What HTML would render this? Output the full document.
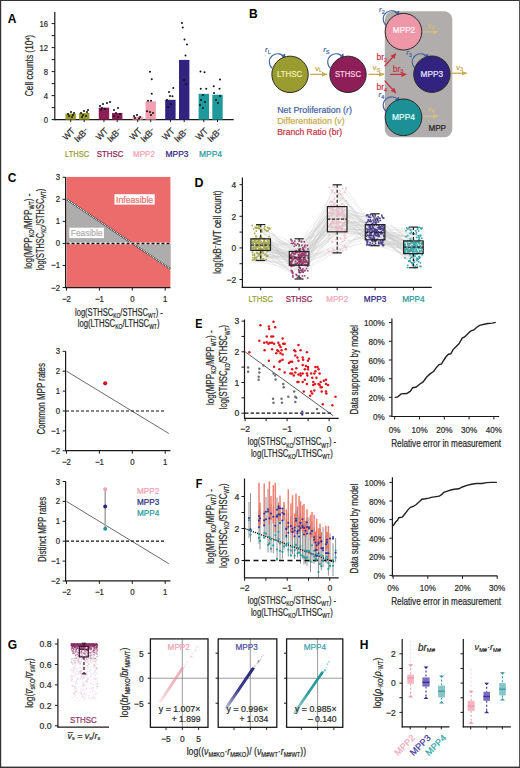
<!DOCTYPE html><html><head><meta charset="utf-8"><style>html,body{margin:0;padding:0;background:#fff;}svg{display:block;} text{font-family:"Liberation Sans", sans-serif;}</style></head><body><svg width="520" height="768" viewBox="0 0 520 768"><rect x="0" y="0" width="520" height="768" fill="#fff"/><text x="7.80" y="22.60" font-size="12" fill="#000" text-anchor="start" font-weight="bold" >A</text>
<line x1="54.80" y1="12.10" x2="54.80" y2="120.20" stroke="#1a1a1a" stroke-width="1.2" />
<line x1="54.20" y1="119.60" x2="233.70" y2="119.60" stroke="#1a1a1a" stroke-width="1.2" />
<line x1="51.60" y1="119.60" x2="54.80" y2="119.60" stroke="#1a1a1a" stroke-width="1" />
<text x="48.00" y="123.00" font-size="9.8" fill="#2a2a2a" text-anchor="end" stroke="#2a2a2a" stroke-width="0.22" textLength="4.28" lengthAdjust="spacingAndGlyphs" >0</text>
<line x1="51.60" y1="107.60" x2="54.80" y2="107.60" stroke="#1a1a1a" stroke-width="1" />
<line x1="51.60" y1="95.60" x2="54.80" y2="95.60" stroke="#1a1a1a" stroke-width="1" />
<text x="48.00" y="99.00" font-size="9.8" fill="#2a2a2a" text-anchor="end" stroke="#2a2a2a" stroke-width="0.22" textLength="4.28" lengthAdjust="spacingAndGlyphs" >4</text>
<line x1="51.60" y1="83.60" x2="54.80" y2="83.60" stroke="#1a1a1a" stroke-width="1" />
<line x1="51.60" y1="71.60" x2="54.80" y2="71.60" stroke="#1a1a1a" stroke-width="1" />
<text x="48.00" y="75.00" font-size="9.8" fill="#2a2a2a" text-anchor="end" stroke="#2a2a2a" stroke-width="0.22" textLength="4.28" lengthAdjust="spacingAndGlyphs" >8</text>
<line x1="51.60" y1="59.60" x2="54.80" y2="59.60" stroke="#1a1a1a" stroke-width="1" />
<line x1="51.60" y1="47.60" x2="54.80" y2="47.60" stroke="#1a1a1a" stroke-width="1" />
<text x="48.00" y="51.00" font-size="9.8" fill="#2a2a2a" text-anchor="end" stroke="#2a2a2a" stroke-width="0.22" textLength="8.56" lengthAdjust="spacingAndGlyphs" >12</text>
<line x1="51.60" y1="35.60" x2="54.80" y2="35.60" stroke="#1a1a1a" stroke-width="1" />
<line x1="51.60" y1="23.60" x2="54.80" y2="23.60" stroke="#1a1a1a" stroke-width="1" />
<text x="48.00" y="27.00" font-size="9.8" fill="#2a2a2a" text-anchor="end" stroke="#2a2a2a" stroke-width="0.22" textLength="8.56" lengthAdjust="spacingAndGlyphs" >16</text>
<text x="33.30" y="96.20" font-size="10" fill="#2a2a2a" text-anchor="start" stroke="#2a2a2a" stroke-width="0.22" textLength="61.20" lengthAdjust="spacingAndGlyphs" transform="rotate(-90 33.30 96.20)" >Cell counts (10<tspan font-size="6" dy="-3.5">4</tspan><tspan dy="3.5">)</tspan></text>
<rect x="65.50" y="113.60" width="10.40" height="6.00" fill="#9a9c30" />
<line x1="70.70" y1="119.60" x2="70.70" y2="122.10" stroke="#1a1a1a" stroke-width="1" />
<rect x="79.00" y="113.00" width="10.40" height="6.60" fill="#9a9c30" />
<line x1="84.20" y1="119.60" x2="84.20" y2="122.10" stroke="#1a1a1a" stroke-width="1" />
<rect x="98.75" y="107.60" width="10.40" height="12.00" fill="#8e1e58" />
<line x1="103.95" y1="119.60" x2="103.95" y2="122.10" stroke="#1a1a1a" stroke-width="1" />
<rect x="112.00" y="113.00" width="10.40" height="6.60" fill="#8e1e58" />
<line x1="117.20" y1="119.60" x2="117.20" y2="122.10" stroke="#1a1a1a" stroke-width="1" />
<rect x="132.50" y="116.60" width="10.40" height="3.00" fill="#f1a0b1" />
<line x1="137.70" y1="119.60" x2="137.70" y2="122.10" stroke="#1a1a1a" stroke-width="1" />
<rect x="145.50" y="101.30" width="10.40" height="18.30" fill="#f1a0b1" />
<line x1="150.70" y1="119.60" x2="150.70" y2="122.10" stroke="#1a1a1a" stroke-width="1" />
<rect x="165.20" y="99.80" width="10.40" height="19.80" fill="#31237f" />
<line x1="170.40" y1="119.60" x2="170.40" y2="122.10" stroke="#1a1a1a" stroke-width="1" />
<rect x="179.00" y="59.90" width="10.40" height="59.70" fill="#31237f" />
<line x1="184.20" y1="119.60" x2="184.20" y2="122.10" stroke="#1a1a1a" stroke-width="1" />
<rect x="198.60" y="93.80" width="10.40" height="25.80" fill="#1f9a9c" />
<line x1="203.80" y1="119.60" x2="203.80" y2="122.10" stroke="#1a1a1a" stroke-width="1" />
<rect x="212.30" y="94.70" width="10.40" height="24.90" fill="#1f9a9c" />
<line x1="217.50" y1="119.60" x2="217.50" y2="122.10" stroke="#1a1a1a" stroke-width="1" />
<circle cx="68.00" cy="114.00" r="1.00" fill="#111" />
<circle cx="71.00" cy="112.00" r="1.00" fill="#111" />
<circle cx="73.00" cy="115.00" r="1.00" fill="#111" />
<circle cx="69.00" cy="116.00" r="1.00" fill="#111" />
<circle cx="72.00" cy="117.00" r="1.00" fill="#111" />
<circle cx="74.00" cy="113.00" r="1.00" fill="#111" />
<circle cx="81.00" cy="113.00" r="1.00" fill="#111" />
<circle cx="84.00" cy="111.00" r="1.00" fill="#111" />
<circle cx="87.00" cy="112.00" r="1.00" fill="#111" />
<circle cx="83.00" cy="115.00" r="1.00" fill="#111" />
<circle cx="86.00" cy="116.00" r="1.00" fill="#111" />
<circle cx="82.00" cy="117.00" r="1.00" fill="#111" />
<circle cx="88.00" cy="110.00" r="1.00" fill="#111" />
<circle cx="100.00" cy="106.00" r="1.00" fill="#111" />
<circle cx="103.00" cy="104.00" r="1.00" fill="#111" />
<circle cx="107.00" cy="103.00" r="1.00" fill="#111" />
<circle cx="110.00" cy="102.00" r="1.00" fill="#111" />
<circle cx="102.00" cy="108.00" r="1.00" fill="#111" />
<circle cx="105.00" cy="109.00" r="1.00" fill="#111" />
<circle cx="101.00" cy="110.00" r="1.00" fill="#111" />
<circle cx="114.00" cy="110.00" r="1.00" fill="#111" />
<circle cx="118.00" cy="108.00" r="1.00" fill="#111" />
<circle cx="116.00" cy="113.00" r="1.00" fill="#111" />
<circle cx="120.00" cy="114.00" r="1.00" fill="#111" />
<circle cx="114.00" cy="116.00" r="1.00" fill="#111" />
<circle cx="118.00" cy="117.00" r="1.00" fill="#111" />
<circle cx="134.00" cy="116.00" r="1.00" fill="#111" />
<circle cx="137.00" cy="115.00" r="1.00" fill="#111" />
<circle cx="140.00" cy="117.00" r="1.00" fill="#111" />
<circle cx="135.00" cy="118.00" r="1.00" fill="#111" />
<circle cx="139.00" cy="118.50" r="1.00" fill="#111" />
<circle cx="150.00" cy="71.75" r="1.00" fill="#111" />
<circle cx="151.75" cy="79.25" r="1.00" fill="#111" />
<circle cx="151.75" cy="93.75" r="1.00" fill="#111" />
<circle cx="148.00" cy="100.75" r="1.00" fill="#111" />
<circle cx="151.00" cy="100.75" r="1.00" fill="#111" />
<circle cx="147.00" cy="111.25" r="1.00" fill="#111" />
<circle cx="150.00" cy="112.00" r="1.00" fill="#111" />
<circle cx="153.00" cy="113.00" r="1.00" fill="#111" />
<circle cx="151.00" cy="115.00" r="1.00" fill="#111" />
<circle cx="173.25" cy="88.00" r="1.00" fill="#111" />
<circle cx="169.00" cy="92.00" r="1.00" fill="#111" />
<circle cx="170.00" cy="96.00" r="1.00" fill="#111" />
<circle cx="172.50" cy="96.25" r="1.00" fill="#111" />
<circle cx="167.00" cy="100.00" r="1.00" fill="#111" />
<circle cx="171.00" cy="104.00" r="1.00" fill="#111" />
<circle cx="168.00" cy="107.00" r="1.00" fill="#111" />
<circle cx="182.00" cy="23.00" r="1.00" fill="#111" />
<circle cx="182.75" cy="27.50" r="1.00" fill="#111" />
<circle cx="184.50" cy="39.50" r="1.00" fill="#111" />
<circle cx="187.00" cy="44.50" r="1.00" fill="#111" />
<circle cx="185.50" cy="55.50" r="1.00" fill="#111" />
<circle cx="184.00" cy="80.00" r="1.00" fill="#111" />
<circle cx="186.00" cy="84.00" r="1.00" fill="#111" />
<circle cx="200.50" cy="71.50" r="1.00" fill="#111" />
<circle cx="204.50" cy="72.25" r="1.00" fill="#111" />
<circle cx="200.75" cy="88.75" r="1.00" fill="#111" />
<circle cx="206.25" cy="88.75" r="1.00" fill="#111" />
<circle cx="203.00" cy="95.00" r="1.00" fill="#111" />
<circle cx="201.00" cy="100.00" r="1.00" fill="#111" />
<circle cx="205.00" cy="102.00" r="1.00" fill="#111" />
<circle cx="200.00" cy="105.00" r="1.00" fill="#111" />
<circle cx="203.00" cy="108.00" r="1.00" fill="#111" />
<circle cx="220.00" cy="79.50" r="1.00" fill="#111" />
<circle cx="213.75" cy="86.25" r="1.00" fill="#111" />
<circle cx="219.50" cy="88.75" r="1.00" fill="#111" />
<circle cx="214.00" cy="93.00" r="1.00" fill="#111" />
<circle cx="220.00" cy="96.00" r="1.00" fill="#111" />
<circle cx="216.00" cy="100.00" r="1.00" fill="#111" />
<circle cx="218.00" cy="103.00" r="1.00" fill="#111" />
<text x="75.50" y="131.50" font-size="9" fill="#2a2a2a" text-anchor="end" stroke="#2a2a2a" stroke-width="0.22" textLength="13.20" lengthAdjust="spacingAndGlyphs" transform="rotate(-45 75.50 131.50)" >WT</text>
<text x="89.00" y="131.50" font-size="9" fill="#2a2a2a" text-anchor="end" stroke="#2a2a2a" stroke-width="0.22" textLength="16.00" lengthAdjust="spacingAndGlyphs" transform="rotate(-45 89.00 131.50)" >I&#954;B<tspan font-size="5.5" dy="-2.5">&#8211;</tspan></text>
<text x="108.75" y="131.50" font-size="9" fill="#2a2a2a" text-anchor="end" stroke="#2a2a2a" stroke-width="0.22" textLength="13.20" lengthAdjust="spacingAndGlyphs" transform="rotate(-45 108.75 131.50)" >WT</text>
<text x="122.00" y="131.50" font-size="9" fill="#2a2a2a" text-anchor="end" stroke="#2a2a2a" stroke-width="0.22" textLength="16.00" lengthAdjust="spacingAndGlyphs" transform="rotate(-45 122.00 131.50)" >I&#954;B<tspan font-size="5.5" dy="-2.5">&#8211;</tspan></text>
<text x="142.50" y="131.50" font-size="9" fill="#2a2a2a" text-anchor="end" stroke="#2a2a2a" stroke-width="0.22" textLength="13.20" lengthAdjust="spacingAndGlyphs" transform="rotate(-45 142.50 131.50)" >WT</text>
<text x="155.50" y="131.50" font-size="9" fill="#2a2a2a" text-anchor="end" stroke="#2a2a2a" stroke-width="0.22" textLength="16.00" lengthAdjust="spacingAndGlyphs" transform="rotate(-45 155.50 131.50)" >I&#954;B<tspan font-size="5.5" dy="-2.5">&#8211;</tspan></text>
<text x="175.20" y="131.50" font-size="9" fill="#2a2a2a" text-anchor="end" stroke="#2a2a2a" stroke-width="0.22" textLength="13.20" lengthAdjust="spacingAndGlyphs" transform="rotate(-45 175.20 131.50)" >WT</text>
<text x="189.00" y="131.50" font-size="9" fill="#2a2a2a" text-anchor="end" stroke="#2a2a2a" stroke-width="0.22" textLength="16.00" lengthAdjust="spacingAndGlyphs" transform="rotate(-45 189.00 131.50)" >I&#954;B<tspan font-size="5.5" dy="-2.5">&#8211;</tspan></text>
<text x="208.60" y="131.50" font-size="9" fill="#2a2a2a" text-anchor="end" stroke="#2a2a2a" stroke-width="0.22" textLength="13.20" lengthAdjust="spacingAndGlyphs" transform="rotate(-45 208.60 131.50)" >WT</text>
<text x="222.30" y="131.50" font-size="9" fill="#2a2a2a" text-anchor="end" stroke="#2a2a2a" stroke-width="0.22" textLength="16.00" lengthAdjust="spacingAndGlyphs" transform="rotate(-45 222.30 131.50)" >I&#954;B<tspan font-size="5.5" dy="-2.5">&#8211;</tspan></text>
<text x="65.00" y="156.90" font-size="8.6" fill="#9a9c30" text-anchor="start" stroke="#9a9c30" stroke-width="0.22" textLength="24.20" lengthAdjust="spacingAndGlyphs" >LTHSC</text>
<text x="96.80" y="156.90" font-size="8.6" fill="#8e1e58" text-anchor="start" stroke="#8e1e58" stroke-width="0.22" textLength="26.70" lengthAdjust="spacingAndGlyphs" >STHSC</text>
<text x="133.00" y="156.90" font-size="8.6" fill="#f1a0b1" text-anchor="start" stroke="#f1a0b1" stroke-width="0.22" textLength="22.00" lengthAdjust="spacingAndGlyphs" >MPP2</text>
<text x="165.50" y="156.90" font-size="8.6" fill="#31237f" text-anchor="start" stroke="#31237f" stroke-width="0.22" textLength="23.00" lengthAdjust="spacingAndGlyphs" >MPP3</text>
<text x="199.00" y="156.90" font-size="8.6" fill="#1f9a9c" text-anchor="start" stroke="#1f9a9c" stroke-width="0.22" textLength="23.00" lengthAdjust="spacingAndGlyphs" >MPP4</text>
<text x="249.00" y="18.00" font-size="12" fill="#000" text-anchor="start" font-weight="bold" >B</text>
<rect x="384.8" y="11.3" width="67.5" height="126" rx="8" ry="8" fill="#b0adac"/>
<defs><marker id="ag" markerWidth="6" markerHeight="6" refX="5" refY="3" orient="auto" markerUnits="userSpaceOnUse"><path d="M0,0.6 L5.5,3 L0,5.4 z" fill="#c9aa50"/></marker><marker id="ag2" markerWidth="6" markerHeight="6" refX="5" refY="3" orient="auto" markerUnits="userSpaceOnUse"><path d="M0,0.6 L5.5,3 L0,5.4 z" fill="#d2bf78"/></marker><marker id="ar" markerWidth="6" markerHeight="6" refX="5" refY="3" orient="auto" markerUnits="userSpaceOnUse"><path d="M0,0.5 L5.5,3 L0,5.5 z" fill="#c93545"/></marker><marker id="ab" markerWidth="6" markerHeight="6" refX="4" refY="3" orient="auto" markerUnits="userSpaceOnUse"><path d="M0,0.6 L5,3 L0,5.4 z" fill="#4565a5"/></marker></defs>
<path d="M272.15,68.26 A8.3,8.3 0 1 1 284.93,58.10" fill="none" stroke="#4565a5" stroke-width="1.1" marker-end="url(#ab)"/>
<text x="265.00" y="52.20" font-size="8" fill="#4565a5" text-anchor="start" stroke="#4565a5" stroke-width="0.22" ><tspan font-style="italic">r</tspan><tspan font-size="5.5" dy="1.8">L</tspan></text>
<path d="M330.55,68.26 A8.3,8.3 0 1 1 343.33,58.10" fill="none" stroke="#4565a5" stroke-width="1.1" marker-end="url(#ab)"/>
<text x="323.20" y="52.20" font-size="8" fill="#4565a5" text-anchor="start" stroke="#4565a5" stroke-width="0.22" ><tspan font-style="italic">r</tspan><tspan font-size="5.5" dy="1.8">S</tspan></text>
<path d="M386.05,25.26 A8.3,8.3 0 1 1 398.83,15.10" fill="none" stroke="#4565a5" stroke-width="1.1" marker-end="url(#ab)"/>
<text x="379.00" y="12.30" font-size="8" fill="#4565a5" text-anchor="start" stroke="#4565a5" stroke-width="0.22" ><tspan font-style="italic">r</tspan><tspan font-size="5.5" dy="1.8">2</tspan></text>
<path d="M415.05,68.26 A8.3,8.3 0 1 1 427.83,58.10" fill="none" stroke="#4565a5" stroke-width="1.1" marker-end="url(#ab)"/>
<text x="406.20" y="55.30" font-size="8" fill="#4565a5" text-anchor="start" stroke="#4565a5" stroke-width="0.22" ><tspan font-style="italic">r</tspan><tspan font-size="5.5" dy="1.8">3</tspan></text>
<path d="M386.05,111.46 A8.3,8.3 0 1 1 398.83,101.30" fill="none" stroke="#4565a5" stroke-width="1.1" marker-end="url(#ab)"/>
<text x="378.50" y="97.00" font-size="8" fill="#4565a5" text-anchor="start" stroke="#4565a5" stroke-width="0.22" ><tspan font-style="italic">r</tspan><tspan font-size="5.5" dy="1.8">4</tspan></text>
<circle cx="290.05" cy="74.35" r="18.20" fill="#9a9c30" stroke="#2a2a2a" stroke-width="1"/>
<text x="289.60" y="76.90" font-size="9" fill="#f2f0b4" text-anchor="middle" stroke="#f2f0b4" stroke-width="0.22" textLength="25.20" lengthAdjust="spacingAndGlyphs" >LTHSC</text>
<circle cx="348.00" cy="74.35" r="18.20" fill="#8e1e58" stroke="#2a2a2a" stroke-width="1"/>
<text x="348.00" y="77.00" font-size="9" fill="#f6d2e2" text-anchor="middle" stroke="#f6d2e2" stroke-width="0.22" textLength="26.00" lengthAdjust="spacingAndGlyphs" >STHSC</text>
<circle cx="403.50" cy="31.70" r="18.30" fill="#ee97a8" stroke="#2a2a2a" stroke-width="1"/>
<text x="404.00" y="32.90" font-size="9" fill="#fff4f8" text-anchor="middle" stroke="#fff4f8" stroke-width="0.22" textLength="22.40" lengthAdjust="spacingAndGlyphs" >MPP2</text>
<circle cx="431.90" cy="74.20" r="18.20" fill="#31237f" stroke="#2a2a2a" stroke-width="1"/>
<text x="431.85" y="77.10" font-size="9" fill="#e8e4ff" text-anchor="middle" stroke="#e8e4ff" stroke-width="0.22" textLength="22.50" lengthAdjust="spacingAndGlyphs" >MPP3</text>
<circle cx="403.50" cy="117.30" r="18.30" fill="#1b9195" stroke="#2a2a2a" stroke-width="1"/>
<text x="403.50" y="119.80" font-size="9" fill="#e6ffff" text-anchor="middle" stroke="#e6ffff" stroke-width="0.22" textLength="22.80" lengthAdjust="spacingAndGlyphs" >MPP4</text>
<line x1="310.4" y1="74.35" x2="327" y2="74.35" stroke="#c9aa50" stroke-width="1.3" marker-end="url(#ag)"/>
<text x="315.00" y="70.50" font-size="8" fill="#c9aa50" text-anchor="start" stroke="#c9aa50" stroke-width="0.22" >v<tspan font-size="5.5" dy="1.8">L</tspan></text>
<line x1="368.5" y1="74.35" x2="384" y2="74.35" stroke="#c9aa50" stroke-width="1.3" marker-end="url(#ag)"/>
<text x="372.50" y="70.00" font-size="8" fill="#c9aa50" text-anchor="start" stroke="#c9aa50" stroke-width="0.22" >v<tspan font-size="5.5" dy="1.8">S</tspan></text>
<line x1="384.6" y1="66.2" x2="395.8" y2="53.7" stroke="#c93545" stroke-width="1.3" marker-end="url(#ar)"/>
<text x="376.50" y="60.20" font-size="8.5" fill="#c93545" text-anchor="start" stroke="#c93545" stroke-width="0.22" >br<tspan font-size="5.5" dy="1.8">2</tspan></text>
<line x1="390" y1="74.4" x2="406.3" y2="74.4" stroke="#c93545" stroke-width="1.3" marker-end="url(#ar)"/>
<text x="392.80" y="71.50" font-size="8.5" fill="#c93545" text-anchor="start" stroke="#c93545" stroke-width="0.22" >br<tspan font-size="5.5" dy="1.8">3</tspan></text>
<line x1="384.6" y1="80.6" x2="395.8" y2="93" stroke="#c93545" stroke-width="1.3" marker-end="url(#ar)"/>
<text x="376.50" y="90.00" font-size="8.5" fill="#c93545" text-anchor="start" stroke="#c93545" stroke-width="0.22" >br<tspan font-size="5.5" dy="1.8">4</tspan></text>
<line x1="423" y1="31.8" x2="438" y2="31.8" stroke="#d2bf78" stroke-width="1.3" marker-end="url(#ag2)"/>
<text x="427.50" y="27.50" font-size="8" fill="#d2bf78" text-anchor="start" stroke="#d2bf78" stroke-width="0.22" >v<tspan font-size="5.5" dy="1.8">2</tspan></text>
<line x1="451.4" y1="73.2" x2="466.7" y2="73.2" stroke="#c9aa50" stroke-width="1.3" marker-end="url(#ag)"/>
<text x="456.00" y="69.50" font-size="8" fill="#c9aa50" text-anchor="start" stroke="#c9aa50" stroke-width="0.22" >v<tspan font-size="5.5" dy="1.8">3</tspan></text>
<line x1="423" y1="116.3" x2="438" y2="116.3" stroke="#d2bf78" stroke-width="1.3" marker-end="url(#ag2)"/>
<text x="427.50" y="111.00" font-size="8" fill="#d2bf78" text-anchor="start" stroke="#d2bf78" stroke-width="0.22" >v<tspan font-size="5.5" dy="1.8">4</tspan></text>
<text x="428.50" y="131.20" font-size="9" fill="#222" text-anchor="start" stroke="#222" stroke-width="0.22" textLength="17.50" lengthAdjust="spacingAndGlyphs" >MPP</text>
<text x="277.20" y="113.00" font-size="8.6" fill="#4565a5" text-anchor="start" stroke="#4565a5" stroke-width="0.22" textLength="74.80" lengthAdjust="spacingAndGlyphs" >Net Proliferation (<tspan font-style="italic">r</tspan>)</text>
<text x="277.20" y="123.90" font-size="8.6" fill="#c9aa50" text-anchor="start" stroke="#c9aa50" stroke-width="0.22" textLength="67.50" lengthAdjust="spacingAndGlyphs" >Differentiation (<tspan font-style="italic">v</tspan>)</text>
<text x="277.20" y="134.60" font-size="8.6" fill="#c93545" text-anchor="start" stroke="#c93545" stroke-width="0.22" textLength="64.90" lengthAdjust="spacingAndGlyphs" >Branch Ratio (br)</text>
<text x="7.80" y="182.40" font-size="12" fill="#000" text-anchor="start" font-weight="bold" >C</text>
<rect x="66.50" y="176.90" width="103.90" height="110.30" fill="#ec6c6c" />
<polygon points="66.50,199.30 132.30,243.40 66.50,243.40" fill="#adadad"/>
<polygon points="132.30,243.40 170.46,268.98 170.46,243.40" fill="#adadad"/>
<line x1="66.50" y1="199.30" x2="170.46" y2="268.98" stroke="#444" stroke-width="1.7" />
<line x1="66.50" y1="199.30" x2="170.46" y2="268.98" stroke="#fff" stroke-width="1.1" stroke-dasharray="0.9 0.9"/>
<line x1="66.50" y1="243.40" x2="170.40" y2="243.40" stroke="#fff" stroke-width="1.7" />
<line x1="66.50" y1="243.40" x2="170.40" y2="243.40" stroke="#111" stroke-width="1.5" stroke-dasharray="3 2"/>
<rect x="114.50" y="194.20" width="40.20" height="10.40" fill="#fff" />
<text x="116.00" y="202.80" font-size="9.5" fill="#ec6c6c" text-anchor="start" stroke="#ec6c6c" stroke-width="0.22" textLength="37.20" lengthAdjust="spacingAndGlyphs" >Infeasible</text>
<rect x="69.30" y="227.70" width="34.60" height="10.40" fill="#fff" />
<text x="70.80" y="236.30" font-size="9.5" fill="#adadad" text-anchor="start" stroke="#adadad" stroke-width="0.22" textLength="31.60" lengthAdjust="spacingAndGlyphs" >Feasible</text>
<line x1="65.60" y1="176.90" x2="65.60" y2="287.80" stroke="#1a1a1a" stroke-width="1.2" />
<line x1="62.60" y1="177.25" x2="65.60" y2="177.25" stroke="#1a1a1a" stroke-width="1" />
<text x="60.00" y="180.25" font-size="8.8" fill="#2a2a2a" text-anchor="end" stroke="#2a2a2a" stroke-width="0.22" textLength="4.34" lengthAdjust="spacingAndGlyphs" >3</text>
<line x1="62.60" y1="199.30" x2="65.60" y2="199.30" stroke="#1a1a1a" stroke-width="1" />
<text x="60.00" y="202.30" font-size="8.8" fill="#2a2a2a" text-anchor="end" stroke="#2a2a2a" stroke-width="0.22" textLength="4.34" lengthAdjust="spacingAndGlyphs" >2</text>
<line x1="62.60" y1="221.35" x2="65.60" y2="221.35" stroke="#1a1a1a" stroke-width="1" />
<text x="60.00" y="224.35" font-size="8.8" fill="#2a2a2a" text-anchor="end" stroke="#2a2a2a" stroke-width="0.22" textLength="4.34" lengthAdjust="spacingAndGlyphs" >1</text>
<line x1="62.60" y1="243.40" x2="65.60" y2="243.40" stroke="#1a1a1a" stroke-width="1" />
<text x="60.00" y="246.40" font-size="8.8" fill="#2a2a2a" text-anchor="end" stroke="#2a2a2a" stroke-width="0.22" textLength="4.34" lengthAdjust="spacingAndGlyphs" >0</text>
<line x1="62.60" y1="265.45" x2="65.60" y2="265.45" stroke="#1a1a1a" stroke-width="1" />
<text x="60.00" y="268.45" font-size="8.8" fill="#2a2a2a" text-anchor="end" stroke="#2a2a2a" stroke-width="0.22" textLength="8.89" lengthAdjust="spacingAndGlyphs" >&#8722;1</text>
<line x1="62.60" y1="287.50" x2="65.60" y2="287.50" stroke="#1a1a1a" stroke-width="1" />
<text x="60.00" y="290.50" font-size="8.8" fill="#2a2a2a" text-anchor="end" stroke="#2a2a2a" stroke-width="0.22" textLength="8.89" lengthAdjust="spacingAndGlyphs" >&#8722;2</text>
<line x1="65.00" y1="287.60" x2="170.40" y2="287.60" stroke="#1a1a1a" stroke-width="1.2" />
<line x1="66.50" y1="287.60" x2="66.50" y2="290.60" stroke="#1a1a1a" stroke-width="1" />
<text x="66.50" y="301.60" font-size="8.8" fill="#2a2a2a" text-anchor="middle" stroke="#2a2a2a" stroke-width="0.22" textLength="8.89" lengthAdjust="spacingAndGlyphs" >&#8722;2</text>
<line x1="99.40" y1="287.60" x2="99.40" y2="290.60" stroke="#1a1a1a" stroke-width="1" />
<text x="99.40" y="301.60" font-size="8.8" fill="#2a2a2a" text-anchor="middle" stroke="#2a2a2a" stroke-width="0.22" textLength="8.89" lengthAdjust="spacingAndGlyphs" >&#8722;1</text>
<line x1="132.30" y1="287.60" x2="132.30" y2="290.60" stroke="#1a1a1a" stroke-width="1" />
<text x="132.30" y="301.60" font-size="8.8" fill="#2a2a2a" text-anchor="middle" stroke="#2a2a2a" stroke-width="0.22" textLength="4.34" lengthAdjust="spacingAndGlyphs" >0</text>
<line x1="165.20" y1="287.60" x2="165.20" y2="290.60" stroke="#1a1a1a" stroke-width="1" />
<text x="165.20" y="301.60" font-size="8.8" fill="#2a2a2a" text-anchor="middle" stroke="#2a2a2a" stroke-width="0.22" textLength="4.34" lengthAdjust="spacingAndGlyphs" >1</text>
<text x="75.00" y="316.00" font-size="10" fill="#2a2a2a" text-anchor="start" stroke="#2a2a2a" stroke-width="0.22" textLength="87.80" lengthAdjust="spacingAndGlyphs" >log(STHSC<tspan font-size="6.5" dy="2.2">KO</tspan><tspan dy="-2.2">/STHSC</tspan><tspan font-size="6.5" dy="2.2">WT</tspan><tspan dy="-2.2">) -</tspan></text>
<text x="77.70" y="327.00" font-size="10" fill="#2a2a2a" text-anchor="start" stroke="#2a2a2a" stroke-width="0.22" textLength="81.80" lengthAdjust="spacingAndGlyphs" >log(LTHSC<tspan font-size="6.5" dy="2.2">KO</tspan><tspan dy="-2.2">/LTHSC</tspan><tspan font-size="6.5" dy="2.2">WT</tspan><tspan dy="-2.2">)</tspan></text>
<text x="32.10" y="268.80" font-size="10" fill="#2a2a2a" text-anchor="start" stroke="#2a2a2a" stroke-width="0.22" textLength="75.30" lengthAdjust="spacingAndGlyphs" transform="rotate(-90 32.10 268.80)" >log(MPP<tspan font-size="6.5" dy="2.2">KO</tspan><tspan dy="-2.2">/MPP</tspan><tspan font-size="6.5" dy="2.2">WT</tspan><tspan dy="-2.2">) -</tspan></text>
<text x="44.10" y="270.30" font-size="10" fill="#2a2a2a" text-anchor="start" stroke="#2a2a2a" stroke-width="0.22" textLength="81.50" lengthAdjust="spacingAndGlyphs" transform="rotate(-90 44.10 270.30)" >log(STHSC<tspan font-size="6.5" dy="2.2">KO</tspan><tspan dy="-2.2">/STHSC</tspan><tspan font-size="6.5" dy="2.2">WT</tspan><tspan dy="-2.2">)</tspan></text>
<line x1="66.50" y1="371.20" x2="168.80" y2="433.49" stroke="#444" stroke-width="0.8" />
<line x1="66.00" y1="411.00" x2="165.00" y2="411.00" stroke="#111" stroke-width="1.2" stroke-dasharray="3 2"/>
<circle cx="105.20" cy="383.30" r="2.10" fill="#d0181e" />
<line x1="65.60" y1="351.20" x2="65.60" y2="451.10" stroke="#1a1a1a" stroke-width="1.2" />
<line x1="62.60" y1="351.30" x2="65.60" y2="351.30" stroke="#1a1a1a" stroke-width="1" />
<text x="60.00" y="354.30" font-size="8.8" fill="#2a2a2a" text-anchor="end" stroke="#2a2a2a" stroke-width="0.22" textLength="4.34" lengthAdjust="spacingAndGlyphs" >3</text>
<line x1="62.60" y1="371.20" x2="65.60" y2="371.20" stroke="#1a1a1a" stroke-width="1" />
<text x="60.00" y="374.20" font-size="8.8" fill="#2a2a2a" text-anchor="end" stroke="#2a2a2a" stroke-width="0.22" textLength="4.34" lengthAdjust="spacingAndGlyphs" >2</text>
<line x1="62.60" y1="391.10" x2="65.60" y2="391.10" stroke="#1a1a1a" stroke-width="1" />
<text x="60.00" y="394.10" font-size="8.8" fill="#2a2a2a" text-anchor="end" stroke="#2a2a2a" stroke-width="0.22" textLength="4.34" lengthAdjust="spacingAndGlyphs" >1</text>
<line x1="62.60" y1="411.00" x2="65.60" y2="411.00" stroke="#1a1a1a" stroke-width="1" />
<text x="60.00" y="414.00" font-size="8.8" fill="#2a2a2a" text-anchor="end" stroke="#2a2a2a" stroke-width="0.22" textLength="4.34" lengthAdjust="spacingAndGlyphs" >0</text>
<line x1="62.60" y1="430.90" x2="65.60" y2="430.90" stroke="#1a1a1a" stroke-width="1" />
<text x="60.00" y="433.90" font-size="8.8" fill="#2a2a2a" text-anchor="end" stroke="#2a2a2a" stroke-width="0.22" textLength="8.89" lengthAdjust="spacingAndGlyphs" >&#8722;1</text>
<line x1="62.60" y1="450.80" x2="65.60" y2="450.80" stroke="#1a1a1a" stroke-width="1" />
<text x="60.00" y="453.80" font-size="8.8" fill="#2a2a2a" text-anchor="end" stroke="#2a2a2a" stroke-width="0.22" textLength="8.89" lengthAdjust="spacingAndGlyphs" >&#8722;2</text>
<line x1="65.00" y1="450.70" x2="170.40" y2="450.70" stroke="#1a1a1a" stroke-width="1.2" />
<line x1="66.50" y1="450.70" x2="66.50" y2="453.70" stroke="#1a1a1a" stroke-width="1" />
<text x="66.50" y="464.70" font-size="8.8" fill="#2a2a2a" text-anchor="middle" stroke="#2a2a2a" stroke-width="0.22" textLength="8.89" lengthAdjust="spacingAndGlyphs" >&#8722;2</text>
<line x1="99.40" y1="450.70" x2="99.40" y2="453.70" stroke="#1a1a1a" stroke-width="1" />
<text x="99.40" y="464.70" font-size="8.8" fill="#2a2a2a" text-anchor="middle" stroke="#2a2a2a" stroke-width="0.22" textLength="8.89" lengthAdjust="spacingAndGlyphs" >&#8722;1</text>
<line x1="132.30" y1="450.70" x2="132.30" y2="453.70" stroke="#1a1a1a" stroke-width="1" />
<text x="132.30" y="464.70" font-size="8.8" fill="#2a2a2a" text-anchor="middle" stroke="#2a2a2a" stroke-width="0.22" textLength="4.34" lengthAdjust="spacingAndGlyphs" >0</text>
<line x1="165.20" y1="450.70" x2="165.20" y2="453.70" stroke="#1a1a1a" stroke-width="1" />
<text x="165.20" y="464.70" font-size="8.8" fill="#2a2a2a" text-anchor="middle" stroke="#2a2a2a" stroke-width="0.22" textLength="4.34" lengthAdjust="spacingAndGlyphs" >1</text>
<text x="45.40" y="434.60" font-size="10" fill="#2a2a2a" text-anchor="start" stroke="#2a2a2a" stroke-width="0.22" textLength="71.60" lengthAdjust="spacingAndGlyphs" transform="rotate(-90 45.40 434.60)" >Common MPP rates</text>
<line x1="66.50" y1="501.40" x2="168.80" y2="563.69" stroke="#444" stroke-width="0.8" />
<line x1="66.00" y1="541.20" x2="165.00" y2="541.20" stroke="#111" stroke-width="1.2" stroke-dasharray="3 2"/>
<line x1="105.20" y1="489.30" x2="105.20" y2="528.80" stroke="#aaa" stroke-width="1.6" />
<circle cx="105.20" cy="489.30" r="2.00" fill="#f1a0b1" />
<circle cx="105.20" cy="506.50" r="2.00" fill="#31237f" />
<circle cx="105.20" cy="528.80" r="2.00" fill="#1f9a9c" />
<text x="136.90" y="493.80" font-size="8.2" fill="#f2a0b2" text-anchor="start" stroke="#f2a0b2" stroke-width="0.22" textLength="22.30" lengthAdjust="spacingAndGlyphs" >MPP2</text>
<text x="136.90" y="504.80" font-size="8.2" fill="#2a2a80" text-anchor="start" stroke="#2a2a80" stroke-width="0.22" textLength="22.30" lengthAdjust="spacingAndGlyphs" >MPP3</text>
<text x="136.90" y="515.80" font-size="8.2" fill="#2a9a9a" text-anchor="start" stroke="#2a9a9a" stroke-width="0.22" textLength="22.30" lengthAdjust="spacingAndGlyphs" >MPP4</text>
<line x1="65.60" y1="481.30" x2="65.60" y2="581.30" stroke="#1a1a1a" stroke-width="1.2" />
<line x1="62.60" y1="481.50" x2="65.60" y2="481.50" stroke="#1a1a1a" stroke-width="1" />
<text x="60.00" y="484.50" font-size="8.8" fill="#2a2a2a" text-anchor="end" stroke="#2a2a2a" stroke-width="0.22" textLength="4.34" lengthAdjust="spacingAndGlyphs" >3</text>
<line x1="62.60" y1="501.40" x2="65.60" y2="501.40" stroke="#1a1a1a" stroke-width="1" />
<text x="60.00" y="504.40" font-size="8.8" fill="#2a2a2a" text-anchor="end" stroke="#2a2a2a" stroke-width="0.22" textLength="4.34" lengthAdjust="spacingAndGlyphs" >2</text>
<line x1="62.60" y1="521.30" x2="65.60" y2="521.30" stroke="#1a1a1a" stroke-width="1" />
<text x="60.00" y="524.30" font-size="8.8" fill="#2a2a2a" text-anchor="end" stroke="#2a2a2a" stroke-width="0.22" textLength="4.34" lengthAdjust="spacingAndGlyphs" >1</text>
<line x1="62.60" y1="541.20" x2="65.60" y2="541.20" stroke="#1a1a1a" stroke-width="1" />
<text x="60.00" y="544.20" font-size="8.8" fill="#2a2a2a" text-anchor="end" stroke="#2a2a2a" stroke-width="0.22" textLength="4.34" lengthAdjust="spacingAndGlyphs" >0</text>
<line x1="62.60" y1="561.10" x2="65.60" y2="561.10" stroke="#1a1a1a" stroke-width="1" />
<text x="60.00" y="564.10" font-size="8.8" fill="#2a2a2a" text-anchor="end" stroke="#2a2a2a" stroke-width="0.22" textLength="8.89" lengthAdjust="spacingAndGlyphs" >&#8722;1</text>
<line x1="62.60" y1="581.00" x2="65.60" y2="581.00" stroke="#1a1a1a" stroke-width="1" />
<text x="60.00" y="584.00" font-size="8.8" fill="#2a2a2a" text-anchor="end" stroke="#2a2a2a" stroke-width="0.22" textLength="8.89" lengthAdjust="spacingAndGlyphs" >&#8722;2</text>
<line x1="65.00" y1="580.90" x2="170.40" y2="580.90" stroke="#1a1a1a" stroke-width="1.2" />
<line x1="66.50" y1="580.90" x2="66.50" y2="583.90" stroke="#1a1a1a" stroke-width="1" />
<text x="66.50" y="594.90" font-size="8.8" fill="#2a2a2a" text-anchor="middle" stroke="#2a2a2a" stroke-width="0.22" textLength="8.89" lengthAdjust="spacingAndGlyphs" >&#8722;2</text>
<line x1="99.40" y1="580.90" x2="99.40" y2="583.90" stroke="#1a1a1a" stroke-width="1" />
<text x="99.40" y="594.90" font-size="8.8" fill="#2a2a2a" text-anchor="middle" stroke="#2a2a2a" stroke-width="0.22" textLength="8.89" lengthAdjust="spacingAndGlyphs" >&#8722;1</text>
<line x1="132.30" y1="580.90" x2="132.30" y2="583.90" stroke="#1a1a1a" stroke-width="1" />
<text x="132.30" y="594.90" font-size="8.8" fill="#2a2a2a" text-anchor="middle" stroke="#2a2a2a" stroke-width="0.22" textLength="4.34" lengthAdjust="spacingAndGlyphs" >0</text>
<line x1="165.20" y1="580.90" x2="165.20" y2="583.90" stroke="#1a1a1a" stroke-width="1" />
<text x="165.20" y="594.90" font-size="8.8" fill="#2a2a2a" text-anchor="middle" stroke="#2a2a2a" stroke-width="0.22" textLength="4.34" lengthAdjust="spacingAndGlyphs" >1</text>
<text x="45.50" y="562.00" font-size="10" fill="#2a2a2a" text-anchor="start" stroke="#2a2a2a" stroke-width="0.22" textLength="65.10" lengthAdjust="spacingAndGlyphs" transform="rotate(-90 45.50 562.00)" >Distinct MPP rates</text>
<text x="194.60" y="186.60" font-size="12" fill="#000" text-anchor="start" font-weight="bold" textLength="9.00" lengthAdjust="spacingAndGlyphs" >D</text>
<g stroke="#c8c8c8" stroke-width="0.35" fill="none" opacity="0.9">
<polyline points="259.8,249.5 298.5,259.5 331.5,222.5 380.4,229.2 406.0,236.7"/>
<polyline points="252.5,260.1 301.9,253.6 328.5,208.1 369.5,225.1 412.8,251.6"/>
<polyline points="261.0,231.7 302.0,255.2 346.2,249.5 378.8,228.1 409.6,250.6"/>
<polyline points="258.9,254.3 307.3,265.2 332.0,241.7 383.7,225.7 415.7,230.8"/>
<polyline points="253.3,250.0 303.7,254.8 330.0,226.7 369.3,231.4 407.8,228.9"/>
<polyline points="263.3,243.7 293.9,264.8 342.7,228.9 369.9,237.6 416.0,253.5"/>
<polyline points="255.5,247.8 296.0,252.4 329.8,212.7 376.9,231.5 421.7,248.2"/>
<polyline points="267.3,240.6 306.5,268.6 331.6,205.3 369.6,245.0 415.3,242.2"/>
<polyline points="252.4,252.8 302.8,262.8 338.9,211.0 379.1,228.1 414.5,262.3"/>
<polyline points="256.7,252.5 290.4,257.6 329.3,215.9 376.4,230.1 420.4,262.9"/>
<polyline points="264.1,240.4 290.7,264.0 340.8,232.2 377.6,235.7 410.1,254.7"/>
<polyline points="261.5,237.4 303.4,248.8 344.7,223.9 382.3,242.3 418.6,261.7"/>
<polyline points="262.9,245.6 301.1,260.2 346.1,247.2 373.1,220.1 412.3,254.8"/>
<polyline points="265.2,245.8 298.8,261.0 337.2,229.8 370.7,229.2 416.6,243.1"/>
<polyline points="268.0,230.9 306.2,260.6 331.8,226.9 382.6,242.1 414.9,242.6"/>
<polyline points="260.6,259.0 302.9,269.0 331.2,213.5 370.0,234.1 413.3,251.6"/>
<polyline points="269.4,239.7 290.7,265.8 341.0,214.4 380.3,226.7 412.6,251.4"/>
<polyline points="256.0,239.3 301.4,260.1 340.0,205.7 378.4,231.8 407.6,246.9"/>
<polyline points="264.6,242.0 296.3,245.4 339.3,193.4 380.4,240.3 421.2,228.9"/>
<polyline points="259.9,237.5 296.9,263.5 342.5,241.6 377.8,235.6 419.1,237.0"/>
<polyline points="255.5,260.3 307.7,262.3 334.0,249.9 372.4,231.3 414.3,233.8"/>
<polyline points="252.2,225.5 304.5,256.0 342.4,210.3 375.4,222.9 416.8,260.5"/>
<polyline points="268.8,241.4 299.6,261.5 339.7,227.9 376.2,230.4 419.6,256.5"/>
<polyline points="267.0,255.7 300.4,258.8 337.3,207.3 383.5,230.7 418.8,247.1"/>
<polyline points="264.1,245.0 297.5,277.9 333.0,209.8 373.9,245.1 413.0,243.3"/>
<polyline points="262.8,251.7 304.1,254.1 332.3,191.8 372.5,226.2 417.6,247.4"/>
<polyline points="256.2,245.0 298.0,257.1 337.7,211.7 377.5,219.5 419.7,251.8"/>
<polyline points="255.9,236.1 306.3,255.7 344.8,231.8 382.1,228.2 417.5,242.1"/>
<polyline points="266.7,248.0 292.4,260.9 328.5,223.8 382.5,240.5 413.5,234.0"/>
<polyline points="264.0,239.6 292.0,259.0 337.5,210.3 369.4,237.4 422.2,254.9"/>
<polyline points="252.8,255.1 303.9,257.8 337.5,221.7 366.3,222.9 407.7,250.3"/>
<polyline points="259.0,240.7 299.3,263.7 342.6,203.6 377.4,233.7 413.5,264.9"/>
<polyline points="256.3,257.9 304.1,270.8 344.3,246.5 379.9,218.2 417.4,245.2"/>
<polyline points="260.1,242.9 301.6,241.7 345.2,192.2 378.0,232.7 411.4,262.7"/>
<polyline points="264.3,238.5 290.5,261.6 332.8,207.9 369.6,226.1 408.9,261.4"/>
<polyline points="260.8,256.1 308.0,249.0 329.6,225.7 366.9,240.7 412.9,247.2"/>
<polyline points="262.7,249.8 297.7,259.7 334.8,223.1 376.2,235.5 409.7,244.0"/>
<polyline points="252.5,247.6 297.1,275.5 329.1,251.7 367.4,242.3 413.0,257.0"/>
<polyline points="261.1,257.7 298.5,276.5 339.1,222.3 374.3,225.4 413.9,246.5"/>
<polyline points="263.7,241.8 300.6,262.1 337.8,251.9 379.3,226.3 420.5,235.7"/>
<polyline points="258.2,246.7 300.3,260.1 341.8,212.9 383.7,245.0 405.1,244.3"/>
<polyline points="259.4,226.1 299.8,252.6 340.4,222.5 372.8,227.8 410.6,238.7"/>
<polyline points="253.0,248.2 301.3,241.5 335.8,227.0 372.7,224.5 410.3,250.4"/>
<polyline points="268.3,243.1 291.8,266.3 329.7,218.8 378.4,236.4 405.8,249.3"/>
<polyline points="253.2,247.2 302.6,253.4 334.6,192.8 368.2,219.9 420.9,266.5"/>
<polyline points="259.6,228.9 295.8,264.3 344.3,215.7 372.7,230.6 411.4,248.1"/>
<polyline points="266.0,248.5 300.2,261.9 344.1,207.2 375.4,233.2 421.8,238.2"/>
<polyline points="252.9,247.9 291.6,261.6 344.4,222.6 368.7,220.8 408.8,250.6"/>
<polyline points="261.1,230.2 296.2,274.5 337.1,224.8 378.8,242.2 419.3,238.9"/>
<polyline points="266.2,259.4 307.3,245.4 341.0,194.0 373.7,235.9 422.2,243.0"/>
<polyline points="255.4,242.2 307.6,255.7 330.3,201.7 369.3,231.6 414.9,254.1"/>
<polyline points="253.7,241.3 294.3,246.3 332.2,213.7 369.2,217.2 414.3,260.4"/>
<polyline points="256.4,259.6 296.3,264.6 336.9,207.9 383.2,218.0 413.9,244.4"/>
<polyline points="269.5,228.0 290.3,256.5 342.5,198.0 368.9,229.5 409.1,260.9"/>
<polyline points="263.2,253.1 299.7,262.0 328.2,249.7 380.9,228.7 417.3,247.0"/>
<polyline points="260.1,256.3 305.5,262.3 335.7,233.7 381.0,232.9 413.9,251.5"/>
<polyline points="257.3,239.7 295.6,261.3 334.7,187.1 373.2,239.3 419.3,227.3"/>
<polyline points="258.5,228.0 300.3,251.5 346.0,189.3 377.2,230.3 414.1,245.2"/>
<polyline points="258.8,228.2 293.7,243.0 345.2,224.8 372.1,240.3 406.9,249.5"/>
<polyline points="264.4,243.5 305.2,252.6 332.3,209.7 373.4,238.6 412.1,249.1"/>
<polyline points="265.5,254.3 296.1,251.6 335.4,206.2 380.3,220.4 404.7,245.2"/>
<polyline points="263.4,243.2 299.3,249.2 339.2,225.9 382.4,230.0 413.4,250.0"/>
<polyline points="269.5,247.1 305.1,264.4 339.5,208.7 370.5,235.2 410.3,258.7"/>
<polyline points="260.0,250.1 292.5,272.7 338.3,213.3 382.5,244.6 415.2,251.4"/>
<polyline points="256.9,252.8 300.4,267.8 338.1,207.4 369.3,245.3 416.3,249.4"/>
<polyline points="265.0,245.7 304.6,254.2 336.6,216.3 376.4,232.5 409.1,245.1"/>
<polyline points="263.3,246.6 292.7,273.5 336.7,222.3 378.5,221.9 413.1,265.4"/>
<polyline points="267.1,243.8 300.3,272.5 337.7,229.4 371.9,235.6 420.6,235.3"/>
<polyline points="265.2,245.7 291.4,257.6 337.2,207.9 378.6,228.2 409.9,243.9"/>
<polyline points="252.9,260.2 302.1,271.0 342.7,225.4 376.3,240.4 418.7,247.7"/>
</g>
<g fill="#9a9c30" opacity="0.85">
<rect x="259.0" y="248.7" width="1.6" height="1.6"/>
<rect x="251.7" y="259.3" width="1.6" height="1.6"/>
<rect x="260.2" y="230.9" width="1.6" height="1.6"/>
<rect x="258.1" y="253.5" width="1.6" height="1.6"/>
<rect x="252.5" y="249.2" width="1.6" height="1.6"/>
<rect x="262.5" y="242.9" width="1.6" height="1.6"/>
<rect x="254.7" y="247.0" width="1.6" height="1.6"/>
<rect x="266.5" y="239.8" width="1.6" height="1.6"/>
<rect x="251.6" y="252.0" width="1.6" height="1.6"/>
<rect x="255.9" y="251.7" width="1.6" height="1.6"/>
<rect x="263.3" y="239.6" width="1.6" height="1.6"/>
<rect x="260.7" y="236.6" width="1.6" height="1.6"/>
<rect x="262.1" y="244.8" width="1.6" height="1.6"/>
<rect x="264.4" y="245.0" width="1.6" height="1.6"/>
<rect x="267.2" y="230.1" width="1.6" height="1.6"/>
<rect x="259.8" y="258.2" width="1.6" height="1.6"/>
<rect x="268.6" y="238.9" width="1.6" height="1.6"/>
<rect x="255.2" y="238.5" width="1.6" height="1.6"/>
<rect x="263.8" y="241.2" width="1.6" height="1.6"/>
<rect x="259.1" y="236.7" width="1.6" height="1.6"/>
<rect x="254.7" y="259.5" width="1.6" height="1.6"/>
<rect x="251.4" y="224.7" width="1.6" height="1.6"/>
<rect x="268.0" y="240.6" width="1.6" height="1.6"/>
<rect x="266.2" y="254.9" width="1.6" height="1.6"/>
<rect x="263.3" y="244.2" width="1.6" height="1.6"/>
<rect x="262.0" y="250.9" width="1.6" height="1.6"/>
<rect x="255.4" y="244.2" width="1.6" height="1.6"/>
<rect x="255.1" y="235.3" width="1.6" height="1.6"/>
<rect x="265.9" y="247.2" width="1.6" height="1.6"/>
<rect x="263.2" y="238.8" width="1.6" height="1.6"/>
<rect x="252.0" y="254.3" width="1.6" height="1.6"/>
<rect x="258.2" y="239.9" width="1.6" height="1.6"/>
<rect x="255.5" y="257.1" width="1.6" height="1.6"/>
<rect x="259.3" y="242.1" width="1.6" height="1.6"/>
<rect x="263.5" y="237.7" width="1.6" height="1.6"/>
<rect x="260.0" y="255.3" width="1.6" height="1.6"/>
<rect x="261.9" y="249.0" width="1.6" height="1.6"/>
<rect x="251.7" y="246.8" width="1.6" height="1.6"/>
<rect x="260.3" y="256.9" width="1.6" height="1.6"/>
<rect x="262.9" y="241.0" width="1.6" height="1.6"/>
<rect x="257.4" y="245.9" width="1.6" height="1.6"/>
<rect x="258.6" y="225.3" width="1.6" height="1.6"/>
<rect x="252.2" y="247.4" width="1.6" height="1.6"/>
<rect x="267.5" y="242.3" width="1.6" height="1.6"/>
<rect x="252.4" y="246.4" width="1.6" height="1.6"/>
<rect x="258.8" y="228.1" width="1.6" height="1.6"/>
<rect x="265.2" y="247.7" width="1.6" height="1.6"/>
<rect x="252.1" y="247.1" width="1.6" height="1.6"/>
<rect x="260.3" y="229.4" width="1.6" height="1.6"/>
<rect x="265.4" y="258.6" width="1.6" height="1.6"/>
<rect x="254.6" y="241.4" width="1.6" height="1.6"/>
<rect x="252.9" y="240.5" width="1.6" height="1.6"/>
<rect x="255.6" y="258.8" width="1.6" height="1.6"/>
<rect x="268.7" y="227.2" width="1.6" height="1.6"/>
<rect x="262.4" y="252.3" width="1.6" height="1.6"/>
<rect x="259.3" y="255.5" width="1.6" height="1.6"/>
<rect x="256.5" y="238.9" width="1.6" height="1.6"/>
<rect x="257.7" y="227.2" width="1.6" height="1.6"/>
<rect x="258.0" y="227.4" width="1.6" height="1.6"/>
<rect x="263.6" y="242.7" width="1.6" height="1.6"/>
<rect x="264.7" y="253.5" width="1.6" height="1.6"/>
<rect x="262.6" y="242.4" width="1.6" height="1.6"/>
<rect x="268.7" y="246.3" width="1.6" height="1.6"/>
<rect x="259.2" y="249.3" width="1.6" height="1.6"/>
<rect x="256.1" y="252.0" width="1.6" height="1.6"/>
<rect x="264.2" y="244.9" width="1.6" height="1.6"/>
<rect x="262.5" y="245.8" width="1.6" height="1.6"/>
<rect x="266.3" y="243.0" width="1.6" height="1.6"/>
<rect x="264.4" y="244.9" width="1.6" height="1.6"/>
<rect x="252.1" y="259.4" width="1.6" height="1.6"/>
<rect x="268.0" y="240.8" width="1.6" height="1.6"/>
<rect x="259.9" y="259.5" width="1.6" height="1.6"/>
<rect x="254.5" y="226.5" width="1.6" height="1.6"/>
<rect x="252.3" y="241.6" width="1.6" height="1.6"/>
<rect x="267.6" y="227.7" width="1.6" height="1.6"/>
<rect x="256.0" y="227.3" width="1.6" height="1.6"/>
<rect x="260.9" y="228.9" width="1.6" height="1.6"/>
<rect x="255.1" y="247.0" width="1.6" height="1.6"/>
<rect x="254.1" y="238.2" width="1.6" height="1.6"/>
<rect x="256.5" y="241.6" width="1.6" height="1.6"/>
<rect x="252.0" y="242.2" width="1.6" height="1.6"/>
<rect x="253.4" y="241.5" width="1.6" height="1.6"/>
<rect x="257.5" y="249.4" width="1.6" height="1.6"/>
<rect x="266.1" y="247.1" width="1.6" height="1.6"/>
<rect x="266.4" y="242.4" width="1.6" height="1.6"/>
<rect x="253.7" y="253.2" width="1.6" height="1.6"/>
<rect x="258.0" y="238.5" width="1.6" height="1.6"/>
<rect x="254.6" y="246.3" width="1.6" height="1.6"/>
<rect x="268.5" y="245.8" width="1.6" height="1.6"/>
<rect x="257.8" y="243.8" width="1.6" height="1.6"/>
<rect x="263.5" y="246.1" width="1.6" height="1.6"/>
<rect x="257.1" y="255.3" width="1.6" height="1.6"/>
<rect x="258.3" y="241.2" width="1.6" height="1.6"/>
<rect x="255.0" y="227.1" width="1.6" height="1.6"/>
<rect x="257.1" y="252.8" width="1.6" height="1.6"/>
<rect x="260.5" y="240.9" width="1.6" height="1.6"/>
<rect x="253.8" y="258.4" width="1.6" height="1.6"/>
<rect x="265.8" y="242.9" width="1.6" height="1.6"/>
<rect x="268.4" y="246.0" width="1.6" height="1.6"/>
<rect x="253.1" y="238.3" width="1.6" height="1.6"/>
<rect x="263.4" y="247.3" width="1.6" height="1.6"/>
<rect x="255.8" y="243.6" width="1.6" height="1.6"/>
<rect x="259.6" y="247.4" width="1.6" height="1.6"/>
<rect x="254.1" y="240.0" width="1.6" height="1.6"/>
<rect x="265.2" y="229.5" width="1.6" height="1.6"/>
<rect x="255.0" y="242.3" width="1.6" height="1.6"/>
<rect x="264.3" y="245.9" width="1.6" height="1.6"/>
<rect x="266.7" y="246.7" width="1.6" height="1.6"/>
<rect x="254.2" y="249.5" width="1.6" height="1.6"/>
<rect x="266.0" y="230.2" width="1.6" height="1.6"/>
<rect x="267.7" y="243.4" width="1.6" height="1.6"/>
<rect x="268.8" y="228.2" width="1.6" height="1.6"/>
<rect x="264.2" y="253.7" width="1.6" height="1.6"/>
<rect x="266.5" y="249.5" width="1.6" height="1.6"/>
<rect x="259.7" y="247.7" width="1.6" height="1.6"/>
<rect x="262.6" y="258.0" width="1.6" height="1.6"/>
<rect x="265.3" y="249.5" width="1.6" height="1.6"/>
<rect x="252.1" y="256.8" width="1.6" height="1.6"/>
<rect x="255.4" y="230.2" width="1.6" height="1.6"/>
<rect x="260.6" y="251.6" width="1.6" height="1.6"/>
<rect x="255.9" y="224.8" width="1.6" height="1.6"/>
<rect x="260.9" y="230.8" width="1.6" height="1.6"/>
<rect x="255.3" y="235.9" width="1.6" height="1.6"/>
<rect x="264.8" y="248.5" width="1.6" height="1.6"/>
<rect x="265.2" y="242.2" width="1.6" height="1.6"/>
<rect x="252.7" y="242.0" width="1.6" height="1.6"/>
<rect x="266.5" y="250.8" width="1.6" height="1.6"/>
<rect x="254.2" y="247.9" width="1.6" height="1.6"/>
<rect x="262.0" y="250.3" width="1.6" height="1.6"/>
<rect x="268.7" y="245.3" width="1.6" height="1.6"/>
<rect x="266.7" y="226.6" width="1.6" height="1.6"/>
<rect x="262.9" y="238.2" width="1.6" height="1.6"/>
<rect x="257.0" y="245.3" width="1.6" height="1.6"/>
<rect x="255.9" y="246.1" width="1.6" height="1.6"/>
<rect x="254.2" y="246.0" width="1.6" height="1.6"/>
<rect x="259.3" y="239.3" width="1.6" height="1.6"/>
<rect x="267.8" y="242.1" width="1.6" height="1.6"/>
<rect x="254.4" y="256.6" width="1.6" height="1.6"/>
<rect x="264.2" y="241.6" width="1.6" height="1.6"/>
<rect x="258.2" y="245.3" width="1.6" height="1.6"/>
<rect x="258.5" y="253.7" width="1.6" height="1.6"/>
<rect x="259.1" y="248.9" width="1.6" height="1.6"/>
<rect x="257.1" y="227.1" width="1.6" height="1.6"/>
<rect x="261.3" y="248.1" width="1.6" height="1.6"/>
<rect x="256.1" y="256.4" width="1.6" height="1.6"/>
<rect x="259.1" y="253.5" width="1.6" height="1.6"/>
<rect x="264.3" y="243.2" width="1.6" height="1.6"/>
<rect x="252.1" y="241.3" width="1.6" height="1.6"/>
<rect x="258.8" y="252.6" width="1.6" height="1.6"/>
<rect x="263.4" y="227.3" width="1.6" height="1.6"/>
<rect x="258.3" y="248.4" width="1.6" height="1.6"/>
<rect x="255.4" y="242.0" width="1.6" height="1.6"/>
<rect x="265.7" y="255.6" width="1.6" height="1.6"/>
<rect x="260.7" y="248.4" width="1.6" height="1.6"/>
<rect x="252.5" y="242.3" width="1.6" height="1.6"/>
<rect x="263.9" y="228.7" width="1.6" height="1.6"/>
<rect x="267.1" y="249.8" width="1.6" height="1.6"/>
<rect x="262.3" y="242.2" width="1.6" height="1.6"/>
<rect x="259.3" y="245.8" width="1.6" height="1.6"/>
<rect x="261.8" y="259.5" width="1.6" height="1.6"/>
<rect x="268.8" y="247.6" width="1.6" height="1.6"/>
<rect x="262.6" y="238.0" width="1.6" height="1.6"/>
<rect x="252.1" y="242.7" width="1.6" height="1.6"/>
<rect x="262.7" y="249.5" width="1.6" height="1.6"/>
<rect x="254.7" y="239.7" width="1.6" height="1.6"/>
<rect x="258.0" y="225.0" width="1.6" height="1.6"/>
<rect x="253.9" y="232.6" width="1.6" height="1.6"/>
<rect x="264.3" y="247.4" width="1.6" height="1.6"/>
<rect x="264.1" y="225.5" width="1.6" height="1.6"/>
<rect x="259.3" y="248.0" width="1.6" height="1.6"/>
<rect x="267.9" y="249.8" width="1.6" height="1.6"/>
<rect x="257.2" y="244.2" width="1.6" height="1.6"/>
<rect x="252.9" y="228.1" width="1.6" height="1.6"/>
<rect x="260.0" y="244.6" width="1.6" height="1.6"/>
<rect x="253.2" y="243.9" width="1.6" height="1.6"/>
<rect x="256.2" y="227.3" width="1.6" height="1.6"/>
<rect x="258.4" y="240.5" width="1.6" height="1.6"/>
<rect x="259.0" y="243.3" width="1.6" height="1.6"/>
<rect x="266.2" y="247.9" width="1.6" height="1.6"/>
<rect x="253.7" y="254.9" width="1.6" height="1.6"/>
<rect x="258.2" y="248.0" width="1.6" height="1.6"/>
<rect x="268.2" y="238.1" width="1.6" height="1.6"/>
<rect x="253.7" y="257.0" width="1.6" height="1.6"/>
<rect x="263.7" y="244.2" width="1.6" height="1.6"/>
<rect x="251.4" y="241.5" width="1.6" height="1.6"/>
<rect x="268.3" y="235.8" width="1.6" height="1.6"/>
<rect x="251.7" y="238.9" width="1.6" height="1.6"/>
<rect x="255.6" y="248.7" width="1.6" height="1.6"/>
<rect x="256.8" y="245.6" width="1.6" height="1.6"/>
<rect x="266.9" y="255.3" width="1.6" height="1.6"/>
<rect x="259.9" y="253.6" width="1.6" height="1.6"/>
<rect x="256.3" y="227.5" width="1.6" height="1.6"/>
<rect x="257.5" y="243.5" width="1.6" height="1.6"/>
<rect x="257.4" y="243.2" width="1.6" height="1.6"/>
<rect x="251.8" y="250.2" width="1.6" height="1.6"/>
<rect x="260.4" y="242.6" width="1.6" height="1.6"/>
<rect x="254.9" y="242.3" width="1.6" height="1.6"/>
<rect x="256.6" y="240.7" width="1.6" height="1.6"/>
<rect x="264.4" y="238.1" width="1.6" height="1.6"/>
<rect x="258.2" y="249.7" width="1.6" height="1.6"/>
</g>
<g fill="#8e1e58" opacity="0.85">
<rect x="297.7" y="258.7" width="1.6" height="1.6"/>
<rect x="301.1" y="252.8" width="1.6" height="1.6"/>
<rect x="301.2" y="254.4" width="1.6" height="1.6"/>
<rect x="306.5" y="264.4" width="1.6" height="1.6"/>
<rect x="302.9" y="254.0" width="1.6" height="1.6"/>
<rect x="293.1" y="264.0" width="1.6" height="1.6"/>
<rect x="295.2" y="251.6" width="1.6" height="1.6"/>
<rect x="305.7" y="267.8" width="1.6" height="1.6"/>
<rect x="302.0" y="262.0" width="1.6" height="1.6"/>
<rect x="289.6" y="256.8" width="1.6" height="1.6"/>
<rect x="289.9" y="263.2" width="1.6" height="1.6"/>
<rect x="302.6" y="248.0" width="1.6" height="1.6"/>
<rect x="300.3" y="259.4" width="1.6" height="1.6"/>
<rect x="298.0" y="260.2" width="1.6" height="1.6"/>
<rect x="305.4" y="259.8" width="1.6" height="1.6"/>
<rect x="302.1" y="268.2" width="1.6" height="1.6"/>
<rect x="289.9" y="265.0" width="1.6" height="1.6"/>
<rect x="300.6" y="259.3" width="1.6" height="1.6"/>
<rect x="295.5" y="244.6" width="1.6" height="1.6"/>
<rect x="296.1" y="262.7" width="1.6" height="1.6"/>
<rect x="306.9" y="261.5" width="1.6" height="1.6"/>
<rect x="303.7" y="255.2" width="1.6" height="1.6"/>
<rect x="298.8" y="260.7" width="1.6" height="1.6"/>
<rect x="299.6" y="258.0" width="1.6" height="1.6"/>
<rect x="296.7" y="277.1" width="1.6" height="1.6"/>
<rect x="303.3" y="253.3" width="1.6" height="1.6"/>
<rect x="297.2" y="256.3" width="1.6" height="1.6"/>
<rect x="305.5" y="254.9" width="1.6" height="1.6"/>
<rect x="291.6" y="260.1" width="1.6" height="1.6"/>
<rect x="291.2" y="258.2" width="1.6" height="1.6"/>
<rect x="303.1" y="257.0" width="1.6" height="1.6"/>
<rect x="298.5" y="262.9" width="1.6" height="1.6"/>
<rect x="303.3" y="270.0" width="1.6" height="1.6"/>
<rect x="300.8" y="240.9" width="1.6" height="1.6"/>
<rect x="289.7" y="260.8" width="1.6" height="1.6"/>
<rect x="307.2" y="248.2" width="1.6" height="1.6"/>
<rect x="296.9" y="258.9" width="1.6" height="1.6"/>
<rect x="296.3" y="274.7" width="1.6" height="1.6"/>
<rect x="297.7" y="275.7" width="1.6" height="1.6"/>
<rect x="299.8" y="261.3" width="1.6" height="1.6"/>
<rect x="299.5" y="259.3" width="1.6" height="1.6"/>
<rect x="299.0" y="251.8" width="1.6" height="1.6"/>
<rect x="300.5" y="240.7" width="1.6" height="1.6"/>
<rect x="291.0" y="265.5" width="1.6" height="1.6"/>
<rect x="301.8" y="252.6" width="1.6" height="1.6"/>
<rect x="295.0" y="263.5" width="1.6" height="1.6"/>
<rect x="299.4" y="261.1" width="1.6" height="1.6"/>
<rect x="290.8" y="260.8" width="1.6" height="1.6"/>
<rect x="295.4" y="273.7" width="1.6" height="1.6"/>
<rect x="306.5" y="244.6" width="1.6" height="1.6"/>
<rect x="306.8" y="254.9" width="1.6" height="1.6"/>
<rect x="293.5" y="245.5" width="1.6" height="1.6"/>
<rect x="295.5" y="263.8" width="1.6" height="1.6"/>
<rect x="289.5" y="255.7" width="1.6" height="1.6"/>
<rect x="298.9" y="261.2" width="1.6" height="1.6"/>
<rect x="304.7" y="261.5" width="1.6" height="1.6"/>
<rect x="294.8" y="260.5" width="1.6" height="1.6"/>
<rect x="299.5" y="250.7" width="1.6" height="1.6"/>
<rect x="292.9" y="242.2" width="1.6" height="1.6"/>
<rect x="304.4" y="251.8" width="1.6" height="1.6"/>
<rect x="295.3" y="250.8" width="1.6" height="1.6"/>
<rect x="298.5" y="248.4" width="1.6" height="1.6"/>
<rect x="304.3" y="263.6" width="1.6" height="1.6"/>
<rect x="291.7" y="271.9" width="1.6" height="1.6"/>
<rect x="299.6" y="267.0" width="1.6" height="1.6"/>
<rect x="303.8" y="253.4" width="1.6" height="1.6"/>
<rect x="291.9" y="272.7" width="1.6" height="1.6"/>
<rect x="299.5" y="271.7" width="1.6" height="1.6"/>
<rect x="290.6" y="256.8" width="1.6" height="1.6"/>
<rect x="301.3" y="270.2" width="1.6" height="1.6"/>
<rect x="294.7" y="251.5" width="1.6" height="1.6"/>
<rect x="297.8" y="254.7" width="1.6" height="1.6"/>
<rect x="305.1" y="252.1" width="1.6" height="1.6"/>
<rect x="302.1" y="253.1" width="1.6" height="1.6"/>
<rect x="300.8" y="264.2" width="1.6" height="1.6"/>
<rect x="294.3" y="253.2" width="1.6" height="1.6"/>
<rect x="301.1" y="244.5" width="1.6" height="1.6"/>
<rect x="303.5" y="241.0" width="1.6" height="1.6"/>
<rect x="298.2" y="256.7" width="1.6" height="1.6"/>
<rect x="300.5" y="254.3" width="1.6" height="1.6"/>
<rect x="293.2" y="265.0" width="1.6" height="1.6"/>
<rect x="296.9" y="251.1" width="1.6" height="1.6"/>
<rect x="300.3" y="256.2" width="1.6" height="1.6"/>
<rect x="293.2" y="253.1" width="1.6" height="1.6"/>
<rect x="290.6" y="242.6" width="1.6" height="1.6"/>
<rect x="303.1" y="249.4" width="1.6" height="1.6"/>
<rect x="292.0" y="251.0" width="1.6" height="1.6"/>
<rect x="296.6" y="262.6" width="1.6" height="1.6"/>
<rect x="305.8" y="260.1" width="1.6" height="1.6"/>
<rect x="294.3" y="256.2" width="1.6" height="1.6"/>
<rect x="289.7" y="255.6" width="1.6" height="1.6"/>
<rect x="294.0" y="240.3" width="1.6" height="1.6"/>
<rect x="304.2" y="269.7" width="1.6" height="1.6"/>
<rect x="289.3" y="256.0" width="1.6" height="1.6"/>
<rect x="302.2" y="246.7" width="1.6" height="1.6"/>
<rect x="295.1" y="257.7" width="1.6" height="1.6"/>
<rect x="290.3" y="257.6" width="1.6" height="1.6"/>
<rect x="302.0" y="248.5" width="1.6" height="1.6"/>
<rect x="296.8" y="243.0" width="1.6" height="1.6"/>
<rect x="299.1" y="255.8" width="1.6" height="1.6"/>
<rect x="291.9" y="252.1" width="1.6" height="1.6"/>
<rect x="295.9" y="251.3" width="1.6" height="1.6"/>
<rect x="296.4" y="258.2" width="1.6" height="1.6"/>
<rect x="291.4" y="255.6" width="1.6" height="1.6"/>
<rect x="303.8" y="275.0" width="1.6" height="1.6"/>
<rect x="301.1" y="269.4" width="1.6" height="1.6"/>
<rect x="292.5" y="252.6" width="1.6" height="1.6"/>
<rect x="291.3" y="270.3" width="1.6" height="1.6"/>
<rect x="292.0" y="242.8" width="1.6" height="1.6"/>
<rect x="301.3" y="255.9" width="1.6" height="1.6"/>
<rect x="300.0" y="269.4" width="1.6" height="1.6"/>
<rect x="300.1" y="254.8" width="1.6" height="1.6"/>
<rect x="300.3" y="254.9" width="1.6" height="1.6"/>
<rect x="298.3" y="261.0" width="1.6" height="1.6"/>
<rect x="290.3" y="254.1" width="1.6" height="1.6"/>
<rect x="294.2" y="243.4" width="1.6" height="1.6"/>
<rect x="304.8" y="254.5" width="1.6" height="1.6"/>
<rect x="301.5" y="264.2" width="1.6" height="1.6"/>
<rect x="304.3" y="255.0" width="1.6" height="1.6"/>
<rect x="304.0" y="246.1" width="1.6" height="1.6"/>
<rect x="290.3" y="238.6" width="1.6" height="1.6"/>
<rect x="300.5" y="263.4" width="1.6" height="1.6"/>
<rect x="300.8" y="263.5" width="1.6" height="1.6"/>
<rect x="302.8" y="250.7" width="1.6" height="1.6"/>
<rect x="302.6" y="260.0" width="1.6" height="1.6"/>
<rect x="307.0" y="265.4" width="1.6" height="1.6"/>
<rect x="303.4" y="261.0" width="1.6" height="1.6"/>
<rect x="296.1" y="256.6" width="1.6" height="1.6"/>
<rect x="291.4" y="260.7" width="1.6" height="1.6"/>
<rect x="290.6" y="262.1" width="1.6" height="1.6"/>
<rect x="301.3" y="252.2" width="1.6" height="1.6"/>
<rect x="291.4" y="263.8" width="1.6" height="1.6"/>
<rect x="299.4" y="267.3" width="1.6" height="1.6"/>
<rect x="296.8" y="262.2" width="1.6" height="1.6"/>
<rect x="291.5" y="270.9" width="1.6" height="1.6"/>
<rect x="289.9" y="255.8" width="1.6" height="1.6"/>
<rect x="301.4" y="271.2" width="1.6" height="1.6"/>
<rect x="301.7" y="261.3" width="1.6" height="1.6"/>
<rect x="291.2" y="240.1" width="1.6" height="1.6"/>
<rect x="299.8" y="255.4" width="1.6" height="1.6"/>
<rect x="292.2" y="258.8" width="1.6" height="1.6"/>
<rect x="298.7" y="258.5" width="1.6" height="1.6"/>
<rect x="304.5" y="258.7" width="1.6" height="1.6"/>
<rect x="297.9" y="268.9" width="1.6" height="1.6"/>
<rect x="301.9" y="254.2" width="1.6" height="1.6"/>
<rect x="302.4" y="254.1" width="1.6" height="1.6"/>
<rect x="290.5" y="269.6" width="1.6" height="1.6"/>
<rect x="302.2" y="259.1" width="1.6" height="1.6"/>
<rect x="299.4" y="277.0" width="1.6" height="1.6"/>
<rect x="297.5" y="253.8" width="1.6" height="1.6"/>
<rect x="302.9" y="254.8" width="1.6" height="1.6"/>
<rect x="304.6" y="260.2" width="1.6" height="1.6"/>
<rect x="299.5" y="255.2" width="1.6" height="1.6"/>
<rect x="292.0" y="275.0" width="1.6" height="1.6"/>
<rect x="303.8" y="261.4" width="1.6" height="1.6"/>
<rect x="293.2" y="258.0" width="1.6" height="1.6"/>
<rect x="300.3" y="261.2" width="1.6" height="1.6"/>
<rect x="299.8" y="277.2" width="1.6" height="1.6"/>
<rect x="301.7" y="263.7" width="1.6" height="1.6"/>
<rect x="302.2" y="262.4" width="1.6" height="1.6"/>
<rect x="302.4" y="254.0" width="1.6" height="1.6"/>
<rect x="289.7" y="254.1" width="1.6" height="1.6"/>
<rect x="294.6" y="252.4" width="1.6" height="1.6"/>
<rect x="298.0" y="254.5" width="1.6" height="1.6"/>
<rect x="294.3" y="262.7" width="1.6" height="1.6"/>
<rect x="292.2" y="276.2" width="1.6" height="1.6"/>
<rect x="300.3" y="260.7" width="1.6" height="1.6"/>
<rect x="298.9" y="249.6" width="1.6" height="1.6"/>
<rect x="303.3" y="251.3" width="1.6" height="1.6"/>
<rect x="306.2" y="261.5" width="1.6" height="1.6"/>
<rect x="293.5" y="255.7" width="1.6" height="1.6"/>
<rect x="302.4" y="271.4" width="1.6" height="1.6"/>
<rect x="299.5" y="253.8" width="1.6" height="1.6"/>
<rect x="306.4" y="263.6" width="1.6" height="1.6"/>
<rect x="301.1" y="263.0" width="1.6" height="1.6"/>
<rect x="291.1" y="252.3" width="1.6" height="1.6"/>
<rect x="307.1" y="262.6" width="1.6" height="1.6"/>
<rect x="290.4" y="238.9" width="1.6" height="1.6"/>
<rect x="289.8" y="264.2" width="1.6" height="1.6"/>
<rect x="301.6" y="275.2" width="1.6" height="1.6"/>
<rect x="298.7" y="257.9" width="1.6" height="1.6"/>
<rect x="292.6" y="255.5" width="1.6" height="1.6"/>
<rect x="298.3" y="260.3" width="1.6" height="1.6"/>
<rect x="296.8" y="251.7" width="1.6" height="1.6"/>
<rect x="298.1" y="264.0" width="1.6" height="1.6"/>
<rect x="299.4" y="254.7" width="1.6" height="1.6"/>
<rect x="295.3" y="249.8" width="1.6" height="1.6"/>
<rect x="306.9" y="277.2" width="1.6" height="1.6"/>
<rect x="304.8" y="264.7" width="1.6" height="1.6"/>
<rect x="298.1" y="260.1" width="1.6" height="1.6"/>
<rect x="300.3" y="263.5" width="1.6" height="1.6"/>
<rect x="290.9" y="263.8" width="1.6" height="1.6"/>
<rect x="289.9" y="262.6" width="1.6" height="1.6"/>
<rect x="306.5" y="251.0" width="1.6" height="1.6"/>
<rect x="304.2" y="244.5" width="1.6" height="1.6"/>
<rect x="299.7" y="248.2" width="1.6" height="1.6"/>
<rect x="289.3" y="261.6" width="1.6" height="1.6"/>
<rect x="306.9" y="270.0" width="1.6" height="1.6"/>
<rect x="295.3" y="250.8" width="1.6" height="1.6"/>
<rect x="303.2" y="258.7" width="1.6" height="1.6"/>
</g>
<g fill="#f2a7b8" opacity="0.6">
<rect x="330.7" y="221.7" width="1.6" height="1.6"/>
<rect x="327.7" y="207.3" width="1.6" height="1.6"/>
<rect x="345.4" y="248.7" width="1.6" height="1.6"/>
<rect x="331.2" y="240.9" width="1.6" height="1.6"/>
<rect x="329.2" y="225.9" width="1.6" height="1.6"/>
<rect x="341.9" y="228.1" width="1.6" height="1.6"/>
<rect x="329.0" y="211.9" width="1.6" height="1.6"/>
<rect x="330.8" y="204.5" width="1.6" height="1.6"/>
<rect x="338.1" y="210.2" width="1.6" height="1.6"/>
<rect x="328.5" y="215.1" width="1.6" height="1.6"/>
<rect x="340.0" y="231.4" width="1.6" height="1.6"/>
<rect x="343.9" y="223.1" width="1.6" height="1.6"/>
<rect x="345.3" y="246.4" width="1.6" height="1.6"/>
<rect x="336.4" y="229.0" width="1.6" height="1.6"/>
<rect x="331.0" y="226.1" width="1.6" height="1.6"/>
<rect x="330.4" y="212.7" width="1.6" height="1.6"/>
<rect x="340.2" y="213.6" width="1.6" height="1.6"/>
<rect x="339.2" y="204.9" width="1.6" height="1.6"/>
<rect x="338.5" y="192.6" width="1.6" height="1.6"/>
<rect x="341.7" y="240.8" width="1.6" height="1.6"/>
<rect x="333.2" y="249.1" width="1.6" height="1.6"/>
<rect x="341.6" y="209.5" width="1.6" height="1.6"/>
<rect x="338.9" y="227.1" width="1.6" height="1.6"/>
<rect x="336.5" y="206.5" width="1.6" height="1.6"/>
<rect x="332.2" y="209.0" width="1.6" height="1.6"/>
<rect x="331.5" y="191.0" width="1.6" height="1.6"/>
<rect x="336.9" y="210.9" width="1.6" height="1.6"/>
<rect x="344.0" y="231.0" width="1.6" height="1.6"/>
<rect x="327.7" y="223.0" width="1.6" height="1.6"/>
<rect x="336.7" y="209.5" width="1.6" height="1.6"/>
<rect x="336.7" y="220.9" width="1.6" height="1.6"/>
<rect x="341.8" y="202.8" width="1.6" height="1.6"/>
<rect x="343.5" y="245.7" width="1.6" height="1.6"/>
<rect x="344.4" y="191.4" width="1.6" height="1.6"/>
<rect x="332.0" y="207.1" width="1.6" height="1.6"/>
<rect x="328.8" y="224.9" width="1.6" height="1.6"/>
<rect x="334.0" y="222.3" width="1.6" height="1.6"/>
<rect x="328.3" y="250.9" width="1.6" height="1.6"/>
<rect x="338.3" y="221.5" width="1.6" height="1.6"/>
<rect x="337.0" y="251.1" width="1.6" height="1.6"/>
<rect x="341.0" y="212.1" width="1.6" height="1.6"/>
<rect x="339.6" y="221.7" width="1.6" height="1.6"/>
<rect x="335.0" y="226.2" width="1.6" height="1.6"/>
<rect x="328.9" y="218.0" width="1.6" height="1.6"/>
<rect x="333.8" y="192.0" width="1.6" height="1.6"/>
<rect x="343.5" y="214.9" width="1.6" height="1.6"/>
<rect x="343.3" y="206.4" width="1.6" height="1.6"/>
<rect x="343.6" y="221.8" width="1.6" height="1.6"/>
<rect x="336.3" y="224.0" width="1.6" height="1.6"/>
<rect x="340.2" y="193.2" width="1.6" height="1.6"/>
<rect x="329.5" y="200.9" width="1.6" height="1.6"/>
<rect x="331.4" y="212.9" width="1.6" height="1.6"/>
<rect x="336.1" y="207.1" width="1.6" height="1.6"/>
<rect x="341.7" y="197.2" width="1.6" height="1.6"/>
<rect x="327.4" y="248.9" width="1.6" height="1.6"/>
<rect x="334.9" y="232.9" width="1.6" height="1.6"/>
<rect x="333.9" y="186.3" width="1.6" height="1.6"/>
<rect x="345.2" y="188.5" width="1.6" height="1.6"/>
<rect x="344.4" y="224.0" width="1.6" height="1.6"/>
<rect x="331.5" y="208.9" width="1.6" height="1.6"/>
<rect x="334.6" y="205.4" width="1.6" height="1.6"/>
<rect x="338.4" y="225.1" width="1.6" height="1.6"/>
<rect x="338.7" y="207.9" width="1.6" height="1.6"/>
<rect x="337.5" y="212.5" width="1.6" height="1.6"/>
<rect x="337.3" y="206.6" width="1.6" height="1.6"/>
<rect x="335.8" y="215.5" width="1.6" height="1.6"/>
<rect x="335.9" y="221.5" width="1.6" height="1.6"/>
<rect x="336.9" y="228.6" width="1.6" height="1.6"/>
<rect x="336.4" y="207.1" width="1.6" height="1.6"/>
<rect x="341.9" y="224.6" width="1.6" height="1.6"/>
<rect x="343.5" y="239.4" width="1.6" height="1.6"/>
<rect x="344.0" y="235.1" width="1.6" height="1.6"/>
<rect x="340.5" y="228.5" width="1.6" height="1.6"/>
<rect x="331.6" y="201.2" width="1.6" height="1.6"/>
<rect x="335.3" y="219.2" width="1.6" height="1.6"/>
<rect x="343.5" y="231.7" width="1.6" height="1.6"/>
<rect x="336.5" y="245.4" width="1.6" height="1.6"/>
<rect x="336.2" y="220.4" width="1.6" height="1.6"/>
<rect x="332.1" y="185.6" width="1.6" height="1.6"/>
<rect x="338.0" y="226.5" width="1.6" height="1.6"/>
<rect x="336.2" y="205.5" width="1.6" height="1.6"/>
<rect x="345.3" y="200.0" width="1.6" height="1.6"/>
<rect x="339.1" y="214.4" width="1.6" height="1.6"/>
<rect x="337.3" y="210.9" width="1.6" height="1.6"/>
<rect x="332.3" y="210.4" width="1.6" height="1.6"/>
<rect x="327.8" y="215.5" width="1.6" height="1.6"/>
<rect x="333.0" y="219.5" width="1.6" height="1.6"/>
<rect x="331.5" y="214.5" width="1.6" height="1.6"/>
<rect x="339.4" y="249.3" width="1.6" height="1.6"/>
<rect x="336.0" y="222.6" width="1.6" height="1.6"/>
<rect x="328.5" y="207.2" width="1.6" height="1.6"/>
<rect x="335.8" y="229.9" width="1.6" height="1.6"/>
<rect x="343.8" y="209.2" width="1.6" height="1.6"/>
<rect x="331.7" y="222.2" width="1.6" height="1.6"/>
<rect x="344.8" y="234.4" width="1.6" height="1.6"/>
<rect x="329.7" y="207.5" width="1.6" height="1.6"/>
<rect x="341.7" y="223.8" width="1.6" height="1.6"/>
<rect x="341.8" y="215.3" width="1.6" height="1.6"/>
<rect x="344.2" y="232.0" width="1.6" height="1.6"/>
<rect x="333.0" y="202.3" width="1.6" height="1.6"/>
<rect x="344.2" y="218.1" width="1.6" height="1.6"/>
<rect x="328.6" y="237.5" width="1.6" height="1.6"/>
<rect x="339.2" y="190.0" width="1.6" height="1.6"/>
<rect x="341.0" y="218.8" width="1.6" height="1.6"/>
<rect x="345.1" y="229.7" width="1.6" height="1.6"/>
<rect x="338.9" y="212.8" width="1.6" height="1.6"/>
<rect x="333.7" y="206.0" width="1.6" height="1.6"/>
<rect x="344.7" y="216.1" width="1.6" height="1.6"/>
<rect x="339.0" y="221.3" width="1.6" height="1.6"/>
<rect x="331.5" y="220.2" width="1.6" height="1.6"/>
<rect x="336.9" y="222.8" width="1.6" height="1.6"/>
<rect x="335.6" y="228.0" width="1.6" height="1.6"/>
<rect x="330.6" y="212.2" width="1.6" height="1.6"/>
<rect x="336.0" y="191.3" width="1.6" height="1.6"/>
<rect x="331.7" y="189.7" width="1.6" height="1.6"/>
<rect x="336.8" y="227.9" width="1.6" height="1.6"/>
<rect x="330.7" y="213.4" width="1.6" height="1.6"/>
<rect x="333.3" y="198.7" width="1.6" height="1.6"/>
<rect x="341.6" y="207.8" width="1.6" height="1.6"/>
<rect x="341.1" y="211.3" width="1.6" height="1.6"/>
<rect x="334.9" y="238.8" width="1.6" height="1.6"/>
<rect x="333.8" y="251.9" width="1.6" height="1.6"/>
<rect x="334.4" y="225.7" width="1.6" height="1.6"/>
<rect x="341.5" y="225.7" width="1.6" height="1.6"/>
<rect x="334.2" y="220.8" width="1.6" height="1.6"/>
<rect x="340.7" y="226.4" width="1.6" height="1.6"/>
<rect x="327.6" y="215.4" width="1.6" height="1.6"/>
<rect x="328.6" y="234.0" width="1.6" height="1.6"/>
<rect x="331.1" y="251.3" width="1.6" height="1.6"/>
<rect x="344.2" y="229.3" width="1.6" height="1.6"/>
<rect x="330.0" y="204.6" width="1.6" height="1.6"/>
<rect x="330.9" y="222.9" width="1.6" height="1.6"/>
<rect x="343.3" y="204.7" width="1.6" height="1.6"/>
<rect x="335.6" y="208.8" width="1.6" height="1.6"/>
<rect x="332.3" y="232.5" width="1.6" height="1.6"/>
<rect x="330.7" y="207.0" width="1.6" height="1.6"/>
<rect x="332.9" y="208.9" width="1.6" height="1.6"/>
<rect x="336.9" y="220.1" width="1.6" height="1.6"/>
<rect x="341.1" y="229.7" width="1.6" height="1.6"/>
<rect x="328.9" y="207.7" width="1.6" height="1.6"/>
<rect x="333.0" y="204.1" width="1.6" height="1.6"/>
<rect x="336.5" y="214.1" width="1.6" height="1.6"/>
<rect x="337.6" y="225.8" width="1.6" height="1.6"/>
<rect x="344.9" y="221.0" width="1.6" height="1.6"/>
<rect x="342.6" y="210.6" width="1.6" height="1.6"/>
<rect x="344.4" y="231.5" width="1.6" height="1.6"/>
<rect x="341.1" y="207.1" width="1.6" height="1.6"/>
<rect x="330.3" y="224.4" width="1.6" height="1.6"/>
<rect x="331.2" y="211.3" width="1.6" height="1.6"/>
<rect x="341.8" y="222.3" width="1.6" height="1.6"/>
<rect x="335.8" y="206.2" width="1.6" height="1.6"/>
<rect x="332.9" y="212.4" width="1.6" height="1.6"/>
<rect x="338.5" y="217.7" width="1.6" height="1.6"/>
<rect x="338.6" y="214.8" width="1.6" height="1.6"/>
<rect x="343.3" y="216.3" width="1.6" height="1.6"/>
<rect x="337.1" y="214.2" width="1.6" height="1.6"/>
<rect x="343.8" y="229.4" width="1.6" height="1.6"/>
<rect x="342.8" y="234.4" width="1.6" height="1.6"/>
<rect x="336.6" y="237.1" width="1.6" height="1.6"/>
<rect x="330.5" y="189.1" width="1.6" height="1.6"/>
<rect x="337.9" y="229.7" width="1.6" height="1.6"/>
<rect x="332.5" y="223.1" width="1.6" height="1.6"/>
<rect x="333.6" y="218.3" width="1.6" height="1.6"/>
<rect x="344.0" y="215.3" width="1.6" height="1.6"/>
<rect x="327.4" y="212.6" width="1.6" height="1.6"/>
<rect x="337.7" y="194.1" width="1.6" height="1.6"/>
<rect x="329.0" y="217.9" width="1.6" height="1.6"/>
<rect x="338.9" y="236.9" width="1.6" height="1.6"/>
<rect x="335.4" y="226.0" width="1.6" height="1.6"/>
<rect x="331.6" y="247.8" width="1.6" height="1.6"/>
<rect x="332.0" y="241.6" width="1.6" height="1.6"/>
<rect x="335.1" y="229.6" width="1.6" height="1.6"/>
<rect x="336.2" y="213.1" width="1.6" height="1.6"/>
<rect x="342.5" y="214.4" width="1.6" height="1.6"/>
<rect x="330.9" y="226.8" width="1.6" height="1.6"/>
<rect x="341.9" y="250.4" width="1.6" height="1.6"/>
<rect x="339.7" y="199.5" width="1.6" height="1.6"/>
<rect x="342.0" y="187.8" width="1.6" height="1.6"/>
<rect x="342.1" y="212.0" width="1.6" height="1.6"/>
<rect x="344.0" y="218.7" width="1.6" height="1.6"/>
<rect x="333.6" y="197.3" width="1.6" height="1.6"/>
<rect x="343.8" y="244.6" width="1.6" height="1.6"/>
<rect x="328.6" y="186.4" width="1.6" height="1.6"/>
<rect x="345.1" y="237.6" width="1.6" height="1.6"/>
<rect x="330.7" y="200.5" width="1.6" height="1.6"/>
<rect x="345.1" y="186.7" width="1.6" height="1.6"/>
<rect x="340.5" y="227.7" width="1.6" height="1.6"/>
<rect x="341.2" y="203.0" width="1.6" height="1.6"/>
<rect x="337.6" y="244.5" width="1.6" height="1.6"/>
<rect x="336.3" y="214.7" width="1.6" height="1.6"/>
<rect x="327.8" y="225.9" width="1.6" height="1.6"/>
<rect x="331.5" y="200.9" width="1.6" height="1.6"/>
<rect x="339.9" y="213.8" width="1.6" height="1.6"/>
<rect x="332.3" y="222.1" width="1.6" height="1.6"/>
<rect x="339.8" y="238.0" width="1.6" height="1.6"/>
<rect x="344.1" y="237.1" width="1.6" height="1.6"/>
<rect x="344.5" y="230.1" width="1.6" height="1.6"/>
<rect x="341.3" y="212.8" width="1.6" height="1.6"/>
<rect x="336.8" y="206.7" width="1.6" height="1.6"/>
<rect x="342.9" y="217.7" width="1.6" height="1.6"/>
</g>
<g fill="#31237f" opacity="0.85">
<rect x="379.6" y="228.4" width="1.6" height="1.6"/>
<rect x="368.7" y="224.3" width="1.6" height="1.6"/>
<rect x="378.0" y="227.3" width="1.6" height="1.6"/>
<rect x="382.9" y="224.9" width="1.6" height="1.6"/>
<rect x="368.5" y="230.6" width="1.6" height="1.6"/>
<rect x="369.1" y="236.8" width="1.6" height="1.6"/>
<rect x="376.1" y="230.7" width="1.6" height="1.6"/>
<rect x="368.8" y="244.2" width="1.6" height="1.6"/>
<rect x="378.3" y="227.3" width="1.6" height="1.6"/>
<rect x="375.6" y="229.3" width="1.6" height="1.6"/>
<rect x="376.8" y="234.9" width="1.6" height="1.6"/>
<rect x="381.5" y="241.5" width="1.6" height="1.6"/>
<rect x="372.3" y="219.3" width="1.6" height="1.6"/>
<rect x="369.9" y="228.4" width="1.6" height="1.6"/>
<rect x="381.8" y="241.3" width="1.6" height="1.6"/>
<rect x="369.2" y="233.3" width="1.6" height="1.6"/>
<rect x="379.5" y="225.9" width="1.6" height="1.6"/>
<rect x="377.6" y="231.0" width="1.6" height="1.6"/>
<rect x="379.6" y="239.5" width="1.6" height="1.6"/>
<rect x="377.0" y="234.8" width="1.6" height="1.6"/>
<rect x="371.6" y="230.5" width="1.6" height="1.6"/>
<rect x="374.6" y="222.1" width="1.6" height="1.6"/>
<rect x="375.4" y="229.6" width="1.6" height="1.6"/>
<rect x="382.7" y="229.9" width="1.6" height="1.6"/>
<rect x="373.1" y="244.3" width="1.6" height="1.6"/>
<rect x="371.7" y="225.4" width="1.6" height="1.6"/>
<rect x="376.7" y="218.7" width="1.6" height="1.6"/>
<rect x="381.3" y="227.4" width="1.6" height="1.6"/>
<rect x="381.7" y="239.7" width="1.6" height="1.6"/>
<rect x="368.6" y="236.6" width="1.6" height="1.6"/>
<rect x="365.5" y="222.1" width="1.6" height="1.6"/>
<rect x="376.6" y="232.9" width="1.6" height="1.6"/>
<rect x="379.1" y="217.4" width="1.6" height="1.6"/>
<rect x="377.2" y="231.9" width="1.6" height="1.6"/>
<rect x="368.8" y="225.3" width="1.6" height="1.6"/>
<rect x="366.1" y="239.9" width="1.6" height="1.6"/>
<rect x="375.4" y="234.7" width="1.6" height="1.6"/>
<rect x="366.6" y="241.5" width="1.6" height="1.6"/>
<rect x="373.5" y="224.6" width="1.6" height="1.6"/>
<rect x="378.5" y="225.5" width="1.6" height="1.6"/>
<rect x="382.9" y="244.2" width="1.6" height="1.6"/>
<rect x="372.0" y="227.0" width="1.6" height="1.6"/>
<rect x="371.9" y="223.7" width="1.6" height="1.6"/>
<rect x="377.6" y="235.6" width="1.6" height="1.6"/>
<rect x="367.4" y="219.1" width="1.6" height="1.6"/>
<rect x="371.9" y="229.8" width="1.6" height="1.6"/>
<rect x="374.6" y="232.4" width="1.6" height="1.6"/>
<rect x="367.9" y="220.0" width="1.6" height="1.6"/>
<rect x="378.0" y="241.4" width="1.6" height="1.6"/>
<rect x="372.9" y="235.1" width="1.6" height="1.6"/>
<rect x="368.5" y="230.8" width="1.6" height="1.6"/>
<rect x="368.4" y="216.4" width="1.6" height="1.6"/>
<rect x="382.4" y="217.2" width="1.6" height="1.6"/>
<rect x="368.1" y="228.7" width="1.6" height="1.6"/>
<rect x="380.1" y="227.9" width="1.6" height="1.6"/>
<rect x="380.2" y="232.1" width="1.6" height="1.6"/>
<rect x="372.4" y="238.5" width="1.6" height="1.6"/>
<rect x="376.4" y="229.5" width="1.6" height="1.6"/>
<rect x="371.3" y="239.5" width="1.6" height="1.6"/>
<rect x="372.6" y="237.8" width="1.6" height="1.6"/>
<rect x="379.5" y="219.6" width="1.6" height="1.6"/>
<rect x="381.6" y="229.2" width="1.6" height="1.6"/>
<rect x="369.7" y="234.4" width="1.6" height="1.6"/>
<rect x="381.7" y="243.8" width="1.6" height="1.6"/>
<rect x="368.5" y="244.5" width="1.6" height="1.6"/>
<rect x="375.6" y="231.7" width="1.6" height="1.6"/>
<rect x="377.7" y="221.1" width="1.6" height="1.6"/>
<rect x="371.1" y="234.8" width="1.6" height="1.6"/>
<rect x="377.8" y="227.4" width="1.6" height="1.6"/>
<rect x="375.5" y="239.6" width="1.6" height="1.6"/>
<rect x="371.7" y="224.5" width="1.6" height="1.6"/>
<rect x="380.4" y="231.0" width="1.6" height="1.6"/>
<rect x="381.0" y="214.5" width="1.6" height="1.6"/>
<rect x="372.0" y="222.6" width="1.6" height="1.6"/>
<rect x="366.1" y="228.1" width="1.6" height="1.6"/>
<rect x="373.6" y="217.2" width="1.6" height="1.6"/>
<rect x="374.7" y="240.0" width="1.6" height="1.6"/>
<rect x="374.3" y="232.9" width="1.6" height="1.6"/>
<rect x="381.6" y="232.1" width="1.6" height="1.6"/>
<rect x="368.4" y="226.2" width="1.6" height="1.6"/>
<rect x="367.9" y="235.1" width="1.6" height="1.6"/>
<rect x="369.4" y="232.2" width="1.6" height="1.6"/>
<rect x="377.8" y="242.5" width="1.6" height="1.6"/>
<rect x="369.2" y="228.5" width="1.6" height="1.6"/>
<rect x="370.0" y="237.8" width="1.6" height="1.6"/>
<rect x="366.8" y="240.9" width="1.6" height="1.6"/>
<rect x="367.7" y="215.8" width="1.6" height="1.6"/>
<rect x="369.2" y="224.2" width="1.6" height="1.6"/>
<rect x="369.5" y="214.0" width="1.6" height="1.6"/>
<rect x="369.6" y="229.0" width="1.6" height="1.6"/>
<rect x="374.2" y="230.9" width="1.6" height="1.6"/>
<rect x="371.8" y="238.1" width="1.6" height="1.6"/>
<rect x="374.4" y="229.3" width="1.6" height="1.6"/>
<rect x="375.2" y="219.1" width="1.6" height="1.6"/>
<rect x="376.5" y="232.4" width="1.6" height="1.6"/>
<rect x="367.1" y="214.2" width="1.6" height="1.6"/>
<rect x="369.8" y="216.5" width="1.6" height="1.6"/>
<rect x="377.3" y="226.6" width="1.6" height="1.6"/>
<rect x="378.1" y="224.4" width="1.6" height="1.6"/>
<rect x="370.4" y="233.2" width="1.6" height="1.6"/>
<rect x="367.5" y="224.1" width="1.6" height="1.6"/>
<rect x="366.7" y="231.1" width="1.6" height="1.6"/>
<rect x="382.2" y="244.9" width="1.6" height="1.6"/>
<rect x="365.5" y="238.4" width="1.6" height="1.6"/>
<rect x="372.5" y="215.7" width="1.6" height="1.6"/>
<rect x="381.6" y="225.2" width="1.6" height="1.6"/>
<rect x="374.3" y="228.7" width="1.6" height="1.6"/>
<rect x="378.0" y="228.0" width="1.6" height="1.6"/>
<rect x="381.3" y="242.7" width="1.6" height="1.6"/>
<rect x="374.6" y="233.3" width="1.6" height="1.6"/>
<rect x="378.7" y="226.8" width="1.6" height="1.6"/>
<rect x="375.8" y="228.8" width="1.6" height="1.6"/>
<rect x="366.6" y="229.2" width="1.6" height="1.6"/>
<rect x="374.8" y="242.8" width="1.6" height="1.6"/>
<rect x="372.8" y="227.4" width="1.6" height="1.6"/>
<rect x="373.8" y="239.7" width="1.6" height="1.6"/>
<rect x="373.1" y="221.2" width="1.6" height="1.6"/>
<rect x="375.3" y="223.1" width="1.6" height="1.6"/>
<rect x="381.5" y="232.0" width="1.6" height="1.6"/>
<rect x="383.3" y="226.7" width="1.6" height="1.6"/>
<rect x="379.1" y="226.1" width="1.6" height="1.6"/>
<rect x="375.2" y="234.7" width="1.6" height="1.6"/>
<rect x="378.4" y="235.5" width="1.6" height="1.6"/>
<rect x="377.0" y="217.9" width="1.6" height="1.6"/>
<rect x="373.1" y="231.0" width="1.6" height="1.6"/>
<rect x="382.5" y="239.3" width="1.6" height="1.6"/>
<rect x="366.6" y="234.4" width="1.6" height="1.6"/>
<rect x="373.2" y="230.3" width="1.6" height="1.6"/>
<rect x="375.6" y="217.4" width="1.6" height="1.6"/>
<rect x="377.0" y="219.6" width="1.6" height="1.6"/>
<rect x="366.1" y="214.4" width="1.6" height="1.6"/>
<rect x="366.3" y="224.1" width="1.6" height="1.6"/>
<rect x="366.6" y="230.9" width="1.6" height="1.6"/>
<rect x="367.2" y="244.0" width="1.6" height="1.6"/>
<rect x="374.1" y="228.6" width="1.6" height="1.6"/>
<rect x="383.0" y="228.4" width="1.6" height="1.6"/>
<rect x="369.3" y="242.0" width="1.6" height="1.6"/>
<rect x="372.7" y="237.3" width="1.6" height="1.6"/>
<rect x="369.9" y="220.6" width="1.6" height="1.6"/>
<rect x="373.4" y="230.4" width="1.6" height="1.6"/>
<rect x="373.5" y="233.3" width="1.6" height="1.6"/>
<rect x="372.7" y="235.5" width="1.6" height="1.6"/>
<rect x="373.5" y="237.2" width="1.6" height="1.6"/>
<rect x="373.5" y="237.4" width="1.6" height="1.6"/>
<rect x="382.9" y="217.3" width="1.6" height="1.6"/>
<rect x="377.4" y="216.2" width="1.6" height="1.6"/>
<rect x="378.3" y="242.9" width="1.6" height="1.6"/>
<rect x="377.3" y="233.7" width="1.6" height="1.6"/>
<rect x="369.4" y="218.8" width="1.6" height="1.6"/>
<rect x="382.9" y="234.6" width="1.6" height="1.6"/>
<rect x="365.6" y="235.4" width="1.6" height="1.6"/>
<rect x="370.0" y="227.2" width="1.6" height="1.6"/>
<rect x="372.5" y="240.2" width="1.6" height="1.6"/>
<rect x="381.7" y="232.7" width="1.6" height="1.6"/>
<rect x="380.1" y="241.3" width="1.6" height="1.6"/>
<rect x="375.9" y="221.2" width="1.6" height="1.6"/>
<rect x="378.7" y="227.6" width="1.6" height="1.6"/>
<rect x="378.0" y="232.1" width="1.6" height="1.6"/>
<rect x="383.1" y="235.7" width="1.6" height="1.6"/>
<rect x="371.1" y="223.3" width="1.6" height="1.6"/>
<rect x="370.2" y="231.8" width="1.6" height="1.6"/>
<rect x="374.2" y="233.3" width="1.6" height="1.6"/>
<rect x="381.4" y="216.1" width="1.6" height="1.6"/>
<rect x="379.8" y="226.0" width="1.6" height="1.6"/>
<rect x="376.2" y="231.9" width="1.6" height="1.6"/>
<rect x="383.1" y="238.3" width="1.6" height="1.6"/>
<rect x="371.6" y="213.8" width="1.6" height="1.6"/>
<rect x="370.7" y="220.5" width="1.6" height="1.6"/>
<rect x="380.2" y="228.0" width="1.6" height="1.6"/>
<rect x="371.8" y="224.2" width="1.6" height="1.6"/>
<rect x="372.0" y="214.6" width="1.6" height="1.6"/>
<rect x="370.9" y="244.5" width="1.6" height="1.6"/>
<rect x="369.8" y="225.6" width="1.6" height="1.6"/>
<rect x="366.8" y="221.0" width="1.6" height="1.6"/>
<rect x="370.1" y="234.4" width="1.6" height="1.6"/>
<rect x="365.8" y="244.1" width="1.6" height="1.6"/>
<rect x="369.1" y="220.6" width="1.6" height="1.6"/>
<rect x="371.4" y="240.3" width="1.6" height="1.6"/>
<rect x="373.8" y="230.5" width="1.6" height="1.6"/>
<rect x="379.9" y="233.1" width="1.6" height="1.6"/>
<rect x="383.1" y="227.2" width="1.6" height="1.6"/>
<rect x="376.5" y="238.5" width="1.6" height="1.6"/>
<rect x="371.4" y="230.4" width="1.6" height="1.6"/>
<rect x="380.2" y="243.0" width="1.6" height="1.6"/>
<rect x="368.4" y="234.5" width="1.6" height="1.6"/>
<rect x="369.2" y="244.1" width="1.6" height="1.6"/>
<rect x="369.4" y="227.3" width="1.6" height="1.6"/>
<rect x="378.2" y="234.4" width="1.6" height="1.6"/>
<rect x="366.4" y="242.2" width="1.6" height="1.6"/>
<rect x="375.8" y="224.5" width="1.6" height="1.6"/>
<rect x="371.7" y="242.5" width="1.6" height="1.6"/>
<rect x="380.8" y="225.3" width="1.6" height="1.6"/>
<rect x="365.7" y="214.9" width="1.6" height="1.6"/>
<rect x="370.2" y="220.5" width="1.6" height="1.6"/>
<rect x="371.1" y="228.2" width="1.6" height="1.6"/>
<rect x="375.4" y="229.3" width="1.6" height="1.6"/>
<rect x="369.8" y="227.8" width="1.6" height="1.6"/>
<rect x="365.6" y="232.8" width="1.6" height="1.6"/>
<rect x="370.1" y="236.7" width="1.6" height="1.6"/>
<rect x="373.7" y="228.5" width="1.6" height="1.6"/>
</g>
<g fill="#1f9a9c" opacity="0.85">
<rect x="405.2" y="235.9" width="1.6" height="1.6"/>
<rect x="412.0" y="250.8" width="1.6" height="1.6"/>
<rect x="408.8" y="249.8" width="1.6" height="1.6"/>
<rect x="414.9" y="230.0" width="1.6" height="1.6"/>
<rect x="407.0" y="228.1" width="1.6" height="1.6"/>
<rect x="415.2" y="252.7" width="1.6" height="1.6"/>
<rect x="420.9" y="247.4" width="1.6" height="1.6"/>
<rect x="414.5" y="241.4" width="1.6" height="1.6"/>
<rect x="413.7" y="261.5" width="1.6" height="1.6"/>
<rect x="419.6" y="262.1" width="1.6" height="1.6"/>
<rect x="409.3" y="253.9" width="1.6" height="1.6"/>
<rect x="417.8" y="260.9" width="1.6" height="1.6"/>
<rect x="411.5" y="254.0" width="1.6" height="1.6"/>
<rect x="415.8" y="242.3" width="1.6" height="1.6"/>
<rect x="414.1" y="241.8" width="1.6" height="1.6"/>
<rect x="412.5" y="250.8" width="1.6" height="1.6"/>
<rect x="411.8" y="250.6" width="1.6" height="1.6"/>
<rect x="406.8" y="246.1" width="1.6" height="1.6"/>
<rect x="420.4" y="228.1" width="1.6" height="1.6"/>
<rect x="418.3" y="236.2" width="1.6" height="1.6"/>
<rect x="413.5" y="233.0" width="1.6" height="1.6"/>
<rect x="416.0" y="259.7" width="1.6" height="1.6"/>
<rect x="418.8" y="255.7" width="1.6" height="1.6"/>
<rect x="418.0" y="246.3" width="1.6" height="1.6"/>
<rect x="412.2" y="242.5" width="1.6" height="1.6"/>
<rect x="416.8" y="246.6" width="1.6" height="1.6"/>
<rect x="418.9" y="251.0" width="1.6" height="1.6"/>
<rect x="416.7" y="241.3" width="1.6" height="1.6"/>
<rect x="412.7" y="233.2" width="1.6" height="1.6"/>
<rect x="421.4" y="254.1" width="1.6" height="1.6"/>
<rect x="406.9" y="249.5" width="1.6" height="1.6"/>
<rect x="412.7" y="264.1" width="1.6" height="1.6"/>
<rect x="416.6" y="244.4" width="1.6" height="1.6"/>
<rect x="410.6" y="261.9" width="1.6" height="1.6"/>
<rect x="408.1" y="260.6" width="1.6" height="1.6"/>
<rect x="412.1" y="246.4" width="1.6" height="1.6"/>
<rect x="408.9" y="243.2" width="1.6" height="1.6"/>
<rect x="412.2" y="256.2" width="1.6" height="1.6"/>
<rect x="413.1" y="245.7" width="1.6" height="1.6"/>
<rect x="419.7" y="234.9" width="1.6" height="1.6"/>
<rect x="404.3" y="243.5" width="1.6" height="1.6"/>
<rect x="409.8" y="237.9" width="1.6" height="1.6"/>
<rect x="409.5" y="249.6" width="1.6" height="1.6"/>
<rect x="405.0" y="248.5" width="1.6" height="1.6"/>
<rect x="420.1" y="265.7" width="1.6" height="1.6"/>
<rect x="410.6" y="247.3" width="1.6" height="1.6"/>
<rect x="421.0" y="237.4" width="1.6" height="1.6"/>
<rect x="408.0" y="249.8" width="1.6" height="1.6"/>
<rect x="418.5" y="238.1" width="1.6" height="1.6"/>
<rect x="421.4" y="242.2" width="1.6" height="1.6"/>
<rect x="414.1" y="253.3" width="1.6" height="1.6"/>
<rect x="413.5" y="259.6" width="1.6" height="1.6"/>
<rect x="413.1" y="243.6" width="1.6" height="1.6"/>
<rect x="408.3" y="260.1" width="1.6" height="1.6"/>
<rect x="416.5" y="246.2" width="1.6" height="1.6"/>
<rect x="413.1" y="250.7" width="1.6" height="1.6"/>
<rect x="418.5" y="226.5" width="1.6" height="1.6"/>
<rect x="413.3" y="244.4" width="1.6" height="1.6"/>
<rect x="406.1" y="248.7" width="1.6" height="1.6"/>
<rect x="411.3" y="248.3" width="1.6" height="1.6"/>
<rect x="403.9" y="244.4" width="1.6" height="1.6"/>
<rect x="412.6" y="249.2" width="1.6" height="1.6"/>
<rect x="409.5" y="257.9" width="1.6" height="1.6"/>
<rect x="414.4" y="250.6" width="1.6" height="1.6"/>
<rect x="415.5" y="248.6" width="1.6" height="1.6"/>
<rect x="408.3" y="244.3" width="1.6" height="1.6"/>
<rect x="412.3" y="264.6" width="1.6" height="1.6"/>
<rect x="419.8" y="234.5" width="1.6" height="1.6"/>
<rect x="409.1" y="243.1" width="1.6" height="1.6"/>
<rect x="417.9" y="246.9" width="1.6" height="1.6"/>
<rect x="404.2" y="257.1" width="1.6" height="1.6"/>
<rect x="406.7" y="266.8" width="1.6" height="1.6"/>
<rect x="416.1" y="259.1" width="1.6" height="1.6"/>
<rect x="414.2" y="243.9" width="1.6" height="1.6"/>
<rect x="408.1" y="227.5" width="1.6" height="1.6"/>
<rect x="420.3" y="242.4" width="1.6" height="1.6"/>
<rect x="417.6" y="247.8" width="1.6" height="1.6"/>
<rect x="416.5" y="251.2" width="1.6" height="1.6"/>
<rect x="417.8" y="242.0" width="1.6" height="1.6"/>
<rect x="416.0" y="263.9" width="1.6" height="1.6"/>
<rect x="404.3" y="251.4" width="1.6" height="1.6"/>
<rect x="408.0" y="251.9" width="1.6" height="1.6"/>
<rect x="419.6" y="245.1" width="1.6" height="1.6"/>
<rect x="411.6" y="262.4" width="1.6" height="1.6"/>
<rect x="416.5" y="244.7" width="1.6" height="1.6"/>
<rect x="417.5" y="240.8" width="1.6" height="1.6"/>
<rect x="416.7" y="228.3" width="1.6" height="1.6"/>
<rect x="414.9" y="250.4" width="1.6" height="1.6"/>
<rect x="411.3" y="240.9" width="1.6" height="1.6"/>
<rect x="411.2" y="247.5" width="1.6" height="1.6"/>
<rect x="409.5" y="240.4" width="1.6" height="1.6"/>
<rect x="417.5" y="234.9" width="1.6" height="1.6"/>
<rect x="421.2" y="242.5" width="1.6" height="1.6"/>
<rect x="418.6" y="257.5" width="1.6" height="1.6"/>
<rect x="410.3" y="249.6" width="1.6" height="1.6"/>
<rect x="411.7" y="232.9" width="1.6" height="1.6"/>
<rect x="409.6" y="237.9" width="1.6" height="1.6"/>
<rect x="403.8" y="252.1" width="1.6" height="1.6"/>
<rect x="408.7" y="240.0" width="1.6" height="1.6"/>
<rect x="417.4" y="258.3" width="1.6" height="1.6"/>
<rect x="413.8" y="248.0" width="1.6" height="1.6"/>
<rect x="421.5" y="251.1" width="1.6" height="1.6"/>
<rect x="411.6" y="263.0" width="1.6" height="1.6"/>
<rect x="403.8" y="250.4" width="1.6" height="1.6"/>
<rect x="420.0" y="247.4" width="1.6" height="1.6"/>
<rect x="409.6" y="229.2" width="1.6" height="1.6"/>
<rect x="413.3" y="255.7" width="1.6" height="1.6"/>
<rect x="415.8" y="257.3" width="1.6" height="1.6"/>
<rect x="412.7" y="241.5" width="1.6" height="1.6"/>
<rect x="411.6" y="247.7" width="1.6" height="1.6"/>
<rect x="419.6" y="234.9" width="1.6" height="1.6"/>
<rect x="415.5" y="233.2" width="1.6" height="1.6"/>
<rect x="411.0" y="246.5" width="1.6" height="1.6"/>
<rect x="412.0" y="246.9" width="1.6" height="1.6"/>
<rect x="417.8" y="256.0" width="1.6" height="1.6"/>
<rect x="404.0" y="240.5" width="1.6" height="1.6"/>
<rect x="417.9" y="230.2" width="1.6" height="1.6"/>
<rect x="407.0" y="264.6" width="1.6" height="1.6"/>
<rect x="415.9" y="236.6" width="1.6" height="1.6"/>
<rect x="411.8" y="247.1" width="1.6" height="1.6"/>
<rect x="419.4" y="265.7" width="1.6" height="1.6"/>
<rect x="418.6" y="243.2" width="1.6" height="1.6"/>
<rect x="421.1" y="246.6" width="1.6" height="1.6"/>
<rect x="409.2" y="260.1" width="1.6" height="1.6"/>
<rect x="421.4" y="252.7" width="1.6" height="1.6"/>
<rect x="403.8" y="245.0" width="1.6" height="1.6"/>
<rect x="415.1" y="247.2" width="1.6" height="1.6"/>
<rect x="420.5" y="249.8" width="1.6" height="1.6"/>
<rect x="414.3" y="242.3" width="1.6" height="1.6"/>
<rect x="412.0" y="262.3" width="1.6" height="1.6"/>
<rect x="407.5" y="247.0" width="1.6" height="1.6"/>
<rect x="409.7" y="248.1" width="1.6" height="1.6"/>
<rect x="403.9" y="248.4" width="1.6" height="1.6"/>
<rect x="407.5" y="249.8" width="1.6" height="1.6"/>
<rect x="409.6" y="260.7" width="1.6" height="1.6"/>
<rect x="405.4" y="229.9" width="1.6" height="1.6"/>
<rect x="418.3" y="236.8" width="1.6" height="1.6"/>
<rect x="404.6" y="250.2" width="1.6" height="1.6"/>
<rect x="406.1" y="240.5" width="1.6" height="1.6"/>
<rect x="406.5" y="252.3" width="1.6" height="1.6"/>
<rect x="409.4" y="250.6" width="1.6" height="1.6"/>
<rect x="406.9" y="234.8" width="1.6" height="1.6"/>
<rect x="420.4" y="247.3" width="1.6" height="1.6"/>
<rect x="410.5" y="256.4" width="1.6" height="1.6"/>
<rect x="416.5" y="246.4" width="1.6" height="1.6"/>
<rect x="421.0" y="243.6" width="1.6" height="1.6"/>
<rect x="420.1" y="227.2" width="1.6" height="1.6"/>
<rect x="407.0" y="243.8" width="1.6" height="1.6"/>
<rect x="418.8" y="239.8" width="1.6" height="1.6"/>
<rect x="415.7" y="231.6" width="1.6" height="1.6"/>
<rect x="416.5" y="240.8" width="1.6" height="1.6"/>
<rect x="412.5" y="246.8" width="1.6" height="1.6"/>
<rect x="404.5" y="252.6" width="1.6" height="1.6"/>
<rect x="410.3" y="242.0" width="1.6" height="1.6"/>
<rect x="414.3" y="255.3" width="1.6" height="1.6"/>
<rect x="412.6" y="249.8" width="1.6" height="1.6"/>
<rect x="413.8" y="242.5" width="1.6" height="1.6"/>
<rect x="416.6" y="251.1" width="1.6" height="1.6"/>
<rect x="404.2" y="246.0" width="1.6" height="1.6"/>
<rect x="418.8" y="249.6" width="1.6" height="1.6"/>
<rect x="417.3" y="227.0" width="1.6" height="1.6"/>
<rect x="418.5" y="242.2" width="1.6" height="1.6"/>
<rect x="404.3" y="251.2" width="1.6" height="1.6"/>
<rect x="410.5" y="240.7" width="1.6" height="1.6"/>
<rect x="418.8" y="251.7" width="1.6" height="1.6"/>
<rect x="404.3" y="243.7" width="1.6" height="1.6"/>
<rect x="407.0" y="242.6" width="1.6" height="1.6"/>
<rect x="415.1" y="242.2" width="1.6" height="1.6"/>
<rect x="413.2" y="242.0" width="1.6" height="1.6"/>
<rect x="413.8" y="245.0" width="1.6" height="1.6"/>
<rect x="412.1" y="247.9" width="1.6" height="1.6"/>
<rect x="407.1" y="240.2" width="1.6" height="1.6"/>
<rect x="419.6" y="245.1" width="1.6" height="1.6"/>
<rect x="413.4" y="254.7" width="1.6" height="1.6"/>
<rect x="410.5" y="231.4" width="1.6" height="1.6"/>
<rect x="416.3" y="253.4" width="1.6" height="1.6"/>
<rect x="408.7" y="249.6" width="1.6" height="1.6"/>
<rect x="417.7" y="239.1" width="1.6" height="1.6"/>
<rect x="406.9" y="250.9" width="1.6" height="1.6"/>
<rect x="417.4" y="252.5" width="1.6" height="1.6"/>
<rect x="416.9" y="257.9" width="1.6" height="1.6"/>
<rect x="414.5" y="265.5" width="1.6" height="1.6"/>
<rect x="414.0" y="266.9" width="1.6" height="1.6"/>
<rect x="418.7" y="239.6" width="1.6" height="1.6"/>
<rect x="406.2" y="247.3" width="1.6" height="1.6"/>
<rect x="406.0" y="227.2" width="1.6" height="1.6"/>
<rect x="414.9" y="244.2" width="1.6" height="1.6"/>
<rect x="414.5" y="245.8" width="1.6" height="1.6"/>
<rect x="419.0" y="256.5" width="1.6" height="1.6"/>
<rect x="410.2" y="228.9" width="1.6" height="1.6"/>
<rect x="418.9" y="247.2" width="1.6" height="1.6"/>
<rect x="409.7" y="240.1" width="1.6" height="1.6"/>
<rect x="403.6" y="243.6" width="1.6" height="1.6"/>
<rect x="421.4" y="227.2" width="1.6" height="1.6"/>
<rect x="416.5" y="246.2" width="1.6" height="1.6"/>
<rect x="416.6" y="266.0" width="1.6" height="1.6"/>
<rect x="411.2" y="245.1" width="1.6" height="1.6"/>
<rect x="409.2" y="232.7" width="1.6" height="1.6"/>
<rect x="415.9" y="250.0" width="1.6" height="1.6"/>
<rect x="421.0" y="247.9" width="1.6" height="1.6"/>
</g>
<g stroke="#222" fill="none" stroke-width="1.2">
<line x1="260.7" y1="224.6" x2="260.7" y2="238.8" stroke-dasharray="3 2"/><line x1="260.7" y1="250.4" x2="260.7" y2="260.5" stroke-dasharray="3 2"/>
<line x1="256.09999999999997" y1="224.6" x2="265.3" y2="224.6"/><line x1="256.09999999999997" y1="260.5" x2="265.3" y2="260.5"/>
<rect x="250.89999999999998" y="238.8" width="19.6" height="11.599999999999994"/>
<line x1="250.89999999999998" y1="245.1" x2="270.5" y2="245.1" stroke-dasharray="3 1.5"/>
</g>
<g stroke="#222" fill="none" stroke-width="1.2">
<line x1="299.1" y1="238.8" x2="299.1" y2="251.4" stroke-dasharray="3 2"/><line x1="299.1" y1="265.2" x2="299.1" y2="279.0" stroke-dasharray="3 2"/>
<line x1="294.5" y1="238.8" x2="303.70000000000005" y2="238.8"/><line x1="294.5" y1="279.0" x2="303.70000000000005" y2="279.0"/>
<rect x="289.3" y="251.4" width="19.6" height="13.799999999999983"/>
<line x1="289.3" y1="257.8" x2="308.90000000000003" y2="257.8" stroke-dasharray="3 1.5"/>
</g>
<g stroke="#222" fill="none" stroke-width="1.2">
<line x1="337.2" y1="184.8" x2="337.2" y2="206.6" stroke-dasharray="3 2"/><line x1="337.2" y1="231.8" x2="337.2" y2="252.9" stroke-dasharray="3 2"/>
<line x1="332.59999999999997" y1="184.8" x2="341.8" y2="184.8"/><line x1="332.59999999999997" y1="252.9" x2="341.8" y2="252.9"/>
<rect x="327.4" y="206.6" width="19.6" height="25.200000000000017"/>
<line x1="327.4" y1="219.1" x2="347.0" y2="219.1" stroke-dasharray="3 1.5"/>
</g>
<g stroke="#222" fill="none" stroke-width="1.2">
<line x1="375.1" y1="213.8" x2="375.1" y2="224.6" stroke-dasharray="3 2"/><line x1="375.1" y1="239.8" x2="375.1" y2="245.7" stroke-dasharray="3 2"/>
<line x1="370.5" y1="213.8" x2="379.70000000000005" y2="213.8"/><line x1="370.5" y1="245.7" x2="379.70000000000005" y2="245.7"/>
<rect x="365.3" y="224.6" width="19.6" height="15.200000000000017"/>
<line x1="365.3" y1="232.4" x2="384.90000000000003" y2="232.4" stroke-dasharray="3 1.5"/>
</g>
<g stroke="#222" fill="none" stroke-width="1.2">
<line x1="413.4" y1="227.1" x2="413.4" y2="240.9" stroke-dasharray="3 2"/><line x1="413.4" y1="253.6" x2="413.4" y2="267.7" stroke-dasharray="3 2"/>
<line x1="408.79999999999995" y1="227.1" x2="418.0" y2="227.1"/><line x1="408.79999999999995" y1="267.7" x2="418.0" y2="267.7"/>
<rect x="403.59999999999997" y="240.9" width="19.6" height="12.699999999999989"/>
<line x1="403.59999999999997" y1="247.2" x2="423.2" y2="247.2" stroke-dasharray="3 1.5"/>
</g>
<line x1="242.40" y1="177.40" x2="242.40" y2="287.90" stroke="#1a1a1a" stroke-width="1.2" />
<line x1="241.80" y1="287.40" x2="431.80" y2="287.40" stroke="#1a1a1a" stroke-width="1.2" />
<line x1="239.50" y1="279.50" x2="242.40" y2="279.50" stroke="#1a1a1a" stroke-width="1" />
<line x1="239.50" y1="263.70" x2="242.40" y2="263.70" stroke="#1a1a1a" stroke-width="1" />
<line x1="239.50" y1="247.90" x2="242.40" y2="247.90" stroke="#1a1a1a" stroke-width="1" />
<line x1="239.50" y1="232.10" x2="242.40" y2="232.10" stroke="#1a1a1a" stroke-width="1" />
<line x1="239.50" y1="216.30" x2="242.40" y2="216.30" stroke="#1a1a1a" stroke-width="1" />
<line x1="239.50" y1="200.50" x2="242.40" y2="200.50" stroke="#1a1a1a" stroke-width="1" />
<line x1="239.50" y1="184.70" x2="242.40" y2="184.70" stroke="#1a1a1a" stroke-width="1" />
<text x="236.20" y="187.90" font-size="9" fill="#2a2a2a" text-anchor="end" stroke="#2a2a2a" stroke-width="0.22" textLength="4.67" lengthAdjust="spacingAndGlyphs" >4</text>
<text x="236.20" y="219.50" font-size="9" fill="#2a2a2a" text-anchor="end" stroke="#2a2a2a" stroke-width="0.22" textLength="4.67" lengthAdjust="spacingAndGlyphs" >2</text>
<text x="236.20" y="251.10" font-size="9" fill="#2a2a2a" text-anchor="end" stroke="#2a2a2a" stroke-width="0.22" textLength="4.67" lengthAdjust="spacingAndGlyphs" >0</text>
<text x="236.20" y="282.70" font-size="9" fill="#2a2a2a" text-anchor="end" stroke="#2a2a2a" stroke-width="0.22" textLength="9.58" lengthAdjust="spacingAndGlyphs" >&#8722;2</text>
<line x1="260.70" y1="287.40" x2="260.70" y2="290.30" stroke="#1a1a1a" stroke-width="1" />
<line x1="299.10" y1="287.40" x2="299.10" y2="290.30" stroke="#1a1a1a" stroke-width="1" />
<line x1="337.20" y1="287.40" x2="337.20" y2="290.30" stroke="#1a1a1a" stroke-width="1" />
<line x1="375.10" y1="287.40" x2="375.10" y2="290.30" stroke="#1a1a1a" stroke-width="1" />
<line x1="413.40" y1="287.40" x2="413.40" y2="290.30" stroke="#1a1a1a" stroke-width="1" />
<text x="260.70" y="301.50" font-size="8.6" fill="#9a9c30" text-anchor="middle" stroke="#9a9c30" stroke-width="0.22" textLength="24.50" lengthAdjust="spacingAndGlyphs" >LTHSC</text>
<text x="299.10" y="301.50" font-size="8.6" fill="#8e1e58" text-anchor="middle" stroke="#8e1e58" stroke-width="0.22" textLength="26.50" lengthAdjust="spacingAndGlyphs" >STHSC</text>
<text x="337.20" y="301.50" font-size="8.6" fill="#f2a7b8" text-anchor="middle" stroke="#f2a7b8" stroke-width="0.22" textLength="22.00" lengthAdjust="spacingAndGlyphs" >MPP2</text>
<text x="375.10" y="301.50" font-size="8.6" fill="#31237f" text-anchor="middle" stroke="#31237f" stroke-width="0.22" textLength="22.50" lengthAdjust="spacingAndGlyphs" >MPP3</text>
<text x="413.40" y="301.50" font-size="8.6" fill="#1f9a9c" text-anchor="middle" stroke="#1f9a9c" stroke-width="0.22" textLength="22.50" lengthAdjust="spacingAndGlyphs" >MPP4</text>
<text x="220.80" y="273.80" font-size="10" fill="#2a2a2a" text-anchor="start" stroke="#2a2a2a" stroke-width="0.22" textLength="83.30" lengthAdjust="spacingAndGlyphs" transform="rotate(-90 220.80 273.80)" >log(I&#954;B<tspan font-size="6" dy="-3.5">&#8211;</tspan><tspan dy="3.5">/WT cell count)</tspan></text>
<text x="195.20" y="327.50" font-size="12" fill="#000" text-anchor="start" font-weight="bold" textLength="7.20" lengthAdjust="spacingAndGlyphs" >E</text>
<line x1="245.10" y1="351.80" x2="333.40" y2="415.80" stroke="#333" stroke-width="0.8" />
<line x1="245.00" y1="413.20" x2="333.00" y2="413.20" stroke="#111" stroke-width="1.2" stroke-dasharray="3.5 2"/>
<circle cx="248.12" cy="367.54" r="1.25" fill="#6f6f6f" />
<circle cx="248.12" cy="371.77" r="1.25" fill="#6f6f6f" />
<circle cx="259.33" cy="368.81" r="1.25" fill="#6f6f6f" />
<circle cx="259.33" cy="372.41" r="1.25" fill="#6f6f6f" />
<circle cx="258.69" cy="376.64" r="1.25" fill="#6f6f6f" />
<circle cx="258.69" cy="379.81" r="1.25" fill="#6f6f6f" />
<circle cx="273.50" cy="373.47" r="1.25" fill="#6f6f6f" />
<circle cx="275.19" cy="375.58" r="1.25" fill="#6f6f6f" />
<circle cx="275.62" cy="379.39" r="1.25" fill="#6f6f6f" />
<circle cx="283.23" cy="384.04" r="1.25" fill="#6f6f6f" />
<circle cx="283.66" cy="387.22" r="1.25" fill="#6f6f6f" />
<circle cx="273.08" cy="398.85" r="1.25" fill="#6f6f6f" />
<circle cx="273.50" cy="402.66" r="1.25" fill="#6f6f6f" />
<circle cx="281.54" cy="398.85" r="1.25" fill="#6f6f6f" />
<circle cx="281.96" cy="402.66" r="1.25" fill="#6f6f6f" />
<circle cx="288.31" cy="396.74" r="1.25" fill="#6f6f6f" />
<circle cx="294.23" cy="391.45" r="1.25" fill="#6f6f6f" />
<circle cx="295.29" cy="396.74" r="1.25" fill="#6f6f6f" />
<circle cx="296.35" cy="397.79" r="1.25" fill="#6f6f6f" />
<circle cx="295.29" cy="402.02" r="1.25" fill="#6f6f6f" />
<circle cx="317.08" cy="409.01" r="1.25" fill="#6f6f6f" />
<circle cx="263.56" cy="365.43" r="1.25" fill="#6f6f6f" />
<circle cx="249.39" cy="352.31" r="1.25" fill="#e0141c" />
<circle cx="260.39" cy="325.23" r="1.25" fill="#e0141c" />
<circle cx="268.85" cy="326.50" r="1.25" fill="#e0141c" />
<circle cx="269.27" cy="329.04" r="1.25" fill="#e0141c" />
<circle cx="273.50" cy="321.64" r="1.25" fill="#e0141c" />
<circle cx="275.19" cy="327.35" r="1.25" fill="#e0141c" />
<circle cx="259.33" cy="340.67" r="1.25" fill="#e0141c" />
<circle cx="264.62" cy="350.19" r="1.25" fill="#e0141c" />
<circle cx="266.73" cy="342.16" r="1.25" fill="#e0141c" />
<circle cx="268.43" cy="343.85" r="1.25" fill="#e0141c" />
<circle cx="269.91" cy="342.79" r="1.25" fill="#e0141c" />
<circle cx="272.02" cy="342.79" r="1.25" fill="#e0141c" />
<circle cx="273.08" cy="336.44" r="1.25" fill="#e0141c" />
<circle cx="274.14" cy="343.85" r="1.25" fill="#e0141c" />
<circle cx="272.02" cy="349.14" r="1.25" fill="#e0141c" />
<circle cx="268.85" cy="360.77" r="1.25" fill="#e0141c" />
<circle cx="274.14" cy="366.70" r="1.25" fill="#e0141c" />
<circle cx="278.37" cy="342.79" r="1.25" fill="#e0141c" />
<circle cx="279.43" cy="344.91" r="1.25" fill="#e0141c" />
<circle cx="280.48" cy="347.02" r="1.25" fill="#e0141c" />
<circle cx="281.54" cy="350.19" r="1.25" fill="#e0141c" />
<circle cx="282.60" cy="338.56" r="1.25" fill="#e0141c" />
<circle cx="283.23" cy="343.85" r="1.25" fill="#e0141c" />
<circle cx="284.71" cy="343.85" r="1.25" fill="#e0141c" />
<circle cx="285.77" cy="349.14" r="1.25" fill="#e0141c" />
<circle cx="278.37" cy="351.25" r="1.25" fill="#e0141c" />
<circle cx="280.48" cy="353.37" r="1.25" fill="#e0141c" />
<circle cx="282.60" cy="354.43" r="1.25" fill="#e0141c" />
<circle cx="279.43" cy="361.83" r="1.25" fill="#e0141c" />
<circle cx="280.48" cy="360.77" r="1.25" fill="#e0141c" />
<circle cx="282.60" cy="359.71" r="1.25" fill="#e0141c" />
<circle cx="279.43" cy="369.23" r="1.25" fill="#e0141c" />
<circle cx="284.71" cy="372.41" r="1.25" fill="#e0141c" />
<circle cx="288.95" cy="362.89" r="1.25" fill="#e0141c" />
<circle cx="290.43" cy="361.83" r="1.25" fill="#e0141c" />
<circle cx="292.12" cy="361.83" r="1.25" fill="#e0141c" />
<circle cx="292.12" cy="369.23" r="1.25" fill="#e0141c" />
<circle cx="292.12" cy="373.47" r="1.25" fill="#e0141c" />
<circle cx="294.23" cy="350.19" r="1.25" fill="#e0141c" />
<circle cx="295.29" cy="355.48" r="1.25" fill="#e0141c" />
<circle cx="295.29" cy="351.25" r="1.25" fill="#e0141c" />
<circle cx="297.41" cy="357.60" r="1.25" fill="#e0141c" />
<circle cx="298.47" cy="344.91" r="1.25" fill="#e0141c" />
<circle cx="300.58" cy="350.19" r="1.25" fill="#e0141c" />
<circle cx="298.47" cy="360.77" r="1.25" fill="#e0141c" />
<circle cx="296.35" cy="368.18" r="1.25" fill="#e0141c" />
<circle cx="295.29" cy="372.41" r="1.25" fill="#e0141c" />
<circle cx="298.47" cy="374.52" r="1.25" fill="#e0141c" />
<circle cx="300.58" cy="373.47" r="1.25" fill="#e0141c" />
<circle cx="302.70" cy="357.60" r="1.25" fill="#e0141c" />
<circle cx="302.70" cy="365.00" r="1.25" fill="#e0141c" />
<circle cx="302.70" cy="373.47" r="1.25" fill="#e0141c" />
<circle cx="303.12" cy="359.71" r="1.25" fill="#e0141c" />
<circle cx="304.81" cy="369.23" r="1.25" fill="#e0141c" />
<circle cx="305.87" cy="366.06" r="1.25" fill="#e0141c" />
<circle cx="306.93" cy="352.31" r="1.25" fill="#e0141c" />
<circle cx="307.98" cy="360.77" r="1.25" fill="#e0141c" />
<circle cx="309.04" cy="358.66" r="1.25" fill="#e0141c" />
<circle cx="307.98" cy="367.12" r="1.25" fill="#e0141c" />
<circle cx="306.93" cy="373.47" r="1.25" fill="#e0141c" />
<circle cx="307.35" cy="375.58" r="1.25" fill="#e0141c" />
<circle cx="306.93" cy="384.04" r="1.25" fill="#e0141c" />
<circle cx="304.81" cy="379.81" r="1.25" fill="#e0141c" />
<circle cx="302.70" cy="381.93" r="1.25" fill="#e0141c" />
<circle cx="300.58" cy="375.58" r="1.25" fill="#e0141c" />
<circle cx="298.47" cy="381.93" r="1.25" fill="#e0141c" />
<circle cx="297.41" cy="381.93" r="1.25" fill="#e0141c" />
<circle cx="307.98" cy="369.23" r="1.25" fill="#e0141c" />
<circle cx="311.16" cy="373.47" r="1.25" fill="#e0141c" />
<circle cx="312.22" cy="377.70" r="1.25" fill="#e0141c" />
<circle cx="313.27" cy="381.93" r="1.25" fill="#e0141c" />
<circle cx="314.33" cy="373.47" r="1.25" fill="#e0141c" />
<circle cx="315.39" cy="371.35" r="1.25" fill="#e0141c" />
<circle cx="315.39" cy="367.12" r="1.25" fill="#e0141c" />
<circle cx="317.50" cy="367.12" r="1.25" fill="#e0141c" />
<circle cx="318.56" cy="369.23" r="1.25" fill="#e0141c" />
<circle cx="319.62" cy="373.47" r="1.25" fill="#e0141c" />
<circle cx="316.45" cy="377.70" r="1.25" fill="#e0141c" />
<circle cx="314.97" cy="384.04" r="1.25" fill="#e0141c" />
<circle cx="313.27" cy="385.10" r="1.25" fill="#e0141c" />
<circle cx="314.33" cy="390.39" r="1.25" fill="#e0141c" />
<circle cx="311.16" cy="391.45" r="1.25" fill="#e0141c" />
<circle cx="310.10" cy="395.68" r="1.25" fill="#e0141c" />
<circle cx="312.22" cy="393.56" r="1.25" fill="#e0141c" />
<circle cx="318.56" cy="384.04" r="1.25" fill="#e0141c" />
<circle cx="320.68" cy="381.93" r="1.25" fill="#e0141c" />
<circle cx="320.68" cy="387.22" r="1.25" fill="#e0141c" />
<circle cx="321.74" cy="391.45" r="1.25" fill="#e0141c" />
<circle cx="319.62" cy="385.10" r="1.25" fill="#e0141c" />
<circle cx="323.85" cy="380.87" r="1.25" fill="#e0141c" />
<circle cx="325.97" cy="379.81" r="1.25" fill="#e0141c" />
<circle cx="325.97" cy="384.04" r="1.25" fill="#e0141c" />
<circle cx="328.08" cy="385.10" r="1.25" fill="#e0141c" />
<circle cx="325.97" cy="391.45" r="1.25" fill="#e0141c" />
<circle cx="326.39" cy="393.56" r="1.25" fill="#e0141c" />
<circle cx="321.74" cy="387.22" r="1.25" fill="#e0141c" />
<circle cx="322.79" cy="404.14" r="1.25" fill="#e0141c" />
<circle cx="332.31" cy="405.20" r="1.25" fill="#e0141c" />
<circle cx="335.49" cy="396.74" r="1.25" fill="#e0141c" />
<circle cx="303.75" cy="391.45" r="1.25" fill="#e0141c" />
<circle cx="266.73" cy="336.44" r="1.25" fill="#e0141c" />
<circle cx="264.19" cy="342.79" r="1.25" fill="#e0141c" />
<circle cx="271.39" cy="336.44" r="1.25" fill="#e0141c" />
<circle cx="277.31" cy="350.19" r="1.25" fill="#e0141c" />
<circle cx="276.25" cy="353.37" r="1.25" fill="#e0141c" />
<circle cx="290.43" cy="373.47" r="1.25" fill="#e0141c" />
<circle cx="293.81" cy="375.58" r="1.25" fill="#e0141c" />
<circle cx="302.27" cy="411.54" r="1.10" fill="#3a3aa0" />
<circle cx="302.27" cy="414.72" r="1.10" fill="#3a3aa0" />
<line x1="244.50" y1="319.50" x2="244.50" y2="418.80" stroke="#1a1a1a" stroke-width="1.2" />
<line x1="244.00" y1="418.30" x2="338.70" y2="418.30" stroke="#1a1a1a" stroke-width="1.2" />
<line x1="241.50" y1="413.20" x2="244.50" y2="413.20" stroke="#1a1a1a" stroke-width="1" />
<line x1="241.50" y1="397.85" x2="244.50" y2="397.85" stroke="#1a1a1a" stroke-width="1" />
<line x1="241.50" y1="382.50" x2="244.50" y2="382.50" stroke="#1a1a1a" stroke-width="1" />
<line x1="241.50" y1="367.15" x2="244.50" y2="367.15" stroke="#1a1a1a" stroke-width="1" />
<line x1="241.50" y1="351.80" x2="244.50" y2="351.80" stroke="#1a1a1a" stroke-width="1" />
<line x1="241.50" y1="336.45" x2="244.50" y2="336.45" stroke="#1a1a1a" stroke-width="1" />
<line x1="241.50" y1="321.10" x2="244.50" y2="321.10" stroke="#1a1a1a" stroke-width="1" />
<text x="239.20" y="416.40" font-size="9" fill="#2a2a2a" text-anchor="end" stroke="#2a2a2a" stroke-width="0.22" textLength="4.78" lengthAdjust="spacingAndGlyphs" >0</text>
<text x="239.20" y="385.70" font-size="9" fill="#2a2a2a" text-anchor="end" stroke="#2a2a2a" stroke-width="0.22" textLength="4.78" lengthAdjust="spacingAndGlyphs" >1</text>
<text x="239.20" y="355.00" font-size="9" fill="#2a2a2a" text-anchor="end" stroke="#2a2a2a" stroke-width="0.22" textLength="4.78" lengthAdjust="spacingAndGlyphs" >2</text>
<text x="239.20" y="324.30" font-size="9" fill="#2a2a2a" text-anchor="end" stroke="#2a2a2a" stroke-width="0.22" textLength="4.78" lengthAdjust="spacingAndGlyphs" >3</text>
<line x1="245.10" y1="418.30" x2="245.10" y2="421.20" stroke="#1a1a1a" stroke-width="1" />
<line x1="266.10" y1="418.30" x2="266.10" y2="421.20" stroke="#1a1a1a" stroke-width="1" />
<line x1="287.10" y1="418.30" x2="287.10" y2="421.20" stroke="#1a1a1a" stroke-width="1" />
<line x1="308.10" y1="418.30" x2="308.10" y2="421.20" stroke="#1a1a1a" stroke-width="1" />
<line x1="329.10" y1="418.30" x2="329.10" y2="421.20" stroke="#1a1a1a" stroke-width="1" />
<text x="245.10" y="432.40" font-size="9" fill="#2a2a2a" text-anchor="middle" stroke="#2a2a2a" stroke-width="0.22" textLength="9.81" lengthAdjust="spacingAndGlyphs" >&#8722;2</text>
<text x="287.10" y="432.40" font-size="9" fill="#2a2a2a" text-anchor="middle" stroke="#2a2a2a" stroke-width="0.22" textLength="9.81" lengthAdjust="spacingAndGlyphs" >&#8722;1</text>
<text x="329.10" y="432.40" font-size="9" fill="#2a2a2a" text-anchor="middle" stroke="#2a2a2a" stroke-width="0.22" textLength="4.78" lengthAdjust="spacingAndGlyphs" >0</text>
<text x="247.70" y="445.40" font-size="10" fill="#2a2a2a" text-anchor="start" stroke="#2a2a2a" stroke-width="0.22" textLength="88.40" lengthAdjust="spacingAndGlyphs" >log(STHSC<tspan font-size="6.5" dy="2.2">KO</tspan><tspan dy="-2.2">/STHSC</tspan><tspan font-size="6.5" dy="2.2">WT</tspan><tspan dy="-2.2">) -</tspan></text>
<text x="250.90" y="457.00" font-size="10" fill="#2a2a2a" text-anchor="start" stroke="#2a2a2a" stroke-width="0.22" textLength="81.80" lengthAdjust="spacingAndGlyphs" >log(LTHSC<tspan font-size="6.5" dy="2.2">KO</tspan><tspan dy="-2.2">/LTHSC</tspan><tspan font-size="6.5" dy="2.2">WT</tspan><tspan dy="-2.2">)</tspan></text>
<text x="214.30" y="405.10" font-size="10" fill="#2a2a2a" text-anchor="start" stroke="#2a2a2a" stroke-width="0.22" textLength="74.80" lengthAdjust="spacingAndGlyphs" transform="rotate(-90 214.30 405.10)" >log(MPP<tspan font-size="6.5" dy="2.2">KO</tspan><tspan dy="-2.2">/MPP</tspan><tspan font-size="6.5" dy="2.2">WT</tspan><tspan dy="-2.2">) -</tspan></text>
<text x="227.30" y="409.30" font-size="10" fill="#2a2a2a" text-anchor="start" stroke="#2a2a2a" stroke-width="0.22" textLength="84.50" lengthAdjust="spacingAndGlyphs" transform="rotate(-90 227.30 409.30)" >log(STHSC<tspan font-size="6.5" dy="2.2">KO</tspan><tspan dy="-2.2">/STHSC</tspan><tspan font-size="6.5" dy="2.2">WT</tspan><tspan dy="-2.2">)</tspan></text>
<polyline points="394.7,397.6 397.7,396.9 401.2,393.9 406.9,393.5 410.4,391.2 412.7,387.7 416.2,387.0 419.6,384.2 423.1,381.9 426.5,377.3 430.0,373.9 433.5,371.5 436.9,366.9 439.2,364.6 441.5,363.9 443.9,360.0 446.2,356.5 448.5,354.2 450.8,353.8 453.1,349.6 456.5,346.2 458.9,343.8 462.3,338.1 464.6,336.9 468.1,333.5 470.4,331.2 473.9,330.0 476.2,327.7 479.6,325.4 484.2,324.2 487.7,323.5 492.3,323.1 495.8,322.4" fill="none" stroke="#222" stroke-width="1.4"/>
<line x1="391.90" y1="318.50" x2="391.90" y2="417.00" stroke="#1a1a1a" stroke-width="1.2" />
<line x1="391.40" y1="416.50" x2="499.20" y2="416.50" stroke="#1a1a1a" stroke-width="1.2" />
<line x1="388.90" y1="416.10" x2="391.90" y2="416.10" stroke="#1a1a1a" stroke-width="1" />
<text x="384.60" y="419.60" font-size="9.8" fill="#2a2a2a" text-anchor="end" stroke="#2a2a2a" stroke-width="0.22" textLength="11.71" lengthAdjust="spacingAndGlyphs" >0%</text>
<line x1="388.90" y1="397.40" x2="391.90" y2="397.40" stroke="#1a1a1a" stroke-width="1" />
<text x="384.60" y="400.90" font-size="9.8" fill="#2a2a2a" text-anchor="end" stroke="#2a2a2a" stroke-width="0.22" textLength="16.21" lengthAdjust="spacingAndGlyphs" >20%</text>
<line x1="388.90" y1="378.70" x2="391.90" y2="378.70" stroke="#1a1a1a" stroke-width="1" />
<text x="384.60" y="382.20" font-size="9.8" fill="#2a2a2a" text-anchor="end" stroke="#2a2a2a" stroke-width="0.22" textLength="16.21" lengthAdjust="spacingAndGlyphs" >40%</text>
<line x1="388.90" y1="360.00" x2="391.90" y2="360.00" stroke="#1a1a1a" stroke-width="1" />
<text x="384.60" y="363.50" font-size="9.8" fill="#2a2a2a" text-anchor="end" stroke="#2a2a2a" stroke-width="0.22" textLength="16.21" lengthAdjust="spacingAndGlyphs" >60%</text>
<line x1="388.90" y1="341.30" x2="391.90" y2="341.30" stroke="#1a1a1a" stroke-width="1" />
<text x="384.60" y="344.80" font-size="9.8" fill="#2a2a2a" text-anchor="end" stroke="#2a2a2a" stroke-width="0.22" textLength="16.21" lengthAdjust="spacingAndGlyphs" >80%</text>
<line x1="388.90" y1="322.60" x2="391.90" y2="322.60" stroke="#1a1a1a" stroke-width="1" />
<text x="384.60" y="326.10" font-size="9.8" fill="#2a2a2a" text-anchor="end" stroke="#2a2a2a" stroke-width="0.22" textLength="20.72" lengthAdjust="spacingAndGlyphs" >100%</text>
<line x1="394.70" y1="416.50" x2="394.70" y2="419.50" stroke="#1a1a1a" stroke-width="1" />
<text x="394.70" y="433.30" font-size="9.8" fill="#2a2a2a" text-anchor="middle" stroke="#2a2a2a" stroke-width="0.22" textLength="11.71" lengthAdjust="spacingAndGlyphs" >0%</text>
<line x1="419.50" y1="416.50" x2="419.50" y2="419.50" stroke="#1a1a1a" stroke-width="1" />
<text x="419.50" y="433.30" font-size="9.8" fill="#2a2a2a" text-anchor="middle" stroke="#2a2a2a" stroke-width="0.22" textLength="16.21" lengthAdjust="spacingAndGlyphs" >10%</text>
<line x1="444.30" y1="416.50" x2="444.30" y2="419.50" stroke="#1a1a1a" stroke-width="1" />
<text x="444.30" y="433.30" font-size="9.8" fill="#2a2a2a" text-anchor="middle" stroke="#2a2a2a" stroke-width="0.22" textLength="16.21" lengthAdjust="spacingAndGlyphs" >20%</text>
<line x1="469.10" y1="416.50" x2="469.10" y2="419.50" stroke="#1a1a1a" stroke-width="1" />
<text x="469.10" y="433.30" font-size="9.8" fill="#2a2a2a" text-anchor="middle" stroke="#2a2a2a" stroke-width="0.22" textLength="16.21" lengthAdjust="spacingAndGlyphs" >30%</text>
<line x1="493.90" y1="416.50" x2="493.90" y2="419.50" stroke="#1a1a1a" stroke-width="1" />
<text x="493.90" y="433.30" font-size="9.8" fill="#2a2a2a" text-anchor="middle" stroke="#2a2a2a" stroke-width="0.22" textLength="16.21" lengthAdjust="spacingAndGlyphs" >40%</text>
<text x="391.20" y="447.10" font-size="10" fill="#2a2a2a" text-anchor="start" stroke="#2a2a2a" stroke-width="0.22" textLength="109.80" lengthAdjust="spacingAndGlyphs" >Relative error in measurement</text>
<text x="357.80" y="414.60" font-size="10" fill="#2a2a2a" text-anchor="start" stroke="#2a2a2a" stroke-width="0.22" textLength="89.60" lengthAdjust="spacingAndGlyphs" transform="rotate(-90 357.80 414.60)" >Data supported by model</text>
<text x="195.80" y="487.80" font-size="12" fill="#000" text-anchor="start" font-weight="bold" textLength="6.60" lengthAdjust="spacingAndGlyphs" >F</text>
<clipPath id="cpf"><rect x="245" y="478.5" width="100" height="99"/></clipPath><g clip-path="url(#cpf)">
<line x1="249.0" y1="538.0" x2="249.0" y2="502.0" stroke="#949494" stroke-width="1"/>
<line x1="250.5" y1="542.1" x2="250.5" y2="493.1" stroke="#949494" stroke-width="1"/>
<line x1="259.0" y1="544.0" x2="259.0" y2="510.9" stroke="#949494" stroke-width="1"/>
<line x1="260.0" y1="549.5" x2="260.0" y2="508.8" stroke="#949494" stroke-width="1"/>
<line x1="264.2" y1="537.9" x2="264.2" y2="510.8" stroke="#949494" stroke-width="1"/>
<line x1="266.0" y1="536.8" x2="266.0" y2="496.8" stroke="#949494" stroke-width="1"/>
<line x1="268.0" y1="552.6" x2="268.0" y2="488.8" stroke="#949494" stroke-width="1"/>
<line x1="269.4" y1="544.9" x2="269.4" y2="508.7" stroke="#949494" stroke-width="1"/>
<line x1="271.0" y1="552.6" x2="271.0" y2="503.9" stroke="#949494" stroke-width="1"/>
<line x1="273.3" y1="553.3" x2="273.3" y2="507.1" stroke="#949494" stroke-width="1"/>
<line x1="275.3" y1="540.4" x2="275.3" y2="516.1" stroke="#949494" stroke-width="1"/>
<line x1="277.0" y1="561.0" x2="277.0" y2="497.6" stroke="#949494" stroke-width="1"/>
<line x1="278.5" y1="542.8" x2="278.5" y2="504.7" stroke="#949494" stroke-width="1"/>
<line x1="280.0" y1="559.7" x2="280.0" y2="505.1" stroke="#949494" stroke-width="1"/>
<line x1="282.4" y1="558.7" x2="282.4" y2="508.2" stroke="#949494" stroke-width="1"/>
<line x1="284.0" y1="549.8" x2="284.0" y2="504.3" stroke="#949494" stroke-width="1"/>
<line x1="286.3" y1="547.0" x2="286.3" y2="519.1" stroke="#949494" stroke-width="1"/>
<line x1="288.3" y1="556.4" x2="288.3" y2="513.2" stroke="#949494" stroke-width="1"/>
<line x1="290.9" y1="555.9" x2="290.9" y2="516.4" stroke="#949494" stroke-width="1"/>
<line x1="292.5" y1="554.0" x2="292.5" y2="522.3" stroke="#949494" stroke-width="1"/>
<line x1="294.6" y1="559.0" x2="294.6" y2="517.9" stroke="#949494" stroke-width="1"/>
<line x1="296.0" y1="550.4" x2="296.0" y2="511.2" stroke="#949494" stroke-width="1"/>
<line x1="297.5" y1="557.5" x2="297.5" y2="506.4" stroke="#949494" stroke-width="1"/>
<line x1="299.1" y1="553.6" x2="299.1" y2="516.7" stroke="#949494" stroke-width="1"/>
<line x1="300.5" y1="563.7" x2="300.5" y2="513.1" stroke="#949494" stroke-width="1"/>
<line x1="302.4" y1="558.8" x2="302.4" y2="515.9" stroke="#949494" stroke-width="1"/>
<line x1="304.0" y1="564.5" x2="304.0" y2="517.8" stroke="#949494" stroke-width="1"/>
<line x1="305.5" y1="563.5" x2="305.5" y2="521.1" stroke="#949494" stroke-width="1"/>
<line x1="307.0" y1="565.9" x2="307.0" y2="517.4" stroke="#949494" stroke-width="1"/>
<line x1="308.9" y1="562.2" x2="308.9" y2="517.5" stroke="#949494" stroke-width="1"/>
<line x1="310.5" y1="571.9" x2="310.5" y2="523.9" stroke="#949494" stroke-width="1"/>
<line x1="312.0" y1="563.0" x2="312.0" y2="521.3" stroke="#949494" stroke-width="1"/>
<line x1="314.1" y1="563.7" x2="314.1" y2="527.6" stroke="#949494" stroke-width="1"/>
<line x1="315.5" y1="562.0" x2="315.5" y2="532.9" stroke="#949494" stroke-width="1"/>
<line x1="316.7" y1="560.2" x2="316.7" y2="535.6" stroke="#949494" stroke-width="1"/>
<line x1="318.5" y1="577.2" x2="318.5" y2="534.2" stroke="#949494" stroke-width="1"/>
<line x1="320.0" y1="564.0" x2="320.0" y2="528.0" stroke="#949494" stroke-width="1"/>
<line x1="321.3" y1="570.3" x2="321.3" y2="532.0" stroke="#949494" stroke-width="1"/>
<line x1="323.0" y1="567.4" x2="323.0" y2="527.1" stroke="#949494" stroke-width="1"/>
<line x1="325.8" y1="562.5" x2="325.8" y2="534.6" stroke="#949494" stroke-width="1"/>
<line x1="327.0" y1="563.6" x2="327.0" y2="532.8" stroke="#949494" stroke-width="1"/>
<line x1="328.4" y1="575.8" x2="328.4" y2="543.6" stroke="#949494" stroke-width="1"/>
<line x1="330.0" y1="568.3" x2="330.0" y2="533.2" stroke="#949494" stroke-width="1"/>
<line x1="333.0" y1="576.0" x2="333.0" y2="543.3" stroke="#949494" stroke-width="1"/>
<line x1="335.6" y1="562.2" x2="335.6" y2="538.2" stroke="#949494" stroke-width="1"/>
<line x1="259.0" y1="526.9" x2="259.0" y2="482.7" stroke="#ee6a5a" stroke-width="1.5" opacity="0.85"/>
<line x1="260.0" y1="524.8" x2="260.0" y2="502.5" stroke="#ee6a5a" stroke-width="1.5" opacity="0.85"/>
<line x1="264.2" y1="526.8" x2="264.2" y2="483.5" stroke="#ee6a5a" stroke-width="1.5" opacity="0.85"/>
<line x1="269.4" y1="524.7" x2="269.4" y2="481.3" stroke="#ee6a5a" stroke-width="1.5" opacity="0.85"/>
<line x1="271.0" y1="519.9" x2="271.0" y2="495.9" stroke="#ee6a5a" stroke-width="1.5" opacity="0.85"/>
<line x1="273.3" y1="523.1" x2="273.3" y2="485.1" stroke="#ee6a5a" stroke-width="1.5" opacity="0.85"/>
<line x1="275.3" y1="532.1" x2="275.3" y2="482.6" stroke="#ee6a5a" stroke-width="1.5" opacity="0.85"/>
<line x1="278.5" y1="520.7" x2="278.5" y2="502.4" stroke="#ee6a5a" stroke-width="1.5" opacity="0.85"/>
<line x1="280.0" y1="521.1" x2="280.0" y2="495.5" stroke="#ee6a5a" stroke-width="1.5" opacity="0.85"/>
<line x1="284.0" y1="520.3" x2="284.0" y2="502.0" stroke="#ee6a5a" stroke-width="1.5" opacity="0.85"/>
<line x1="286.3" y1="535.1" x2="286.3" y2="509.4" stroke="#ee6a5a" stroke-width="1.5" opacity="0.85"/>
<line x1="288.3" y1="529.2" x2="288.3" y2="489.4" stroke="#ee6a5a" stroke-width="1.5" opacity="0.85"/>
<line x1="290.9" y1="532.4" x2="290.9" y2="503.2" stroke="#ee6a5a" stroke-width="1.5" opacity="0.85"/>
<line x1="292.5" y1="538.3" x2="292.5" y2="495.2" stroke="#ee6a5a" stroke-width="1.5" opacity="0.85"/>
<line x1="294.6" y1="533.9" x2="294.6" y2="513.4" stroke="#ee6a5a" stroke-width="1.5" opacity="0.85"/>
<line x1="296.0" y1="527.2" x2="296.0" y2="493.5" stroke="#ee6a5a" stroke-width="1.5" opacity="0.85"/>
<line x1="299.1" y1="532.7" x2="299.1" y2="496.1" stroke="#ee6a5a" stroke-width="1.5" opacity="0.85"/>
<line x1="300.5" y1="529.1" x2="300.5" y2="501.1" stroke="#ee6a5a" stroke-width="1.5" opacity="0.85"/>
<line x1="302.4" y1="531.9" x2="302.4" y2="505.3" stroke="#ee6a5a" stroke-width="1.5" opacity="0.85"/>
<line x1="304.0" y1="533.8" x2="304.0" y2="504.1" stroke="#ee6a5a" stroke-width="1.5" opacity="0.85"/>
<line x1="305.5" y1="537.1" x2="305.5" y2="522.8" stroke="#ee6a5a" stroke-width="1.5" opacity="0.85"/>
<line x1="307.0" y1="533.4" x2="307.0" y2="509.2" stroke="#ee6a5a" stroke-width="1.5" opacity="0.85"/>
<line x1="310.5" y1="539.9" x2="310.5" y2="514.8" stroke="#ee6a5a" stroke-width="1.5" opacity="0.85"/>
<line x1="312.0" y1="537.3" x2="312.0" y2="511.9" stroke="#ee6a5a" stroke-width="1.5" opacity="0.85"/>
<line x1="314.1" y1="543.6" x2="314.1" y2="514.7" stroke="#ee6a5a" stroke-width="1.5" opacity="0.85"/>
<line x1="315.5" y1="548.9" x2="315.5" y2="531.3" stroke="#ee6a5a" stroke-width="1.5" opacity="0.85"/>
<line x1="316.7" y1="551.6" x2="316.7" y2="518.8" stroke="#ee6a5a" stroke-width="1.5" opacity="0.85"/>
<line x1="318.5" y1="550.2" x2="318.5" y2="528.3" stroke="#ee6a5a" stroke-width="1.5" opacity="0.85"/>
<line x1="320.0" y1="544.0" x2="320.0" y2="523.4" stroke="#ee6a5a" stroke-width="1.5" opacity="0.85"/>
<line x1="321.3" y1="548.0" x2="321.3" y2="532.7" stroke="#ee6a5a" stroke-width="1.5" opacity="0.85"/>
<line x1="325.8" y1="550.6" x2="325.8" y2="525.7" stroke="#ee6a5a" stroke-width="1.5" opacity="0.85"/>
<line x1="327.0" y1="548.8" x2="327.0" y2="531.8" stroke="#ee6a5a" stroke-width="1.5" opacity="0.85"/>
<line x1="328.4" y1="559.6" x2="328.4" y2="525.9" stroke="#ee6a5a" stroke-width="1.5" opacity="0.85"/>
<line x1="244.60" y1="528.50" x2="334.00" y2="562.00" stroke="#111" stroke-width="1.4" stroke-dasharray="1.1 1.1"/>
<line x1="245.00" y1="560.50" x2="334.00" y2="560.50" stroke="#111" stroke-width="1.5" stroke-dasharray="5 3.5"/>
<circle cx="249.00" cy="529.74" r="1.10" fill="#1fa0a0" />
<circle cx="249.00" cy="520.24" r="1.00" fill="#1fa0a0" />
<circle cx="250.50" cy="534.78" r="1.10" fill="#1fa0a0" />
<circle cx="250.50" cy="529.75" r="1.00" fill="#1fa0a0" />
<circle cx="259.00" cy="537.93" r="1.10" fill="#1fa0a0" />
<circle cx="259.00" cy="533.95" r="1.00" fill="#1fa0a0" />
<circle cx="260.00" cy="540.88" r="1.10" fill="#1fa0a0" />
<circle cx="264.20" cy="537.86" r="1.10" fill="#1fa0a0" />
<circle cx="264.20" cy="532.79" r="1.00" fill="#1fa0a0" />
<circle cx="266.00" cy="533.58" r="1.10" fill="#1fa0a0" />
<circle cx="268.00" cy="544.90" r="1.10" fill="#1fa0a0" />
<circle cx="269.40" cy="543.30" r="1.10" fill="#1fa0a0" />
<circle cx="269.40" cy="536.69" r="1.00" fill="#1fa0a0" />
<circle cx="271.00" cy="548.77" r="1.10" fill="#1fa0a0" />
<circle cx="271.00" cy="539.58" r="1.00" fill="#1fa0a0" />
<circle cx="273.30" cy="545.38" r="1.10" fill="#1fa0a0" />
<circle cx="275.30" cy="540.23" r="1.10" fill="#1fa0a0" />
<circle cx="275.30" cy="535.32" r="1.00" fill="#1fa0a0" />
<circle cx="277.00" cy="558.95" r="1.10" fill="#1fa0a0" />
<circle cx="277.00" cy="549.42" r="1.00" fill="#1fa0a0" />
<circle cx="278.50" cy="538.99" r="1.10" fill="#1fa0a0" />
<circle cx="278.50" cy="531.90" r="1.00" fill="#1fa0a0" />
<circle cx="280.00" cy="550.73" r="1.10" fill="#1fa0a0" />
<circle cx="280.00" cy="543.40" r="1.00" fill="#1fa0a0" />
<circle cx="282.40" cy="551.86" r="1.10" fill="#1fa0a0" />
<circle cx="284.00" cy="546.28" r="1.10" fill="#1fa0a0" />
<circle cx="286.30" cy="545.19" r="1.10" fill="#1fa0a0" />
<circle cx="286.30" cy="537.12" r="1.00" fill="#1fa0a0" />
<circle cx="288.30" cy="549.79" r="1.10" fill="#1fa0a0" />
<circle cx="288.30" cy="543.18" r="1.00" fill="#1fa0a0" />
<circle cx="290.90" cy="555.53" r="1.10" fill="#1fa0a0" />
<circle cx="290.90" cy="550.43" r="1.00" fill="#1fa0a0" />
<circle cx="292.50" cy="546.94" r="1.10" fill="#1fa0a0" />
<circle cx="294.60" cy="555.65" r="1.10" fill="#1fa0a0" />
<circle cx="294.60" cy="550.14" r="1.00" fill="#1fa0a0" />
<circle cx="296.00" cy="544.93" r="1.10" fill="#1fa0a0" />
<circle cx="297.50" cy="553.28" r="1.10" fill="#1fa0a0" />
<circle cx="299.10" cy="552.58" r="1.10" fill="#1fa0a0" />
<circle cx="299.10" cy="547.76" r="1.00" fill="#1fa0a0" />
<circle cx="300.50" cy="554.98" r="1.10" fill="#1fa0a0" />
<circle cx="300.50" cy="545.92" r="1.00" fill="#1fa0a0" />
<circle cx="302.40" cy="555.67" r="1.10" fill="#1fa0a0" />
<circle cx="304.00" cy="557.21" r="1.10" fill="#1fa0a0" />
<circle cx="305.50" cy="558.36" r="1.10" fill="#1fa0a0" />
<circle cx="305.50" cy="550.18" r="1.00" fill="#1fa0a0" />
<circle cx="307.00" cy="557.61" r="1.10" fill="#1fa0a0" />
<circle cx="307.00" cy="550.72" r="1.00" fill="#1fa0a0" />
<circle cx="308.90" cy="551.22" r="1.10" fill="#1fa0a0" />
<circle cx="310.50" cy="561.39" r="1.10" fill="#1fa0a0" />
<circle cx="312.00" cy="554.28" r="1.10" fill="#1fa0a0" />
<circle cx="312.00" cy="545.25" r="1.00" fill="#1fa0a0" />
<circle cx="314.10" cy="556.52" r="1.10" fill="#1fa0a0" />
<circle cx="314.10" cy="550.81" r="1.00" fill="#1fa0a0" />
<circle cx="315.50" cy="559.53" r="1.10" fill="#1fa0a0" />
<circle cx="316.70" cy="559.57" r="1.10" fill="#1fa0a0" />
<circle cx="316.70" cy="554.47" r="1.00" fill="#1fa0a0" />
<circle cx="318.50" cy="572.03" r="1.10" fill="#1fa0a0" />
<circle cx="320.00" cy="563.98" r="1.10" fill="#1fa0a0" />
<circle cx="320.00" cy="555.43" r="1.00" fill="#1fa0a0" />
<circle cx="321.30" cy="566.14" r="1.10" fill="#1fa0a0" />
<circle cx="323.00" cy="560.93" r="1.10" fill="#1fa0a0" />
<circle cx="323.00" cy="555.90" r="1.00" fill="#1fa0a0" />
<circle cx="325.80" cy="558.34" r="1.10" fill="#1fa0a0" />
<circle cx="327.00" cy="556.83" r="1.10" fill="#1fa0a0" />
<circle cx="328.40" cy="568.91" r="1.10" fill="#1fa0a0" />
<circle cx="328.40" cy="562.64" r="1.00" fill="#1fa0a0" />
<circle cx="330.00" cy="565.79" r="1.10" fill="#1fa0a0" />
<circle cx="333.00" cy="565.73" r="1.10" fill="#1fa0a0" />
<circle cx="333.00" cy="560.42" r="1.00" fill="#1fa0a0" />
<circle cx="335.60" cy="557.56" r="1.10" fill="#1fa0a0" />
<circle cx="335.60" cy="550.61" r="1.00" fill="#1fa0a0" />
<circle cx="249.00" cy="518.07" r="1.05" fill="#30309a" />
<circle cx="250.50" cy="529.32" r="1.05" fill="#30309a" />
<circle cx="259.00" cy="520.55" r="1.05" fill="#30309a" />
<circle cx="259.00" cy="527.33" r="1.00" fill="#30309a" />
<circle cx="259.00" cy="516.01" r="1.00" fill="#30309a" />
<circle cx="260.00" cy="518.36" r="1.05" fill="#30309a" />
<circle cx="264.20" cy="520.36" r="1.05" fill="#30309a" />
<circle cx="264.20" cy="513.47" r="1.00" fill="#30309a" />
<circle cx="264.20" cy="525.17" r="1.00" fill="#30309a" />
<circle cx="266.00" cy="519.28" r="1.05" fill="#30309a" />
<circle cx="266.00" cy="511.69" r="1.00" fill="#30309a" />
<circle cx="268.00" cy="511.45" r="1.05" fill="#30309a" />
<circle cx="268.00" cy="509.18" r="1.00" fill="#30309a" />
<circle cx="269.40" cy="518.33" r="1.05" fill="#30309a" />
<circle cx="271.00" cy="513.48" r="1.05" fill="#30309a" />
<circle cx="273.30" cy="516.71" r="1.05" fill="#30309a" />
<circle cx="275.30" cy="525.71" r="1.05" fill="#30309a" />
<circle cx="277.00" cy="516.73" r="1.05" fill="#30309a" />
<circle cx="277.00" cy="515.53" r="1.00" fill="#30309a" />
<circle cx="277.00" cy="509.65" r="1.00" fill="#30309a" />
<circle cx="278.50" cy="514.31" r="1.05" fill="#30309a" />
<circle cx="278.50" cy="508.33" r="1.00" fill="#30309a" />
<circle cx="278.50" cy="506.43" r="1.00" fill="#30309a" />
<circle cx="280.00" cy="514.67" r="1.05" fill="#30309a" />
<circle cx="280.00" cy="508.24" r="1.00" fill="#30309a" />
<circle cx="280.00" cy="522.99" r="1.00" fill="#30309a" />
<circle cx="282.40" cy="512.80" r="1.05" fill="#30309a" />
<circle cx="282.40" cy="520.44" r="1.00" fill="#30309a" />
<circle cx="282.40" cy="508.60" r="1.00" fill="#30309a" />
<circle cx="284.00" cy="513.93" r="1.05" fill="#30309a" />
<circle cx="286.30" cy="528.66" r="1.05" fill="#30309a" />
<circle cx="286.30" cy="535.77" r="1.00" fill="#30309a" />
<circle cx="286.30" cy="529.19" r="1.00" fill="#30309a" />
<circle cx="288.30" cy="522.83" r="1.05" fill="#30309a" />
<circle cx="288.30" cy="526.75" r="1.00" fill="#30309a" />
<circle cx="288.30" cy="532.64" r="1.00" fill="#30309a" />
<circle cx="290.90" cy="526.01" r="1.05" fill="#30309a" />
<circle cx="292.50" cy="531.89" r="1.05" fill="#30309a" />
<circle cx="292.50" cy="532.05" r="1.00" fill="#30309a" />
<circle cx="292.50" cy="528.84" r="1.00" fill="#30309a" />
<circle cx="294.60" cy="527.53" r="1.05" fill="#30309a" />
<circle cx="294.60" cy="536.15" r="1.00" fill="#30309a" />
<circle cx="294.60" cy="530.44" r="1.00" fill="#30309a" />
<circle cx="296.00" cy="520.83" r="1.05" fill="#30309a" />
<circle cx="296.00" cy="518.87" r="1.00" fill="#30309a" />
<circle cx="297.50" cy="531.41" r="1.05" fill="#30309a" />
<circle cx="297.50" cy="533.21" r="1.00" fill="#30309a" />
<circle cx="299.10" cy="526.25" r="1.05" fill="#30309a" />
<circle cx="299.10" cy="530.27" r="1.00" fill="#30309a" />
<circle cx="299.10" cy="536.38" r="1.00" fill="#30309a" />
<circle cx="300.50" cy="522.68" r="1.05" fill="#30309a" />
<circle cx="300.50" cy="528.22" r="1.00" fill="#30309a" />
<circle cx="300.50" cy="522.96" r="1.00" fill="#30309a" />
<circle cx="302.40" cy="525.47" r="1.05" fill="#30309a" />
<circle cx="302.40" cy="526.95" r="1.00" fill="#30309a" />
<circle cx="302.40" cy="519.19" r="1.00" fill="#30309a" />
<circle cx="304.00" cy="527.43" r="1.05" fill="#30309a" />
<circle cx="304.00" cy="528.07" r="1.00" fill="#30309a" />
<circle cx="304.00" cy="534.39" r="1.00" fill="#30309a" />
<circle cx="305.50" cy="530.70" r="1.05" fill="#30309a" />
<circle cx="307.00" cy="527.04" r="1.05" fill="#30309a" />
<circle cx="307.00" cy="533.72" r="1.00" fill="#30309a" />
<circle cx="307.00" cy="522.26" r="1.00" fill="#30309a" />
<circle cx="308.90" cy="527.20" r="1.05" fill="#30309a" />
<circle cx="308.90" cy="528.47" r="1.00" fill="#30309a" />
<circle cx="310.50" cy="533.52" r="1.05" fill="#30309a" />
<circle cx="312.00" cy="530.92" r="1.05" fill="#30309a" />
<circle cx="314.10" cy="537.23" r="1.05" fill="#30309a" />
<circle cx="314.10" cy="539.73" r="1.00" fill="#30309a" />
<circle cx="315.50" cy="542.52" r="1.05" fill="#30309a" />
<circle cx="315.50" cy="550.28" r="1.00" fill="#30309a" />
<circle cx="316.70" cy="545.20" r="1.05" fill="#30309a" />
<circle cx="316.70" cy="556.04" r="1.00" fill="#30309a" />
<circle cx="316.70" cy="549.84" r="1.00" fill="#30309a" />
<circle cx="318.50" cy="543.83" r="1.05" fill="#30309a" />
<circle cx="318.50" cy="542.21" r="1.00" fill="#30309a" />
<circle cx="318.50" cy="553.28" r="1.00" fill="#30309a" />
<circle cx="320.00" cy="537.58" r="1.05" fill="#30309a" />
<circle cx="321.30" cy="541.56" r="1.05" fill="#30309a" />
<circle cx="321.30" cy="541.36" r="1.00" fill="#30309a" />
<circle cx="321.30" cy="548.18" r="1.00" fill="#30309a" />
<circle cx="323.00" cy="548.17" r="1.05" fill="#30309a" />
<circle cx="323.00" cy="550.15" r="1.00" fill="#30309a" />
<circle cx="325.80" cy="544.22" r="1.05" fill="#30309a" />
<circle cx="325.80" cy="553.35" r="1.00" fill="#30309a" />
<circle cx="327.00" cy="542.42" r="1.05" fill="#30309a" />
<circle cx="327.00" cy="553.06" r="1.00" fill="#30309a" />
<circle cx="327.00" cy="539.70" r="1.00" fill="#30309a" />
<circle cx="328.40" cy="553.21" r="1.05" fill="#30309a" />
<circle cx="330.00" cy="538.53" r="1.05" fill="#30309a" />
<circle cx="333.00" cy="538.79" r="1.05" fill="#30309a" />
<circle cx="333.00" cy="536.91" r="1.00" fill="#30309a" />
<circle cx="335.60" cy="552.79" r="1.05" fill="#30309a" />
</g>
<line x1="244.50" y1="478.50" x2="244.50" y2="578.40" stroke="#1a1a1a" stroke-width="1.2" />
<line x1="244.00" y1="577.90" x2="338.70" y2="577.90" stroke="#1a1a1a" stroke-width="1.2" />
<line x1="241.50" y1="560.50" x2="244.50" y2="560.50" stroke="#1a1a1a" stroke-width="1" />
<line x1="241.50" y1="544.50" x2="244.50" y2="544.50" stroke="#1a1a1a" stroke-width="1" />
<line x1="241.50" y1="528.50" x2="244.50" y2="528.50" stroke="#1a1a1a" stroke-width="1" />
<line x1="241.50" y1="512.50" x2="244.50" y2="512.50" stroke="#1a1a1a" stroke-width="1" />
<line x1="241.50" y1="496.50" x2="244.50" y2="496.50" stroke="#1a1a1a" stroke-width="1" />
<text x="239.20" y="563.70" font-size="9" fill="#2a2a2a" text-anchor="end" stroke="#2a2a2a" stroke-width="0.22" textLength="4.78" lengthAdjust="spacingAndGlyphs" >0</text>
<text x="239.20" y="531.70" font-size="9" fill="#2a2a2a" text-anchor="end" stroke="#2a2a2a" stroke-width="0.22" textLength="4.78" lengthAdjust="spacingAndGlyphs" >2</text>
<text x="239.20" y="499.70" font-size="9" fill="#2a2a2a" text-anchor="end" stroke="#2a2a2a" stroke-width="0.22" textLength="4.78" lengthAdjust="spacingAndGlyphs" >4</text>
<line x1="244.60" y1="577.90" x2="244.60" y2="580.80" stroke="#1a1a1a" stroke-width="1" />
<line x1="265.90" y1="577.90" x2="265.90" y2="580.80" stroke="#1a1a1a" stroke-width="1" />
<line x1="287.20" y1="577.90" x2="287.20" y2="580.80" stroke="#1a1a1a" stroke-width="1" />
<line x1="308.50" y1="577.90" x2="308.50" y2="580.80" stroke="#1a1a1a" stroke-width="1" />
<line x1="329.80" y1="577.90" x2="329.80" y2="580.80" stroke="#1a1a1a" stroke-width="1" />
<text x="244.60" y="590.80" font-size="9" fill="#2a2a2a" text-anchor="middle" stroke="#2a2a2a" stroke-width="0.22" textLength="9.81" lengthAdjust="spacingAndGlyphs" >&#8722;2</text>
<text x="287.20" y="590.80" font-size="9" fill="#2a2a2a" text-anchor="middle" stroke="#2a2a2a" stroke-width="0.22" textLength="9.81" lengthAdjust="spacingAndGlyphs" >&#8722;1</text>
<text x="329.80" y="590.80" font-size="9" fill="#2a2a2a" text-anchor="middle" stroke="#2a2a2a" stroke-width="0.22" textLength="4.78" lengthAdjust="spacingAndGlyphs" >0</text>
<text x="247.70" y="603.80" font-size="10" fill="#2a2a2a" text-anchor="start" stroke="#2a2a2a" stroke-width="0.22" textLength="88.40" lengthAdjust="spacingAndGlyphs" >log(STHSC<tspan font-size="6.5" dy="2.2">KO</tspan><tspan dy="-2.2">/STHSC</tspan><tspan font-size="6.5" dy="2.2">WT</tspan><tspan dy="-2.2">) -</tspan></text>
<text x="250.90" y="615.70" font-size="10" fill="#2a2a2a" text-anchor="start" stroke="#2a2a2a" stroke-width="0.22" textLength="81.80" lengthAdjust="spacingAndGlyphs" >log(LTHSC<tspan font-size="6.5" dy="2.2">KO</tspan><tspan dy="-2.2">/LTHSC</tspan><tspan font-size="6.5" dy="2.2">WT</tspan><tspan dy="-2.2">)</tspan></text>
<text x="214.30" y="563.70" font-size="10" fill="#2a2a2a" text-anchor="start" stroke="#2a2a2a" stroke-width="0.22" textLength="74.70" lengthAdjust="spacingAndGlyphs" transform="rotate(-90 214.30 563.70)" >log(MPP<tspan font-size="6.5" dy="2.2">KO</tspan><tspan dy="-2.2">/MPP</tspan><tspan font-size="6.5" dy="2.2">WT</tspan><tspan dy="-2.2">) -</tspan></text>
<text x="227.30" y="567.90" font-size="10" fill="#2a2a2a" text-anchor="start" stroke="#2a2a2a" stroke-width="0.22" textLength="84.50" lengthAdjust="spacingAndGlyphs" transform="rotate(-90 227.30 567.90)" >log(STHSC<tspan font-size="6.5" dy="2.2">KO</tspan><tspan dy="-2.2">/STHSC</tspan><tspan font-size="6.5" dy="2.2">WT</tspan><tspan dy="-2.2">)</tspan></text>
<polyline points="393.1,525.8 395.4,522.3 397.7,520.0 398.8,517.7 402.3,517.2 404.6,514.2 408.1,509.6 410.4,507.3 413.8,506.2 416.2,504.5 419.6,501.5 421.9,499.2 425.4,498.8 428.8,498.1 431.2,497.4 434.6,496.9 439.2,496.2 441.5,494.6 443.9,492.3 447.3,491.2 450.8,490.0 454.2,489.3 458.9,488.8 462.3,487.0 466.9,485.4 471.5,484.2 476.2,483.5 481.9,483.5 486.5,482.6 491.2,482.4 496.9,482.4" fill="none" stroke="#222" stroke-width="1.4"/>
<line x1="392.40" y1="477.30" x2="392.40" y2="576.40" stroke="#1a1a1a" stroke-width="1.2" />
<line x1="391.90" y1="575.90" x2="497.40" y2="575.90" stroke="#1a1a1a" stroke-width="1.2" />
<line x1="389.40" y1="575.40" x2="392.40" y2="575.40" stroke="#1a1a1a" stroke-width="1" />
<text x="385.10" y="578.90" font-size="9.8" fill="#2a2a2a" text-anchor="end" stroke="#2a2a2a" stroke-width="0.22" textLength="11.71" lengthAdjust="spacingAndGlyphs" >0%</text>
<line x1="389.40" y1="556.80" x2="392.40" y2="556.80" stroke="#1a1a1a" stroke-width="1" />
<text x="385.10" y="560.30" font-size="9.8" fill="#2a2a2a" text-anchor="end" stroke="#2a2a2a" stroke-width="0.22" textLength="16.21" lengthAdjust="spacingAndGlyphs" >20%</text>
<line x1="389.40" y1="538.20" x2="392.40" y2="538.20" stroke="#1a1a1a" stroke-width="1" />
<text x="385.10" y="541.70" font-size="9.8" fill="#2a2a2a" text-anchor="end" stroke="#2a2a2a" stroke-width="0.22" textLength="16.21" lengthAdjust="spacingAndGlyphs" >40%</text>
<line x1="389.40" y1="519.60" x2="392.40" y2="519.60" stroke="#1a1a1a" stroke-width="1" />
<text x="385.10" y="523.10" font-size="9.8" fill="#2a2a2a" text-anchor="end" stroke="#2a2a2a" stroke-width="0.22" textLength="16.21" lengthAdjust="spacingAndGlyphs" >60%</text>
<line x1="389.40" y1="501.00" x2="392.40" y2="501.00" stroke="#1a1a1a" stroke-width="1" />
<text x="385.10" y="504.50" font-size="9.8" fill="#2a2a2a" text-anchor="end" stroke="#2a2a2a" stroke-width="0.22" textLength="16.21" lengthAdjust="spacingAndGlyphs" >80%</text>
<line x1="389.40" y1="482.40" x2="392.40" y2="482.40" stroke="#1a1a1a" stroke-width="1" />
<text x="385.10" y="485.90" font-size="9.8" fill="#2a2a2a" text-anchor="end" stroke="#2a2a2a" stroke-width="0.22" textLength="20.72" lengthAdjust="spacingAndGlyphs" >100%</text>
<line x1="393.10" y1="575.90" x2="393.10" y2="578.90" stroke="#1a1a1a" stroke-width="1" />
<text x="393.10" y="591.10" font-size="9.8" fill="#2a2a2a" text-anchor="middle" stroke="#2a2a2a" stroke-width="0.22" textLength="11.71" lengthAdjust="spacingAndGlyphs" >0%</text>
<line x1="427.80" y1="575.90" x2="427.80" y2="578.90" stroke="#1a1a1a" stroke-width="1" />
<text x="427.80" y="591.10" font-size="9.8" fill="#2a2a2a" text-anchor="middle" stroke="#2a2a2a" stroke-width="0.22" textLength="16.21" lengthAdjust="spacingAndGlyphs" >10%</text>
<line x1="462.50" y1="575.90" x2="462.50" y2="578.90" stroke="#1a1a1a" stroke-width="1" />
<text x="462.50" y="591.10" font-size="9.8" fill="#2a2a2a" text-anchor="middle" stroke="#2a2a2a" stroke-width="0.22" textLength="16.21" lengthAdjust="spacingAndGlyphs" >20%</text>
<line x1="497.20" y1="575.90" x2="497.20" y2="578.90" stroke="#1a1a1a" stroke-width="1" />
<text x="497.20" y="591.10" font-size="9.8" fill="#2a2a2a" text-anchor="middle" stroke="#2a2a2a" stroke-width="0.22" textLength="16.21" lengthAdjust="spacingAndGlyphs" >30%</text>
<text x="391.20" y="605.20" font-size="10" fill="#2a2a2a" text-anchor="start" stroke="#2a2a2a" stroke-width="0.22" textLength="109.80" lengthAdjust="spacingAndGlyphs" >Relative error in measurement</text>
<text x="357.80" y="573.40" font-size="10" fill="#2a2a2a" text-anchor="start" stroke="#2a2a2a" stroke-width="0.22" textLength="89.60" lengthAdjust="spacingAndGlyphs" transform="rotate(-90 357.80 573.40)" >Data supported by model</text>
<text x="7.80" y="649.30" font-size="12" fill="#000" text-anchor="start" font-weight="bold" >G</text>
<g>
<rect x="84.9" y="645.8" width="1.3" height="1.3" fill="#8a2a62" opacity="0.59"/>
<rect x="86.5" y="649.7" width="1.3" height="1.3" fill="#8a2a62" opacity="0.44"/>
<rect x="72.2" y="663.5" width="1.3" height="1.3" fill="#8a2a62" opacity="0.13"/>
<rect x="92.7" y="643.4" width="1.3" height="1.3" fill="#8a2a62" opacity="0.70"/>
<rect x="76.7" y="646.3" width="1.3" height="1.3" fill="#8a2a62" opacity="0.57"/>
<rect x="83.0" y="699.1" width="1.3" height="1.3" fill="#8a2a62" opacity="0.10"/>
<rect x="83.1" y="681.4" width="1.3" height="1.3" fill="#8a2a62" opacity="0.10"/>
<rect x="74.5" y="664.4" width="1.3" height="1.3" fill="#8a2a62" opacity="0.12"/>
<rect x="93.5" y="664.1" width="1.3" height="1.3" fill="#8a2a62" opacity="0.12"/>
<rect x="90.1" y="657.0" width="1.3" height="1.3" fill="#8a2a62" opacity="0.23"/>
<rect x="72.2" y="666.8" width="1.3" height="1.3" fill="#8a2a62" opacity="0.10"/>
<rect x="86.2" y="674.0" width="1.3" height="1.3" fill="#8a2a62" opacity="0.10"/>
<rect x="71.3" y="647.5" width="1.3" height="1.3" fill="#8a2a62" opacity="0.53"/>
<rect x="83.0" y="684.4" width="1.3" height="1.3" fill="#8a2a62" opacity="0.10"/>
<rect x="93.8" y="670.6" width="1.3" height="1.3" fill="#8a2a62" opacity="0.10"/>
<rect x="94.9" y="670.2" width="1.3" height="1.3" fill="#8a2a62" opacity="0.10"/>
<rect x="91.7" y="650.7" width="1.3" height="1.3" fill="#8a2a62" opacity="0.41"/>
<rect x="95.3" y="652.9" width="1.3" height="1.3" fill="#8a2a62" opacity="0.34"/>
<rect x="73.1" y="685.8" width="1.3" height="1.3" fill="#8a2a62" opacity="0.10"/>
<rect x="76.3" y="644.1" width="1.3" height="1.3" fill="#8a2a62" opacity="0.67"/>
<rect x="82.1" y="695.5" width="1.3" height="1.3" fill="#8a2a62" opacity="0.10"/>
<rect x="78.5" y="663.5" width="1.3" height="1.3" fill="#8a2a62" opacity="0.13"/>
<rect x="80.7" y="656.1" width="1.3" height="1.3" fill="#8a2a62" opacity="0.25"/>
<rect x="86.0" y="649.1" width="1.3" height="1.3" fill="#8a2a62" opacity="0.47"/>
<rect x="94.5" y="660.7" width="1.3" height="1.3" fill="#8a2a62" opacity="0.16"/>
<rect x="95.1" y="667.7" width="1.3" height="1.3" fill="#8a2a62" opacity="0.10"/>
<rect x="96.8" y="683.4" width="1.3" height="1.3" fill="#8a2a62" opacity="0.10"/>
<rect x="74.8" y="666.8" width="1.3" height="1.3" fill="#8a2a62" opacity="0.10"/>
<rect x="96.1" y="683.8" width="1.3" height="1.3" fill="#8a2a62" opacity="0.10"/>
<rect x="85.6" y="688.5" width="1.3" height="1.3" fill="#8a2a62" opacity="0.10"/>
<rect x="76.1" y="670.2" width="1.3" height="1.3" fill="#8a2a62" opacity="0.10"/>
<rect x="85.7" y="680.9" width="1.3" height="1.3" fill="#8a2a62" opacity="0.10"/>
<rect x="72.2" y="647.0" width="1.3" height="1.3" fill="#8a2a62" opacity="0.54"/>
<rect x="96.7" y="683.2" width="1.3" height="1.3" fill="#8a2a62" opacity="0.10"/>
<rect x="91.7" y="643.7" width="1.3" height="1.3" fill="#8a2a62" opacity="0.69"/>
<rect x="74.5" y="651.4" width="1.3" height="1.3" fill="#8a2a62" opacity="0.39"/>
<rect x="90.9" y="647.2" width="1.3" height="1.3" fill="#8a2a62" opacity="0.53"/>
<rect x="71.7" y="685.1" width="1.3" height="1.3" fill="#8a2a62" opacity="0.10"/>
<rect x="71.7" y="662.7" width="1.3" height="1.3" fill="#8a2a62" opacity="0.14"/>
<rect x="79.3" y="670.6" width="1.3" height="1.3" fill="#8a2a62" opacity="0.10"/>
<rect x="96.5" y="686.0" width="1.3" height="1.3" fill="#8a2a62" opacity="0.10"/>
<rect x="97.0" y="656.0" width="1.3" height="1.3" fill="#8a2a62" opacity="0.26"/>
<rect x="72.5" y="647.7" width="1.3" height="1.3" fill="#8a2a62" opacity="0.52"/>
<rect x="71.3" y="661.7" width="1.3" height="1.3" fill="#8a2a62" opacity="0.15"/>
<rect x="81.3" y="645.0" width="1.3" height="1.3" fill="#8a2a62" opacity="0.63"/>
<rect x="74.6" y="662.4" width="1.3" height="1.3" fill="#8a2a62" opacity="0.14"/>
<rect x="93.5" y="643.5" width="1.3" height="1.3" fill="#8a2a62" opacity="0.70"/>
<rect x="95.9" y="647.8" width="1.3" height="1.3" fill="#8a2a62" opacity="0.51"/>
<rect x="80.5" y="687.7" width="1.3" height="1.3" fill="#8a2a62" opacity="0.10"/>
<rect x="84.3" y="653.6" width="1.3" height="1.3" fill="#8a2a62" opacity="0.32"/>
<rect x="86.3" y="664.8" width="1.3" height="1.3" fill="#8a2a62" opacity="0.12"/>
<rect x="86.9" y="659.1" width="1.3" height="1.3" fill="#8a2a62" opacity="0.19"/>
<rect x="83.9" y="692.6" width="1.3" height="1.3" fill="#8a2a62" opacity="0.10"/>
<rect x="89.6" y="652.3" width="1.3" height="1.3" fill="#8a2a62" opacity="0.36"/>
<rect x="78.5" y="645.8" width="1.3" height="1.3" fill="#8a2a62" opacity="0.59"/>
<rect x="84.3" y="696.9" width="1.3" height="1.3" fill="#8a2a62" opacity="0.10"/>
<rect x="70.8" y="658.4" width="1.3" height="1.3" fill="#8a2a62" opacity="0.20"/>
<rect x="85.9" y="651.6" width="1.3" height="1.3" fill="#8a2a62" opacity="0.38"/>
<rect x="86.8" y="643.5" width="1.3" height="1.3" fill="#8a2a62" opacity="0.70"/>
<rect x="72.1" y="663.9" width="1.3" height="1.3" fill="#8a2a62" opacity="0.12"/>
<rect x="82.9" y="663.6" width="1.3" height="1.3" fill="#8a2a62" opacity="0.13"/>
<rect x="79.8" y="667.4" width="1.3" height="1.3" fill="#8a2a62" opacity="0.10"/>
<rect x="90.1" y="669.7" width="1.3" height="1.3" fill="#8a2a62" opacity="0.10"/>
<rect x="72.1" y="643.5" width="1.3" height="1.3" fill="#8a2a62" opacity="0.70"/>
<rect x="96.0" y="667.2" width="1.3" height="1.3" fill="#8a2a62" opacity="0.10"/>
<rect x="82.6" y="646.1" width="1.3" height="1.3" fill="#8a2a62" opacity="0.58"/>
<rect x="79.0" y="661.2" width="1.3" height="1.3" fill="#8a2a62" opacity="0.16"/>
<rect x="78.8" y="649.5" width="1.3" height="1.3" fill="#8a2a62" opacity="0.45"/>
<rect x="86.3" y="649.7" width="1.3" height="1.3" fill="#8a2a62" opacity="0.44"/>
<rect x="80.5" y="647.4" width="1.3" height="1.3" fill="#8a2a62" opacity="0.53"/>
<rect x="71.2" y="675.3" width="1.3" height="1.3" fill="#8a2a62" opacity="0.10"/>
<rect x="90.0" y="659.7" width="1.3" height="1.3" fill="#8a2a62" opacity="0.18"/>
<rect x="76.4" y="647.7" width="1.3" height="1.3" fill="#8a2a62" opacity="0.52"/>
<rect x="76.8" y="678.2" width="1.3" height="1.3" fill="#8a2a62" opacity="0.10"/>
<rect x="82.0" y="644.9" width="1.3" height="1.3" fill="#8a2a62" opacity="0.64"/>
<rect x="73.2" y="668.9" width="1.3" height="1.3" fill="#8a2a62" opacity="0.10"/>
<rect x="79.3" y="648.1" width="1.3" height="1.3" fill="#8a2a62" opacity="0.50"/>
<rect x="82.1" y="681.1" width="1.3" height="1.3" fill="#8a2a62" opacity="0.10"/>
<rect x="75.0" y="683.3" width="1.3" height="1.3" fill="#8a2a62" opacity="0.10"/>
<rect x="87.7" y="648.6" width="1.3" height="1.3" fill="#8a2a62" opacity="0.48"/>
<rect x="82.5" y="686.4" width="1.3" height="1.3" fill="#8a2a62" opacity="0.10"/>
<rect x="73.7" y="645.6" width="1.3" height="1.3" fill="#8a2a62" opacity="0.60"/>
<rect x="75.6" y="657.3" width="1.3" height="1.3" fill="#8a2a62" opacity="0.23"/>
<rect x="92.7" y="678.5" width="1.3" height="1.3" fill="#8a2a62" opacity="0.10"/>
<rect x="77.9" y="644.8" width="1.3" height="1.3" fill="#8a2a62" opacity="0.64"/>
<rect x="87.5" y="678.5" width="1.3" height="1.3" fill="#8a2a62" opacity="0.10"/>
<rect x="79.6" y="678.4" width="1.3" height="1.3" fill="#8a2a62" opacity="0.10"/>
<rect x="78.2" y="644.1" width="1.3" height="1.3" fill="#8a2a62" opacity="0.67"/>
<rect x="77.7" y="677.3" width="1.3" height="1.3" fill="#8a2a62" opacity="0.10"/>
<rect x="81.5" y="648.9" width="1.3" height="1.3" fill="#8a2a62" opacity="0.47"/>
<rect x="81.4" y="651.8" width="1.3" height="1.3" fill="#8a2a62" opacity="0.37"/>
<rect x="74.6" y="690.3" width="1.3" height="1.3" fill="#8a2a62" opacity="0.10"/>
<rect x="95.5" y="643.4" width="1.3" height="1.3" fill="#8a2a62" opacity="0.70"/>
<rect x="96.7" y="685.9" width="1.3" height="1.3" fill="#8a2a62" opacity="0.10"/>
<rect x="95.7" y="652.4" width="1.3" height="1.3" fill="#8a2a62" opacity="0.35"/>
<rect x="76.4" y="691.1" width="1.3" height="1.3" fill="#8a2a62" opacity="0.10"/>
<rect x="92.7" y="672.9" width="1.3" height="1.3" fill="#8a2a62" opacity="0.10"/>
<rect x="84.3" y="666.2" width="1.3" height="1.3" fill="#8a2a62" opacity="0.11"/>
<rect x="79.5" y="647.1" width="1.3" height="1.3" fill="#8a2a62" opacity="0.54"/>
<rect x="72.3" y="645.6" width="1.3" height="1.3" fill="#8a2a62" opacity="0.60"/>
<rect x="78.1" y="661.0" width="1.3" height="1.3" fill="#8a2a62" opacity="0.16"/>
<rect x="71.7" y="678.8" width="1.3" height="1.3" fill="#8a2a62" opacity="0.10"/>
<rect x="88.9" y="688.4" width="1.3" height="1.3" fill="#8a2a62" opacity="0.10"/>
<rect x="94.3" y="690.7" width="1.3" height="1.3" fill="#8a2a62" opacity="0.10"/>
<rect x="85.8" y="688.0" width="1.3" height="1.3" fill="#8a2a62" opacity="0.10"/>
<rect x="90.3" y="643.4" width="1.3" height="1.3" fill="#8a2a62" opacity="0.70"/>
<rect x="78.4" y="644.6" width="1.3" height="1.3" fill="#8a2a62" opacity="0.65"/>
<rect x="84.4" y="666.2" width="1.3" height="1.3" fill="#8a2a62" opacity="0.11"/>
<rect x="95.4" y="651.5" width="1.3" height="1.3" fill="#8a2a62" opacity="0.38"/>
<rect x="79.5" y="662.5" width="1.3" height="1.3" fill="#8a2a62" opacity="0.14"/>
<rect x="93.3" y="646.2" width="1.3" height="1.3" fill="#8a2a62" opacity="0.58"/>
<rect x="91.2" y="654.5" width="1.3" height="1.3" fill="#8a2a62" opacity="0.29"/>
<rect x="75.7" y="649.1" width="1.3" height="1.3" fill="#8a2a62" opacity="0.46"/>
<rect x="92.1" y="657.6" width="1.3" height="1.3" fill="#8a2a62" opacity="0.22"/>
<rect x="91.5" y="644.6" width="1.3" height="1.3" fill="#8a2a62" opacity="0.65"/>
<rect x="91.9" y="690.4" width="1.3" height="1.3" fill="#8a2a62" opacity="0.10"/>
<rect x="70.7" y="680.1" width="1.3" height="1.3" fill="#8a2a62" opacity="0.10"/>
<rect x="93.4" y="663.7" width="1.3" height="1.3" fill="#8a2a62" opacity="0.13"/>
<rect x="77.7" y="643.5" width="1.3" height="1.3" fill="#8a2a62" opacity="0.70"/>
<rect x="84.5" y="646.6" width="1.3" height="1.3" fill="#8a2a62" opacity="0.56"/>
<rect x="83.0" y="651.9" width="1.3" height="1.3" fill="#8a2a62" opacity="0.37"/>
<rect x="70.5" y="675.7" width="1.3" height="1.3" fill="#8a2a62" opacity="0.10"/>
<rect x="73.9" y="643.5" width="1.3" height="1.3" fill="#8a2a62" opacity="0.70"/>
<rect x="72.3" y="644.0" width="1.3" height="1.3" fill="#8a2a62" opacity="0.67"/>
<rect x="93.1" y="696.6" width="1.3" height="1.3" fill="#8a2a62" opacity="0.10"/>
<rect x="83.8" y="643.7" width="1.3" height="1.3" fill="#8a2a62" opacity="0.69"/>
<rect x="78.8" y="647.9" width="1.3" height="1.3" fill="#8a2a62" opacity="0.51"/>
<rect x="87.6" y="649.1" width="1.3" height="1.3" fill="#8a2a62" opacity="0.46"/>
<rect x="80.1" y="660.8" width="1.3" height="1.3" fill="#8a2a62" opacity="0.16"/>
<rect x="79.2" y="644.9" width="1.3" height="1.3" fill="#8a2a62" opacity="0.63"/>
<rect x="85.2" y="644.0" width="1.3" height="1.3" fill="#8a2a62" opacity="0.67"/>
<rect x="80.6" y="670.4" width="1.3" height="1.3" fill="#8a2a62" opacity="0.10"/>
<rect x="75.2" y="643.7" width="1.3" height="1.3" fill="#8a2a62" opacity="0.69"/>
<rect x="86.5" y="649.9" width="1.3" height="1.3" fill="#8a2a62" opacity="0.44"/>
<rect x="80.6" y="676.2" width="1.3" height="1.3" fill="#8a2a62" opacity="0.10"/>
<rect x="87.0" y="678.0" width="1.3" height="1.3" fill="#8a2a62" opacity="0.10"/>
<rect x="80.4" y="652.3" width="1.3" height="1.3" fill="#8a2a62" opacity="0.36"/>
<rect x="89.1" y="655.5" width="1.3" height="1.3" fill="#8a2a62" opacity="0.27"/>
<rect x="88.9" y="651.8" width="1.3" height="1.3" fill="#8a2a62" opacity="0.37"/>
<rect x="77.0" y="653.7" width="1.3" height="1.3" fill="#8a2a62" opacity="0.32"/>
<rect x="88.9" y="657.7" width="1.3" height="1.3" fill="#8a2a62" opacity="0.22"/>
<rect x="81.8" y="643.6" width="1.3" height="1.3" fill="#8a2a62" opacity="0.69"/>
<rect x="93.8" y="652.0" width="1.3" height="1.3" fill="#8a2a62" opacity="0.36"/>
<rect x="80.4" y="692.1" width="1.3" height="1.3" fill="#8a2a62" opacity="0.10"/>
<rect x="91.5" y="687.8" width="1.3" height="1.3" fill="#8a2a62" opacity="0.10"/>
<rect x="82.8" y="646.4" width="1.3" height="1.3" fill="#8a2a62" opacity="0.57"/>
<rect x="92.1" y="644.0" width="1.3" height="1.3" fill="#8a2a62" opacity="0.67"/>
<rect x="94.0" y="666.1" width="1.3" height="1.3" fill="#8a2a62" opacity="0.11"/>
<rect x="88.2" y="677.1" width="1.3" height="1.3" fill="#8a2a62" opacity="0.10"/>
<rect x="85.4" y="671.9" width="1.3" height="1.3" fill="#8a2a62" opacity="0.10"/>
<rect x="86.1" y="643.8" width="1.3" height="1.3" fill="#8a2a62" opacity="0.68"/>
<rect x="74.3" y="643.4" width="1.3" height="1.3" fill="#8a2a62" opacity="0.70"/>
<rect x="71.7" y="675.5" width="1.3" height="1.3" fill="#8a2a62" opacity="0.10"/>
<rect x="73.1" y="643.7" width="1.3" height="1.3" fill="#8a2a62" opacity="0.69"/>
<rect x="75.2" y="685.9" width="1.3" height="1.3" fill="#8a2a62" opacity="0.10"/>
<rect x="92.8" y="643.5" width="1.3" height="1.3" fill="#8a2a62" opacity="0.70"/>
<rect x="92.9" y="644.0" width="1.3" height="1.3" fill="#8a2a62" opacity="0.67"/>
<rect x="92.7" y="667.0" width="1.3" height="1.3" fill="#8a2a62" opacity="0.10"/>
<rect x="85.8" y="693.9" width="1.3" height="1.3" fill="#8a2a62" opacity="0.10"/>
<rect x="71.5" y="677.7" width="1.3" height="1.3" fill="#8a2a62" opacity="0.10"/>
<rect x="84.1" y="674.8" width="1.3" height="1.3" fill="#8a2a62" opacity="0.10"/>
<rect x="73.3" y="670.3" width="1.3" height="1.3" fill="#8a2a62" opacity="0.10"/>
<rect x="95.3" y="673.2" width="1.3" height="1.3" fill="#8a2a62" opacity="0.10"/>
<rect x="79.1" y="643.6" width="1.3" height="1.3" fill="#8a2a62" opacity="0.69"/>
<rect x="92.4" y="659.4" width="1.3" height="1.3" fill="#8a2a62" opacity="0.18"/>
<rect x="75.3" y="645.9" width="1.3" height="1.3" fill="#8a2a62" opacity="0.59"/>
<rect x="86.8" y="646.1" width="1.3" height="1.3" fill="#8a2a62" opacity="0.58"/>
<rect x="80.9" y="673.6" width="1.3" height="1.3" fill="#8a2a62" opacity="0.10"/>
<rect x="81.0" y="649.7" width="1.3" height="1.3" fill="#8a2a62" opacity="0.44"/>
<rect x="81.6" y="649.0" width="1.3" height="1.3" fill="#8a2a62" opacity="0.47"/>
<rect x="83.8" y="643.7" width="1.3" height="1.3" fill="#8a2a62" opacity="0.69"/>
<rect x="81.4" y="696.4" width="1.3" height="1.3" fill="#8a2a62" opacity="0.10"/>
<rect x="74.8" y="673.1" width="1.3" height="1.3" fill="#8a2a62" opacity="0.10"/>
<rect x="90.5" y="668.4" width="1.3" height="1.3" fill="#8a2a62" opacity="0.10"/>
<rect x="84.2" y="667.0" width="1.3" height="1.3" fill="#8a2a62" opacity="0.10"/>
<rect x="87.5" y="654.8" width="1.3" height="1.3" fill="#8a2a62" opacity="0.28"/>
<rect x="74.5" y="687.7" width="1.3" height="1.3" fill="#8a2a62" opacity="0.10"/>
<rect x="90.3" y="643.8" width="1.3" height="1.3" fill="#8a2a62" opacity="0.68"/>
<rect x="84.2" y="689.9" width="1.3" height="1.3" fill="#8a2a62" opacity="0.10"/>
<rect x="89.6" y="652.8" width="1.3" height="1.3" fill="#8a2a62" opacity="0.34"/>
<rect x="77.6" y="644.8" width="1.3" height="1.3" fill="#8a2a62" opacity="0.64"/>
<rect x="86.0" y="645.1" width="1.3" height="1.3" fill="#8a2a62" opacity="0.63"/>
<rect x="76.7" y="647.9" width="1.3" height="1.3" fill="#8a2a62" opacity="0.51"/>
<rect x="95.8" y="668.4" width="1.3" height="1.3" fill="#8a2a62" opacity="0.10"/>
<rect x="89.2" y="647.3" width="1.3" height="1.3" fill="#8a2a62" opacity="0.53"/>
<rect x="93.1" y="651.5" width="1.3" height="1.3" fill="#8a2a62" opacity="0.38"/>
<rect x="77.6" y="660.7" width="1.3" height="1.3" fill="#8a2a62" opacity="0.16"/>
<rect x="71.1" y="645.4" width="1.3" height="1.3" fill="#8a2a62" opacity="0.61"/>
<rect x="80.6" y="654.6" width="1.3" height="1.3" fill="#8a2a62" opacity="0.29"/>
<rect x="80.1" y="644.6" width="1.3" height="1.3" fill="#8a2a62" opacity="0.65"/>
<rect x="91.0" y="648.1" width="1.3" height="1.3" fill="#8a2a62" opacity="0.50"/>
<rect x="96.8" y="644.2" width="1.3" height="1.3" fill="#8a2a62" opacity="0.66"/>
<rect x="86.4" y="654.6" width="1.3" height="1.3" fill="#8a2a62" opacity="0.29"/>
<rect x="92.6" y="654.0" width="1.3" height="1.3" fill="#8a2a62" opacity="0.31"/>
<rect x="85.3" y="679.9" width="1.3" height="1.3" fill="#8a2a62" opacity="0.10"/>
<rect x="89.6" y="654.7" width="1.3" height="1.3" fill="#8a2a62" opacity="0.29"/>
<rect x="81.1" y="683.4" width="1.3" height="1.3" fill="#8a2a62" opacity="0.10"/>
<rect x="95.9" y="671.9" width="1.3" height="1.3" fill="#8a2a62" opacity="0.10"/>
<rect x="76.6" y="654.0" width="1.3" height="1.3" fill="#8a2a62" opacity="0.31"/>
<rect x="89.5" y="645.8" width="1.3" height="1.3" fill="#8a2a62" opacity="0.60"/>
<rect x="95.9" y="667.1" width="1.3" height="1.3" fill="#8a2a62" opacity="0.10"/>
<rect x="76.9" y="683.1" width="1.3" height="1.3" fill="#8a2a62" opacity="0.10"/>
<rect x="77.4" y="644.9" width="1.3" height="1.3" fill="#8a2a62" opacity="0.63"/>
<rect x="89.2" y="644.8" width="1.3" height="1.3" fill="#8a2a62" opacity="0.64"/>
<rect x="94.3" y="683.6" width="1.3" height="1.3" fill="#8a2a62" opacity="0.10"/>
<rect x="93.4" y="646.2" width="1.3" height="1.3" fill="#8a2a62" opacity="0.58"/>
<rect x="81.7" y="647.8" width="1.3" height="1.3" fill="#8a2a62" opacity="0.51"/>
<rect x="72.8" y="671.5" width="1.3" height="1.3" fill="#8a2a62" opacity="0.10"/>
<rect x="92.6" y="643.7" width="1.3" height="1.3" fill="#8a2a62" opacity="0.69"/>
<rect x="80.0" y="647.2" width="1.3" height="1.3" fill="#8a2a62" opacity="0.54"/>
<rect x="88.4" y="660.4" width="1.3" height="1.3" fill="#8a2a62" opacity="0.17"/>
<rect x="79.4" y="643.4" width="1.3" height="1.3" fill="#8a2a62" opacity="0.70"/>
<rect x="83.4" y="652.5" width="1.3" height="1.3" fill="#8a2a62" opacity="0.35"/>
<rect x="86.0" y="645.3" width="1.3" height="1.3" fill="#8a2a62" opacity="0.62"/>
<rect x="80.9" y="694.3" width="1.3" height="1.3" fill="#8a2a62" opacity="0.10"/>
<rect x="73.7" y="658.2" width="1.3" height="1.3" fill="#8a2a62" opacity="0.21"/>
<rect x="88.1" y="646.7" width="1.3" height="1.3" fill="#8a2a62" opacity="0.56"/>
<rect x="94.0" y="643.9" width="1.3" height="1.3" fill="#8a2a62" opacity="0.68"/>
<rect x="73.1" y="689.0" width="1.3" height="1.3" fill="#8a2a62" opacity="0.10"/>
<rect x="80.4" y="692.6" width="1.3" height="1.3" fill="#8a2a62" opacity="0.10"/>
<rect x="90.6" y="675.3" width="1.3" height="1.3" fill="#8a2a62" opacity="0.10"/>
<rect x="88.4" y="647.3" width="1.3" height="1.3" fill="#8a2a62" opacity="0.53"/>
<rect x="91.9" y="665.5" width="1.3" height="1.3" fill="#8a2a62" opacity="0.11"/>
<rect x="90.5" y="646.5" width="1.3" height="1.3" fill="#8a2a62" opacity="0.57"/>
<rect x="88.3" y="695.0" width="1.3" height="1.3" fill="#8a2a62" opacity="0.10"/>
<rect x="73.5" y="657.7" width="1.3" height="1.3" fill="#8a2a62" opacity="0.22"/>
<rect x="79.8" y="655.3" width="1.3" height="1.3" fill="#8a2a62" opacity="0.27"/>
<rect x="88.5" y="670.6" width="1.3" height="1.3" fill="#8a2a62" opacity="0.10"/>
<rect x="75.3" y="659.5" width="1.3" height="1.3" fill="#8a2a62" opacity="0.18"/>
<rect x="87.2" y="664.9" width="1.3" height="1.3" fill="#8a2a62" opacity="0.12"/>
<rect x="94.1" y="644.7" width="1.3" height="1.3" fill="#8a2a62" opacity="0.64"/>
<rect x="73.8" y="665.6" width="1.3" height="1.3" fill="#8a2a62" opacity="0.11"/>
<rect x="74.2" y="691.6" width="1.3" height="1.3" fill="#8a2a62" opacity="0.10"/>
<rect x="89.6" y="648.4" width="1.3" height="1.3" fill="#8a2a62" opacity="0.49"/>
<rect x="85.2" y="661.5" width="1.3" height="1.3" fill="#8a2a62" opacity="0.15"/>
<rect x="82.6" y="665.0" width="1.3" height="1.3" fill="#8a2a62" opacity="0.11"/>
<rect x="75.2" y="647.8" width="1.3" height="1.3" fill="#8a2a62" opacity="0.51"/>
<rect x="89.5" y="643.6" width="1.3" height="1.3" fill="#8a2a62" opacity="0.69"/>
<rect x="84.9" y="673.7" width="1.3" height="1.3" fill="#8a2a62" opacity="0.10"/>
<rect x="80.0" y="672.4" width="1.3" height="1.3" fill="#8a2a62" opacity="0.10"/>
<rect x="80.7" y="646.5" width="1.3" height="1.3" fill="#8a2a62" opacity="0.57"/>
<rect x="71.6" y="685.1" width="1.3" height="1.3" fill="#8a2a62" opacity="0.10"/>
<rect x="77.1" y="655.9" width="1.3" height="1.3" fill="#8a2a62" opacity="0.26"/>
<rect x="79.9" y="675.0" width="1.3" height="1.3" fill="#8a2a62" opacity="0.10"/>
<rect x="81.2" y="648.4" width="1.3" height="1.3" fill="#8a2a62" opacity="0.49"/>
<rect x="91.0" y="658.0" width="1.3" height="1.3" fill="#8a2a62" opacity="0.21"/>
<rect x="92.9" y="649.1" width="1.3" height="1.3" fill="#8a2a62" opacity="0.46"/>
<rect x="77.7" y="643.9" width="1.3" height="1.3" fill="#8a2a62" opacity="0.68"/>
<rect x="73.5" y="643.8" width="1.3" height="1.3" fill="#8a2a62" opacity="0.68"/>
<rect x="89.8" y="675.9" width="1.3" height="1.3" fill="#8a2a62" opacity="0.10"/>
<rect x="75.5" y="644.8" width="1.3" height="1.3" fill="#8a2a62" opacity="0.64"/>
<rect x="90.2" y="651.6" width="1.3" height="1.3" fill="#8a2a62" opacity="0.38"/>
<rect x="90.3" y="679.4" width="1.3" height="1.3" fill="#8a2a62" opacity="0.10"/>
<rect x="74.4" y="661.2" width="1.3" height="1.3" fill="#8a2a62" opacity="0.16"/>
<rect x="75.6" y="650.9" width="1.3" height="1.3" fill="#8a2a62" opacity="0.40"/>
<rect x="85.6" y="657.2" width="1.3" height="1.3" fill="#8a2a62" opacity="0.23"/>
<rect x="77.1" y="645.1" width="1.3" height="1.3" fill="#8a2a62" opacity="0.62"/>
<rect x="71.3" y="676.1" width="1.3" height="1.3" fill="#8a2a62" opacity="0.10"/>
<rect x="94.1" y="678.1" width="1.3" height="1.3" fill="#8a2a62" opacity="0.10"/>
<rect x="80.7" y="693.6" width="1.3" height="1.3" fill="#8a2a62" opacity="0.10"/>
<rect x="86.0" y="658.7" width="1.3" height="1.3" fill="#8a2a62" opacity="0.20"/>
<rect x="96.4" y="664.0" width="1.3" height="1.3" fill="#8a2a62" opacity="0.12"/>
<rect x="78.4" y="668.0" width="1.3" height="1.3" fill="#8a2a62" opacity="0.10"/>
<rect x="83.3" y="683.8" width="1.3" height="1.3" fill="#8a2a62" opacity="0.10"/>
<rect x="89.8" y="661.8" width="1.3" height="1.3" fill="#8a2a62" opacity="0.15"/>
<rect x="90.9" y="643.4" width="1.3" height="1.3" fill="#8a2a62" opacity="0.70"/>
<rect x="83.5" y="666.1" width="1.3" height="1.3" fill="#8a2a62" opacity="0.11"/>
<rect x="82.7" y="657.0" width="1.3" height="1.3" fill="#8a2a62" opacity="0.23"/>
<rect x="84.5" y="645.0" width="1.3" height="1.3" fill="#8a2a62" opacity="0.63"/>
<rect x="83.8" y="643.5" width="1.3" height="1.3" fill="#8a2a62" opacity="0.70"/>
<rect x="82.3" y="664.9" width="1.3" height="1.3" fill="#8a2a62" opacity="0.12"/>
<rect x="95.9" y="659.5" width="1.3" height="1.3" fill="#8a2a62" opacity="0.18"/>
<rect x="74.1" y="687.2" width="1.3" height="1.3" fill="#8a2a62" opacity="0.10"/>
<rect x="87.0" y="677.1" width="1.3" height="1.3" fill="#8a2a62" opacity="0.10"/>
<rect x="80.0" y="643.5" width="1.3" height="1.3" fill="#8a2a62" opacity="0.70"/>
<rect x="72.6" y="645.7" width="1.3" height="1.3" fill="#8a2a62" opacity="0.60"/>
<rect x="95.1" y="657.9" width="1.3" height="1.3" fill="#8a2a62" opacity="0.21"/>
<rect x="93.6" y="648.1" width="1.3" height="1.3" fill="#8a2a62" opacity="0.50"/>
<rect x="74.1" y="668.7" width="1.3" height="1.3" fill="#8a2a62" opacity="0.10"/>
<rect x="86.4" y="683.6" width="1.3" height="1.3" fill="#8a2a62" opacity="0.10"/>
<rect x="89.5" y="691.0" width="1.3" height="1.3" fill="#8a2a62" opacity="0.10"/>
<rect x="79.6" y="672.4" width="1.3" height="1.3" fill="#8a2a62" opacity="0.10"/>
<rect x="95.2" y="678.5" width="1.3" height="1.3" fill="#8a2a62" opacity="0.10"/>
<rect x="82.1" y="683.9" width="1.3" height="1.3" fill="#8a2a62" opacity="0.10"/>
<rect x="83.4" y="673.9" width="1.3" height="1.3" fill="#8a2a62" opacity="0.10"/>
<rect x="71.6" y="643.9" width="1.3" height="1.3" fill="#8a2a62" opacity="0.68"/>
<rect x="75.8" y="643.6" width="1.3" height="1.3" fill="#8a2a62" opacity="0.69"/>
<rect x="83.7" y="644.4" width="1.3" height="1.3" fill="#8a2a62" opacity="0.65"/>
<rect x="84.7" y="669.0" width="1.3" height="1.3" fill="#8a2a62" opacity="0.10"/>
<rect x="87.7" y="651.9" width="1.3" height="1.3" fill="#8a2a62" opacity="0.37"/>
<rect x="82.8" y="647.6" width="1.3" height="1.3" fill="#8a2a62" opacity="0.52"/>
<rect x="81.1" y="673.9" width="1.3" height="1.3" fill="#8a2a62" opacity="0.10"/>
<rect x="94.3" y="644.7" width="1.3" height="1.3" fill="#8a2a62" opacity="0.64"/>
<rect x="80.2" y="670.7" width="1.3" height="1.3" fill="#8a2a62" opacity="0.10"/>
<rect x="84.5" y="649.8" width="1.3" height="1.3" fill="#8a2a62" opacity="0.44"/>
<rect x="76.4" y="661.5" width="1.3" height="1.3" fill="#8a2a62" opacity="0.15"/>
<rect x="76.0" y="643.4" width="1.3" height="1.3" fill="#8a2a62" opacity="0.70"/>
<rect x="74.3" y="676.3" width="1.3" height="1.3" fill="#8a2a62" opacity="0.10"/>
<rect x="75.7" y="653.6" width="1.3" height="1.3" fill="#8a2a62" opacity="0.32"/>
<rect x="75.0" y="645.2" width="1.3" height="1.3" fill="#8a2a62" opacity="0.62"/>
<rect x="75.0" y="651.1" width="1.3" height="1.3" fill="#8a2a62" opacity="0.39"/>
<rect x="73.4" y="643.5" width="1.3" height="1.3" fill="#8a2a62" opacity="0.70"/>
<rect x="83.5" y="644.6" width="1.3" height="1.3" fill="#8a2a62" opacity="0.65"/>
<rect x="71.1" y="643.6" width="1.3" height="1.3" fill="#8a2a62" opacity="0.69"/>
<rect x="81.3" y="653.0" width="1.3" height="1.3" fill="#8a2a62" opacity="0.33"/>
<rect x="71.9" y="669.4" width="1.3" height="1.3" fill="#8a2a62" opacity="0.10"/>
<rect x="81.0" y="651.1" width="1.3" height="1.3" fill="#8a2a62" opacity="0.40"/>
<rect x="96.1" y="643.5" width="1.3" height="1.3" fill="#8a2a62" opacity="0.70"/>
<rect x="73.0" y="645.4" width="1.3" height="1.3" fill="#8a2a62" opacity="0.61"/>
<rect x="74.9" y="654.3" width="1.3" height="1.3" fill="#8a2a62" opacity="0.30"/>
<rect x="79.7" y="663.2" width="1.3" height="1.3" fill="#8a2a62" opacity="0.13"/>
<rect x="71.9" y="644.0" width="1.3" height="1.3" fill="#8a2a62" opacity="0.67"/>
<rect x="77.8" y="671.4" width="1.3" height="1.3" fill="#8a2a62" opacity="0.10"/>
<rect x="82.8" y="676.7" width="1.3" height="1.3" fill="#8a2a62" opacity="0.10"/>
<rect x="78.5" y="691.7" width="1.3" height="1.3" fill="#8a2a62" opacity="0.10"/>
<rect x="77.5" y="646.1" width="1.3" height="1.3" fill="#8a2a62" opacity="0.58"/>
<rect x="87.2" y="679.2" width="1.3" height="1.3" fill="#8a2a62" opacity="0.10"/>
<rect x="73.0" y="648.8" width="1.3" height="1.3" fill="#8a2a62" opacity="0.47"/>
<rect x="96.2" y="667.7" width="1.3" height="1.3" fill="#8a2a62" opacity="0.10"/>
<rect x="70.6" y="661.2" width="1.3" height="1.3" fill="#8a2a62" opacity="0.16"/>
<rect x="72.9" y="643.5" width="1.3" height="1.3" fill="#8a2a62" opacity="0.70"/>
<rect x="71.5" y="644.6" width="1.3" height="1.3" fill="#8a2a62" opacity="0.65"/>
<rect x="87.8" y="643.5" width="1.3" height="1.3" fill="#8a2a62" opacity="0.70"/>
<rect x="75.8" y="688.1" width="1.3" height="1.3" fill="#8a2a62" opacity="0.10"/>
<rect x="83.1" y="696.5" width="1.3" height="1.3" fill="#8a2a62" opacity="0.10"/>
<rect x="94.8" y="678.2" width="1.3" height="1.3" fill="#8a2a62" opacity="0.10"/>
<rect x="71.4" y="692.5" width="1.3" height="1.3" fill="#8a2a62" opacity="0.10"/>
<rect x="86.6" y="647.6" width="1.3" height="1.3" fill="#8a2a62" opacity="0.52"/>
<rect x="72.8" y="693.3" width="1.3" height="1.3" fill="#8a2a62" opacity="0.10"/>
<rect x="93.0" y="647.2" width="1.3" height="1.3" fill="#8a2a62" opacity="0.54"/>
<rect x="80.8" y="643.9" width="1.3" height="1.3" fill="#8a2a62" opacity="0.68"/>
<rect x="88.5" y="648.5" width="1.3" height="1.3" fill="#8a2a62" opacity="0.49"/>
<rect x="75.1" y="691.2" width="1.3" height="1.3" fill="#8a2a62" opacity="0.10"/>
<rect x="89.9" y="672.4" width="1.3" height="1.3" fill="#8a2a62" opacity="0.10"/>
<rect x="85.2" y="681.3" width="1.3" height="1.3" fill="#8a2a62" opacity="0.10"/>
<rect x="80.1" y="690.6" width="1.3" height="1.3" fill="#8a2a62" opacity="0.10"/>
<rect x="76.6" y="651.5" width="1.3" height="1.3" fill="#8a2a62" opacity="0.38"/>
<rect x="83.2" y="675.9" width="1.3" height="1.3" fill="#8a2a62" opacity="0.10"/>
<rect x="75.0" y="646.6" width="1.3" height="1.3" fill="#8a2a62" opacity="0.56"/>
<rect x="86.6" y="670.8" width="1.3" height="1.3" fill="#8a2a62" opacity="0.10"/>
<rect x="80.8" y="670.0" width="1.3" height="1.3" fill="#8a2a62" opacity="0.10"/>
<rect x="74.6" y="655.0" width="1.3" height="1.3" fill="#8a2a62" opacity="0.28"/>
<rect x="71.1" y="670.0" width="1.3" height="1.3" fill="#8a2a62" opacity="0.10"/>
<rect x="90.6" y="654.0" width="1.3" height="1.3" fill="#8a2a62" opacity="0.31"/>
<rect x="73.1" y="667.3" width="1.3" height="1.3" fill="#8a2a62" opacity="0.10"/>
<rect x="92.9" y="645.8" width="1.3" height="1.3" fill="#8a2a62" opacity="0.59"/>
<rect x="93.8" y="664.7" width="1.3" height="1.3" fill="#8a2a62" opacity="0.12"/>
<rect x="82.4" y="685.1" width="1.3" height="1.3" fill="#8a2a62" opacity="0.10"/>
<rect x="89.9" y="687.7" width="1.3" height="1.3" fill="#8a2a62" opacity="0.10"/>
<rect x="80.3" y="648.5" width="1.3" height="1.3" fill="#8a2a62" opacity="0.49"/>
<rect x="81.1" y="643.6" width="1.3" height="1.3" fill="#8a2a62" opacity="0.69"/>
<rect x="73.3" y="694.3" width="1.3" height="1.3" fill="#8a2a62" opacity="0.10"/>
<rect x="73.4" y="659.7" width="1.3" height="1.3" fill="#8a2a62" opacity="0.18"/>
<rect x="87.7" y="643.7" width="1.3" height="1.3" fill="#8a2a62" opacity="0.69"/>
<rect x="71.8" y="645.9" width="1.3" height="1.3" fill="#8a2a62" opacity="0.59"/>
<rect x="87.6" y="644.3" width="1.3" height="1.3" fill="#8a2a62" opacity="0.66"/>
<rect x="70.8" y="660.8" width="1.3" height="1.3" fill="#8a2a62" opacity="0.16"/>
<rect x="96.1" y="645.7" width="1.3" height="1.3" fill="#8a2a62" opacity="0.60"/>
<rect x="85.4" y="645.5" width="1.3" height="1.3" fill="#8a2a62" opacity="0.61"/>
<rect x="91.2" y="651.8" width="1.3" height="1.3" fill="#8a2a62" opacity="0.37"/>
<rect x="91.4" y="662.0" width="1.3" height="1.3" fill="#8a2a62" opacity="0.14"/>
<rect x="75.5" y="657.6" width="1.3" height="1.3" fill="#8a2a62" opacity="0.22"/>
<rect x="72.6" y="644.7" width="1.3" height="1.3" fill="#8a2a62" opacity="0.64"/>
<rect x="73.5" y="680.3" width="1.3" height="1.3" fill="#8a2a62" opacity="0.10"/>
<rect x="96.1" y="643.5" width="1.3" height="1.3" fill="#8a2a62" opacity="0.70"/>
<rect x="94.2" y="645.1" width="1.3" height="1.3" fill="#8a2a62" opacity="0.63"/>
<rect x="82.8" y="643.7" width="1.3" height="1.3" fill="#8a2a62" opacity="0.69"/>
<rect x="92.5" y="645.5" width="1.3" height="1.3" fill="#8a2a62" opacity="0.61"/>
<rect x="87.5" y="662.8" width="1.3" height="1.3" fill="#8a2a62" opacity="0.14"/>
<rect x="93.6" y="674.3" width="1.3" height="1.3" fill="#8a2a62" opacity="0.10"/>
<rect x="86.5" y="648.9" width="1.3" height="1.3" fill="#8a2a62" opacity="0.47"/>
<rect x="73.4" y="652.9" width="1.3" height="1.3" fill="#8a2a62" opacity="0.34"/>
<rect x="86.3" y="681.3" width="1.3" height="1.3" fill="#8a2a62" opacity="0.10"/>
<rect x="76.0" y="679.3" width="1.3" height="1.3" fill="#8a2a62" opacity="0.10"/>
<rect x="82.8" y="657.9" width="1.3" height="1.3" fill="#8a2a62" opacity="0.21"/>
<rect x="72.5" y="671.4" width="1.3" height="1.3" fill="#8a2a62" opacity="0.10"/>
<rect x="83.3" y="648.9" width="1.3" height="1.3" fill="#8a2a62" opacity="0.47"/>
<rect x="85.1" y="643.6" width="1.3" height="1.3" fill="#8a2a62" opacity="0.69"/>
<rect x="81.7" y="672.0" width="1.3" height="1.3" fill="#8a2a62" opacity="0.10"/>
<rect x="86.6" y="665.1" width="1.3" height="1.3" fill="#8a2a62" opacity="0.11"/>
<rect x="79.8" y="645.3" width="1.3" height="1.3" fill="#8a2a62" opacity="0.61"/>
<rect x="79.4" y="699.1" width="1.3" height="1.3" fill="#8a2a62" opacity="0.10"/>
<rect x="72.7" y="652.3" width="1.3" height="1.3" fill="#8a2a62" opacity="0.36"/>
<rect x="74.9" y="645.4" width="1.3" height="1.3" fill="#8a2a62" opacity="0.61"/>
<rect x="89.7" y="691.5" width="1.3" height="1.3" fill="#8a2a62" opacity="0.10"/>
<rect x="96.6" y="685.3" width="1.3" height="1.3" fill="#8a2a62" opacity="0.10"/>
<rect x="95.2" y="662.5" width="1.3" height="1.3" fill="#8a2a62" opacity="0.14"/>
<rect x="81.6" y="657.7" width="1.3" height="1.3" fill="#8a2a62" opacity="0.22"/>
<rect x="94.4" y="693.4" width="1.3" height="1.3" fill="#8a2a62" opacity="0.10"/>
<rect x="83.3" y="693.6" width="1.3" height="1.3" fill="#8a2a62" opacity="0.10"/>
<rect x="81.3" y="675.4" width="1.3" height="1.3" fill="#8a2a62" opacity="0.10"/>
<rect x="94.9" y="699.3" width="1.3" height="1.3" fill="#8a2a62" opacity="0.10"/>
<rect x="95.3" y="647.2" width="1.3" height="1.3" fill="#8a2a62" opacity="0.54"/>
<rect x="73.0" y="644.8" width="1.3" height="1.3" fill="#8a2a62" opacity="0.64"/>
<rect x="78.3" y="670.9" width="1.3" height="1.3" fill="#8a2a62" opacity="0.10"/>
<rect x="87.4" y="656.7" width="1.3" height="1.3" fill="#8a2a62" opacity="0.24"/>
<rect x="90.2" y="643.5" width="1.3" height="1.3" fill="#8a2a62" opacity="0.70"/>
<rect x="82.0" y="646.7" width="1.3" height="1.3" fill="#8a2a62" opacity="0.55"/>
<rect x="90.2" y="648.8" width="1.3" height="1.3" fill="#8a2a62" opacity="0.47"/>
<rect x="78.1" y="673.0" width="1.3" height="1.3" fill="#8a2a62" opacity="0.10"/>
<rect x="78.4" y="643.8" width="1.3" height="1.3" fill="#8a2a62" opacity="0.68"/>
<rect x="72.6" y="651.4" width="1.3" height="1.3" fill="#8a2a62" opacity="0.38"/>
<rect x="90.7" y="644.3" width="1.3" height="1.3" fill="#8a2a62" opacity="0.66"/>
<rect x="96.4" y="669.1" width="1.3" height="1.3" fill="#8a2a62" opacity="0.10"/>
<rect x="93.7" y="697.2" width="1.3" height="1.3" fill="#8a2a62" opacity="0.10"/>
<rect x="74.8" y="649.8" width="1.3" height="1.3" fill="#8a2a62" opacity="0.44"/>
<rect x="82.8" y="647.8" width="1.3" height="1.3" fill="#8a2a62" opacity="0.51"/>
<rect x="84.9" y="657.1" width="1.3" height="1.3" fill="#8a2a62" opacity="0.23"/>
<rect x="93.1" y="649.4" width="1.3" height="1.3" fill="#8a2a62" opacity="0.45"/>
<rect x="82.8" y="647.0" width="1.3" height="1.3" fill="#8a2a62" opacity="0.54"/>
<rect x="91.9" y="686.6" width="1.3" height="1.3" fill="#8a2a62" opacity="0.10"/>
<rect x="76.9" y="647.3" width="1.3" height="1.3" fill="#8a2a62" opacity="0.53"/>
<rect x="70.8" y="678.5" width="1.3" height="1.3" fill="#8a2a62" opacity="0.10"/>
<rect x="84.6" y="644.1" width="1.3" height="1.3" fill="#8a2a62" opacity="0.67"/>
<rect x="74.9" y="657.7" width="1.3" height="1.3" fill="#8a2a62" opacity="0.22"/>
<rect x="75.9" y="643.5" width="1.3" height="1.3" fill="#8a2a62" opacity="0.70"/>
<rect x="82.8" y="675.1" width="1.3" height="1.3" fill="#8a2a62" opacity="0.10"/>
<rect x="91.3" y="697.1" width="1.3" height="1.3" fill="#8a2a62" opacity="0.10"/>
<rect x="71.4" y="697.1" width="1.3" height="1.3" fill="#8a2a62" opacity="0.10"/>
<rect x="70.8" y="644.8" width="1.3" height="1.3" fill="#8a2a62" opacity="0.64"/>
<rect x="79.5" y="652.3" width="1.3" height="1.3" fill="#8a2a62" opacity="0.36"/>
<rect x="85.0" y="643.5" width="1.3" height="1.3" fill="#8a2a62" opacity="0.70"/>
<rect x="78.8" y="643.7" width="1.3" height="1.3" fill="#8a2a62" opacity="0.69"/>
<rect x="91.8" y="646.0" width="1.3" height="1.3" fill="#8a2a62" opacity="0.58"/>
<rect x="77.4" y="651.7" width="1.3" height="1.3" fill="#8a2a62" opacity="0.37"/>
<rect x="81.9" y="643.5" width="1.3" height="1.3" fill="#8a2a62" opacity="0.70"/>
<rect x="88.4" y="663.6" width="1.3" height="1.3" fill="#8a2a62" opacity="0.13"/>
<rect x="91.9" y="689.4" width="1.3" height="1.3" fill="#8a2a62" opacity="0.10"/>
<rect x="74.1" y="646.0" width="1.3" height="1.3" fill="#8a2a62" opacity="0.58"/>
<rect x="91.4" y="674.0" width="1.3" height="1.3" fill="#8a2a62" opacity="0.10"/>
<rect x="92.5" y="656.2" width="1.3" height="1.3" fill="#8a2a62" opacity="0.25"/>
<rect x="77.9" y="658.6" width="1.3" height="1.3" fill="#8a2a62" opacity="0.20"/>
<rect x="71.0" y="644.6" width="1.3" height="1.3" fill="#8a2a62" opacity="0.65"/>
<rect x="94.3" y="664.7" width="1.3" height="1.3" fill="#8a2a62" opacity="0.12"/>
<rect x="82.9" y="688.7" width="1.3" height="1.3" fill="#8a2a62" opacity="0.10"/>
<rect x="95.1" y="666.4" width="1.3" height="1.3" fill="#8a2a62" opacity="0.11"/>
<rect x="86.5" y="679.2" width="1.3" height="1.3" fill="#8a2a62" opacity="0.10"/>
<rect x="84.2" y="651.5" width="1.3" height="1.3" fill="#8a2a62" opacity="0.38"/>
<rect x="75.3" y="644.6" width="1.3" height="1.3" fill="#8a2a62" opacity="0.65"/>
<rect x="96.8" y="667.8" width="1.3" height="1.3" fill="#8a2a62" opacity="0.10"/>
<rect x="81.3" y="658.4" width="1.3" height="1.3" fill="#8a2a62" opacity="0.20"/>
<rect x="82.6" y="649.1" width="1.3" height="1.3" fill="#8a2a62" opacity="0.46"/>
<rect x="82.5" y="678.1" width="1.3" height="1.3" fill="#8a2a62" opacity="0.10"/>
<rect x="74.6" y="694.7" width="1.3" height="1.3" fill="#8a2a62" opacity="0.10"/>
<rect x="84.3" y="647.9" width="1.3" height="1.3" fill="#8a2a62" opacity="0.51"/>
<rect x="93.1" y="651.4" width="1.3" height="1.3" fill="#8a2a62" opacity="0.38"/>
<rect x="95.2" y="680.5" width="1.3" height="1.3" fill="#8a2a62" opacity="0.10"/>
<rect x="71.3" y="662.6" width="1.3" height="1.3" fill="#8a2a62" opacity="0.14"/>
<rect x="85.1" y="660.0" width="1.3" height="1.3" fill="#8a2a62" opacity="0.17"/>
<rect x="77.9" y="655.0" width="1.3" height="1.3" fill="#8a2a62" opacity="0.28"/>
<rect x="94.7" y="669.9" width="1.3" height="1.3" fill="#8a2a62" opacity="0.10"/>
<rect x="88.2" y="643.8" width="1.3" height="1.3" fill="#8a2a62" opacity="0.68"/>
<rect x="84.1" y="649.8" width="1.3" height="1.3" fill="#8a2a62" opacity="0.44"/>
<rect x="95.9" y="687.6" width="1.3" height="1.3" fill="#8a2a62" opacity="0.10"/>
<rect x="75.7" y="664.8" width="1.3" height="1.3" fill="#8a2a62" opacity="0.12"/>
<rect x="75.3" y="690.3" width="1.3" height="1.3" fill="#8a2a62" opacity="0.10"/>
<rect x="92.4" y="650.3" width="1.3" height="1.3" fill="#8a2a62" opacity="0.42"/>
<rect x="77.7" y="647.9" width="1.3" height="1.3" fill="#8a2a62" opacity="0.51"/>
<rect x="95.5" y="693.6" width="1.3" height="1.3" fill="#8a2a62" opacity="0.10"/>
<rect x="80.9" y="647.9" width="1.3" height="1.3" fill="#8a2a62" opacity="0.51"/>
<rect x="74.0" y="646.9" width="1.3" height="1.3" fill="#8a2a62" opacity="0.55"/>
<rect x="96.5" y="646.1" width="1.3" height="1.3" fill="#8a2a62" opacity="0.58"/>
<rect x="76.6" y="643.7" width="1.3" height="1.3" fill="#8a2a62" opacity="0.69"/>
<rect x="72.6" y="645.1" width="1.3" height="1.3" fill="#8a2a62" opacity="0.63"/>
<rect x="90.2" y="657.1" width="1.3" height="1.3" fill="#8a2a62" opacity="0.23"/>
<rect x="87.2" y="681.6" width="1.3" height="1.3" fill="#8a2a62" opacity="0.10"/>
<rect x="70.6" y="679.6" width="1.3" height="1.3" fill="#8a2a62" opacity="0.10"/>
<rect x="96.0" y="646.9" width="1.3" height="1.3" fill="#8a2a62" opacity="0.55"/>
<rect x="77.6" y="643.6" width="1.3" height="1.3" fill="#8a2a62" opacity="0.69"/>
<rect x="77.6" y="654.8" width="1.3" height="1.3" fill="#8a2a62" opacity="0.29"/>
<rect x="71.7" y="658.3" width="1.3" height="1.3" fill="#8a2a62" opacity="0.21"/>
<rect x="95.9" y="645.8" width="1.3" height="1.3" fill="#8a2a62" opacity="0.59"/>
<rect x="94.5" y="644.2" width="1.3" height="1.3" fill="#8a2a62" opacity="0.66"/>
<rect x="96.8" y="644.7" width="1.3" height="1.3" fill="#8a2a62" opacity="0.64"/>
<rect x="87.6" y="667.1" width="1.3" height="1.3" fill="#8a2a62" opacity="0.10"/>
<rect x="71.9" y="644.2" width="1.3" height="1.3" fill="#8a2a62" opacity="0.66"/>
<rect x="75.2" y="674.1" width="1.3" height="1.3" fill="#8a2a62" opacity="0.10"/>
<rect x="92.3" y="644.9" width="1.3" height="1.3" fill="#8a2a62" opacity="0.63"/>
<rect x="71.8" y="685.3" width="1.3" height="1.3" fill="#8a2a62" opacity="0.10"/>
<rect x="84.7" y="694.9" width="1.3" height="1.3" fill="#8a2a62" opacity="0.10"/>
<rect x="73.3" y="650.2" width="1.3" height="1.3" fill="#8a2a62" opacity="0.42"/>
<rect x="96.7" y="650.5" width="1.3" height="1.3" fill="#8a2a62" opacity="0.41"/>
<rect x="74.0" y="646.9" width="1.3" height="1.3" fill="#8a2a62" opacity="0.55"/>
<rect x="73.9" y="644.2" width="1.3" height="1.3" fill="#8a2a62" opacity="0.66"/>
<rect x="94.7" y="649.1" width="1.3" height="1.3" fill="#8a2a62" opacity="0.46"/>
<rect x="75.6" y="643.6" width="1.3" height="1.3" fill="#8a2a62" opacity="0.69"/>
<rect x="96.9" y="692.4" width="1.3" height="1.3" fill="#8a2a62" opacity="0.10"/>
<rect x="77.0" y="697.2" width="1.3" height="1.3" fill="#8a2a62" opacity="0.10"/>
<rect x="95.7" y="649.2" width="1.3" height="1.3" fill="#8a2a62" opacity="0.46"/>
<rect x="89.1" y="654.9" width="1.3" height="1.3" fill="#8a2a62" opacity="0.28"/>
<rect x="71.1" y="647.8" width="1.3" height="1.3" fill="#8a2a62" opacity="0.51"/>
<rect x="90.3" y="648.9" width="1.3" height="1.3" fill="#8a2a62" opacity="0.47"/>
<rect x="85.6" y="676.2" width="1.3" height="1.3" fill="#8a2a62" opacity="0.10"/>
<rect x="84.8" y="653.8" width="1.3" height="1.3" fill="#8a2a62" opacity="0.31"/>
<rect x="84.7" y="652.8" width="1.3" height="1.3" fill="#8a2a62" opacity="0.34"/>
<rect x="75.8" y="681.0" width="1.3" height="1.3" fill="#8a2a62" opacity="0.10"/>
<rect x="95.2" y="661.3" width="1.3" height="1.3" fill="#8a2a62" opacity="0.15"/>
<rect x="75.3" y="682.6" width="1.3" height="1.3" fill="#8a2a62" opacity="0.10"/>
<rect x="92.8" y="695.2" width="1.3" height="1.3" fill="#8a2a62" opacity="0.10"/>
<rect x="77.5" y="644.5" width="1.3" height="1.3" fill="#8a2a62" opacity="0.65"/>
<rect x="71.9" y="645.1" width="1.3" height="1.3" fill="#8a2a62" opacity="0.62"/>
<rect x="81.3" y="697.0" width="1.3" height="1.3" fill="#8a2a62" opacity="0.10"/>
<rect x="73.5" y="685.1" width="1.3" height="1.3" fill="#8a2a62" opacity="0.10"/>
<rect x="93.5" y="643.4" width="1.3" height="1.3" fill="#8a2a62" opacity="0.70"/>
<rect x="96.8" y="677.3" width="1.3" height="1.3" fill="#8a2a62" opacity="0.10"/>
<rect x="84.4" y="667.9" width="1.3" height="1.3" fill="#8a2a62" opacity="0.10"/>
<rect x="73.0" y="674.7" width="1.3" height="1.3" fill="#8a2a62" opacity="0.10"/>
<rect x="82.2" y="658.0" width="1.3" height="1.3" fill="#8a2a62" opacity="0.21"/>
<rect x="86.4" y="644.3" width="1.3" height="1.3" fill="#8a2a62" opacity="0.66"/>
<rect x="83.9" y="648.1" width="1.3" height="1.3" fill="#8a2a62" opacity="0.50"/>
<rect x="78.9" y="649.9" width="1.3" height="1.3" fill="#8a2a62" opacity="0.44"/>
<rect x="86.4" y="649.3" width="1.3" height="1.3" fill="#8a2a62" opacity="0.46"/>
<rect x="95.3" y="697.3" width="1.3" height="1.3" fill="#8a2a62" opacity="0.10"/>
<rect x="92.6" y="684.0" width="1.3" height="1.3" fill="#8a2a62" opacity="0.10"/>
<rect x="96.4" y="647.0" width="1.3" height="1.3" fill="#8a2a62" opacity="0.54"/>
<rect x="73.8" y="646.6" width="1.3" height="1.3" fill="#8a2a62" opacity="0.56"/>
<rect x="89.9" y="655.7" width="1.3" height="1.3" fill="#8a2a62" opacity="0.26"/>
<rect x="87.6" y="648.7" width="1.3" height="1.3" fill="#8a2a62" opacity="0.48"/>
<rect x="96.1" y="646.9" width="1.3" height="1.3" fill="#8a2a62" opacity="0.55"/>
<rect x="83.2" y="653.3" width="1.3" height="1.3" fill="#8a2a62" opacity="0.33"/>
<rect x="93.7" y="657.4" width="1.3" height="1.3" fill="#8a2a62" opacity="0.22"/>
<rect x="84.5" y="698.0" width="1.3" height="1.3" fill="#8a2a62" opacity="0.10"/>
<rect x="86.9" y="652.7" width="1.3" height="1.3" fill="#8a2a62" opacity="0.34"/>
<rect x="81.8" y="643.6" width="1.3" height="1.3" fill="#8a2a62" opacity="0.69"/>
<rect x="91.1" y="682.5" width="1.3" height="1.3" fill="#8a2a62" opacity="0.10"/>
<rect x="93.1" y="643.6" width="1.3" height="1.3" fill="#8a2a62" opacity="0.69"/>
<rect x="96.5" y="650.3" width="1.3" height="1.3" fill="#8a2a62" opacity="0.42"/>
<rect x="76.2" y="649.6" width="1.3" height="1.3" fill="#8a2a62" opacity="0.44"/>
<rect x="93.9" y="658.4" width="1.3" height="1.3" fill="#8a2a62" opacity="0.20"/>
<rect x="93.5" y="652.3" width="1.3" height="1.3" fill="#8a2a62" opacity="0.36"/>
<rect x="80.1" y="670.0" width="1.3" height="1.3" fill="#8a2a62" opacity="0.10"/>
<rect x="83.9" y="647.4" width="1.3" height="1.3" fill="#8a2a62" opacity="0.53"/>
<rect x="80.4" y="650.9" width="1.3" height="1.3" fill="#8a2a62" opacity="0.40"/>
<rect x="93.7" y="665.4" width="1.3" height="1.3" fill="#8a2a62" opacity="0.11"/>
<rect x="74.4" y="660.7" width="1.3" height="1.3" fill="#8a2a62" opacity="0.16"/>
<rect x="80.3" y="645.4" width="1.3" height="1.3" fill="#8a2a62" opacity="0.61"/>
<rect x="74.2" y="662.7" width="1.3" height="1.3" fill="#8a2a62" opacity="0.14"/>
<rect x="79.0" y="643.7" width="1.3" height="1.3" fill="#8a2a62" opacity="0.69"/>
<rect x="71.3" y="646.9" width="1.3" height="1.3" fill="#8a2a62" opacity="0.55"/>
<rect x="94.9" y="657.9" width="1.3" height="1.3" fill="#8a2a62" opacity="0.21"/>
<rect x="90.0" y="657.6" width="1.3" height="1.3" fill="#8a2a62" opacity="0.22"/>
<rect x="92.7" y="680.6" width="1.3" height="1.3" fill="#8a2a62" opacity="0.10"/>
<rect x="82.2" y="689.5" width="1.3" height="1.3" fill="#8a2a62" opacity="0.10"/>
<rect x="73.7" y="667.7" width="1.3" height="1.3" fill="#8a2a62" opacity="0.10"/>
<rect x="80.5" y="685.9" width="1.3" height="1.3" fill="#8a2a62" opacity="0.10"/>
<rect x="94.1" y="654.4" width="1.3" height="1.3" fill="#8a2a62" opacity="0.30"/>
<rect x="75.5" y="647.0" width="1.3" height="1.3" fill="#8a2a62" opacity="0.54"/>
<rect x="86.4" y="680.1" width="1.3" height="1.3" fill="#8a2a62" opacity="0.10"/>
<rect x="71.2" y="643.7" width="1.3" height="1.3" fill="#8a2a62" opacity="0.69"/>
<rect x="70.7" y="649.1" width="1.3" height="1.3" fill="#8a2a62" opacity="0.46"/>
<rect x="75.4" y="681.0" width="1.3" height="1.3" fill="#8a2a62" opacity="0.10"/>
<rect x="80.8" y="646.7" width="1.3" height="1.3" fill="#8a2a62" opacity="0.56"/>
<rect x="82.0" y="656.3" width="1.3" height="1.3" fill="#8a2a62" opacity="0.25"/>
<rect x="88.0" y="663.7" width="1.3" height="1.3" fill="#8a2a62" opacity="0.13"/>
<rect x="73.1" y="652.5" width="1.3" height="1.3" fill="#8a2a62" opacity="0.35"/>
<rect x="88.8" y="697.1" width="1.3" height="1.3" fill="#8a2a62" opacity="0.10"/>
<rect x="82.2" y="643.7" width="1.3" height="1.3" fill="#8a2a62" opacity="0.69"/>
<rect x="96.8" y="673.6" width="1.3" height="1.3" fill="#8a2a62" opacity="0.10"/>
<rect x="70.8" y="643.6" width="1.3" height="1.3" fill="#8a2a62" opacity="0.69"/>
<rect x="81.7" y="654.6" width="1.3" height="1.3" fill="#8a2a62" opacity="0.29"/>
<rect x="92.4" y="687.4" width="1.3" height="1.3" fill="#8a2a62" opacity="0.10"/>
<rect x="81.6" y="648.4" width="1.3" height="1.3" fill="#8a2a62" opacity="0.49"/>
<rect x="93.9" y="660.6" width="1.3" height="1.3" fill="#8a2a62" opacity="0.16"/>
<rect x="80.9" y="645.1" width="1.3" height="1.3" fill="#8a2a62" opacity="0.62"/>
<rect x="87.5" y="643.7" width="1.3" height="1.3" fill="#8a2a62" opacity="0.69"/>
<rect x="95.3" y="643.5" width="1.3" height="1.3" fill="#8a2a62" opacity="0.70"/>
<rect x="85.7" y="657.0" width="1.3" height="1.3" fill="#8a2a62" opacity="0.23"/>
<rect x="76.7" y="643.7" width="1.3" height="1.3" fill="#8a2a62" opacity="0.69"/>
<rect x="93.2" y="654.1" width="1.3" height="1.3" fill="#8a2a62" opacity="0.30"/>
<rect x="78.0" y="657.9" width="1.3" height="1.3" fill="#8a2a62" opacity="0.21"/>
<rect x="88.0" y="697.5" width="1.3" height="1.3" fill="#8a2a62" opacity="0.10"/>
<rect x="75.9" y="657.3" width="1.3" height="1.3" fill="#8a2a62" opacity="0.23"/>
<rect x="94.3" y="647.4" width="1.3" height="1.3" fill="#8a2a62" opacity="0.53"/>
<rect x="84.6" y="644.1" width="1.3" height="1.3" fill="#8a2a62" opacity="0.67"/>
<rect x="79.9" y="663.1" width="1.3" height="1.3" fill="#8a2a62" opacity="0.13"/>
<rect x="94.6" y="675.0" width="1.3" height="1.3" fill="#8a2a62" opacity="0.10"/>
<rect x="90.1" y="683.5" width="1.3" height="1.3" fill="#8a2a62" opacity="0.10"/>
<rect x="72.1" y="645.1" width="1.3" height="1.3" fill="#8a2a62" opacity="0.62"/>
<rect x="78.8" y="652.3" width="1.3" height="1.3" fill="#8a2a62" opacity="0.35"/>
<rect x="93.6" y="645.0" width="1.3" height="1.3" fill="#8a2a62" opacity="0.63"/>
<rect x="92.3" y="645.4" width="1.3" height="1.3" fill="#8a2a62" opacity="0.61"/>
<rect x="73.7" y="692.2" width="1.3" height="1.3" fill="#8a2a62" opacity="0.10"/>
<rect x="81.0" y="689.5" width="1.3" height="1.3" fill="#8a2a62" opacity="0.10"/>
<rect x="75.4" y="645.3" width="1.3" height="1.3" fill="#8a2a62" opacity="0.62"/>
<rect x="83.7" y="643.5" width="1.3" height="1.3" fill="#8a2a62" opacity="0.70"/>
<rect x="93.1" y="650.3" width="1.3" height="1.3" fill="#8a2a62" opacity="0.42"/>
<rect x="72.0" y="681.0" width="1.3" height="1.3" fill="#8a2a62" opacity="0.10"/>
<rect x="80.8" y="651.0" width="1.3" height="1.3" fill="#8a2a62" opacity="0.40"/>
<rect x="77.1" y="644.7" width="1.3" height="1.3" fill="#8a2a62" opacity="0.64"/>
<rect x="88.9" y="646.4" width="1.3" height="1.3" fill="#8a2a62" opacity="0.57"/>
<rect x="73.4" y="648.7" width="1.3" height="1.3" fill="#8a2a62" opacity="0.48"/>
<rect x="82.2" y="645.5" width="1.3" height="1.3" fill="#8a2a62" opacity="0.61"/>
<rect x="77.0" y="659.4" width="1.3" height="1.3" fill="#8a2a62" opacity="0.18"/>
<rect x="76.2" y="669.1" width="1.3" height="1.3" fill="#8a2a62" opacity="0.10"/>
<rect x="86.6" y="666.8" width="1.3" height="1.3" fill="#8a2a62" opacity="0.10"/>
<rect x="90.4" y="644.7" width="1.3" height="1.3" fill="#8a2a62" opacity="0.64"/>
<rect x="84.8" y="650.7" width="1.3" height="1.3" fill="#8a2a62" opacity="0.41"/>
<rect x="87.1" y="661.6" width="1.3" height="1.3" fill="#8a2a62" opacity="0.15"/>
<rect x="72.0" y="652.8" width="1.3" height="1.3" fill="#8a2a62" opacity="0.34"/>
<rect x="93.3" y="676.6" width="1.3" height="1.3" fill="#8a2a62" opacity="0.10"/>
<rect x="85.8" y="655.2" width="1.3" height="1.3" fill="#8a2a62" opacity="0.28"/>
<rect x="94.3" y="646.6" width="1.3" height="1.3" fill="#8a2a62" opacity="0.56"/>
<rect x="76.4" y="667.9" width="1.3" height="1.3" fill="#8a2a62" opacity="0.10"/>
<rect x="96.6" y="679.5" width="1.3" height="1.3" fill="#8a2a62" opacity="0.10"/>
<rect x="96.9" y="648.9" width="1.3" height="1.3" fill="#8a2a62" opacity="0.47"/>
<rect x="75.2" y="654.8" width="1.3" height="1.3" fill="#8a2a62" opacity="0.29"/>
<rect x="79.5" y="670.5" width="1.3" height="1.3" fill="#8a2a62" opacity="0.10"/>
<rect x="86.0" y="671.8" width="1.3" height="1.3" fill="#8a2a62" opacity="0.10"/>
<rect x="84.5" y="643.9" width="1.3" height="1.3" fill="#8a2a62" opacity="0.68"/>
<rect x="83.2" y="682.8" width="1.3" height="1.3" fill="#8a2a62" opacity="0.10"/>
<rect x="93.4" y="657.9" width="1.3" height="1.3" fill="#8a2a62" opacity="0.21"/>
<rect x="83.6" y="653.0" width="1.3" height="1.3" fill="#8a2a62" opacity="0.34"/>
<rect x="92.3" y="660.6" width="1.3" height="1.3" fill="#8a2a62" opacity="0.17"/>
<rect x="73.0" y="645.1" width="1.3" height="1.3" fill="#8a2a62" opacity="0.62"/>
<rect x="85.1" y="674.3" width="1.3" height="1.3" fill="#8a2a62" opacity="0.10"/>
<rect x="94.1" y="647.5" width="1.3" height="1.3" fill="#8a2a62" opacity="0.52"/>
<rect x="84.8" y="686.4" width="1.3" height="1.3" fill="#8a2a62" opacity="0.10"/>
<rect x="92.7" y="698.2" width="1.3" height="1.3" fill="#8a2a62" opacity="0.10"/>
<rect x="78.2" y="673.1" width="1.3" height="1.3" fill="#8a2a62" opacity="0.10"/>
<rect x="88.5" y="643.4" width="1.3" height="1.3" fill="#8a2a62" opacity="0.70"/>
<rect x="79.8" y="672.0" width="1.3" height="1.3" fill="#8a2a62" opacity="0.10"/>
<rect x="85.5" y="654.6" width="1.3" height="1.3" fill="#8a2a62" opacity="0.29"/>
<rect x="89.0" y="646.1" width="1.3" height="1.3" fill="#8a2a62" opacity="0.58"/>
<rect x="80.7" y="659.3" width="1.3" height="1.3" fill="#8a2a62" opacity="0.19"/>
<rect x="85.2" y="643.9" width="1.3" height="1.3" fill="#8a2a62" opacity="0.68"/>
<rect x="89.7" y="648.0" width="1.3" height="1.3" fill="#8a2a62" opacity="0.50"/>
<rect x="81.0" y="644.6" width="1.3" height="1.3" fill="#8a2a62" opacity="0.65"/>
<rect x="81.3" y="645.0" width="1.3" height="1.3" fill="#8a2a62" opacity="0.63"/>
<rect x="73.3" y="660.2" width="1.3" height="1.3" fill="#8a2a62" opacity="0.17"/>
<rect x="83.3" y="643.5" width="1.3" height="1.3" fill="#8a2a62" opacity="0.70"/>
<rect x="83.9" y="645.1" width="1.3" height="1.3" fill="#8a2a62" opacity="0.62"/>
<rect x="73.2" y="644.5" width="1.3" height="1.3" fill="#8a2a62" opacity="0.65"/>
<rect x="95.0" y="657.8" width="1.3" height="1.3" fill="#8a2a62" opacity="0.22"/>
<rect x="84.2" y="684.7" width="1.3" height="1.3" fill="#8a2a62" opacity="0.10"/>
<rect x="72.3" y="650.8" width="1.3" height="1.3" fill="#8a2a62" opacity="0.40"/>
<rect x="78.8" y="646.8" width="1.3" height="1.3" fill="#8a2a62" opacity="0.55"/>
<rect x="73.6" y="692.7" width="1.3" height="1.3" fill="#8a2a62" opacity="0.10"/>
<rect x="83.1" y="693.4" width="1.3" height="1.3" fill="#8a2a62" opacity="0.10"/>
<rect x="77.5" y="652.4" width="1.3" height="1.3" fill="#8a2a62" opacity="0.35"/>
<rect x="75.4" y="695.1" width="1.3" height="1.3" fill="#8a2a62" opacity="0.10"/>
<rect x="84.0" y="659.8" width="1.3" height="1.3" fill="#8a2a62" opacity="0.18"/>
<rect x="76.4" y="645.1" width="1.3" height="1.3" fill="#8a2a62" opacity="0.63"/>
<rect x="91.5" y="697.9" width="1.3" height="1.3" fill="#8a2a62" opacity="0.10"/>
<rect x="94.4" y="671.9" width="1.3" height="1.3" fill="#8a2a62" opacity="0.10"/>
<rect x="89.1" y="643.8" width="1.3" height="1.3" fill="#8a2a62" opacity="0.68"/>
<rect x="76.5" y="673.3" width="1.3" height="1.3" fill="#8a2a62" opacity="0.10"/>
<rect x="96.3" y="653.5" width="1.3" height="1.3" fill="#8a2a62" opacity="0.32"/>
<rect x="90.7" y="648.2" width="1.3" height="1.3" fill="#8a2a62" opacity="0.50"/>
<rect x="88.2" y="644.5" width="1.3" height="1.3" fill="#8a2a62" opacity="0.65"/>
<rect x="84.0" y="646.6" width="1.3" height="1.3" fill="#8a2a62" opacity="0.56"/>
<rect x="93.6" y="649.8" width="1.3" height="1.3" fill="#8a2a62" opacity="0.44"/>
<rect x="83.9" y="672.8" width="1.3" height="1.3" fill="#8a2a62" opacity="0.10"/>
<rect x="81.8" y="668.1" width="1.3" height="1.3" fill="#8a2a62" opacity="0.10"/>
<rect x="77.3" y="678.3" width="1.3" height="1.3" fill="#8a2a62" opacity="0.10"/>
<rect x="86.0" y="658.2" width="1.3" height="1.3" fill="#8a2a62" opacity="0.21"/>
<rect x="71.7" y="650.4" width="1.3" height="1.3" fill="#8a2a62" opacity="0.42"/>
<rect x="87.5" y="644.6" width="1.3" height="1.3" fill="#8a2a62" opacity="0.65"/>
<rect x="90.6" y="645.3" width="1.3" height="1.3" fill="#8a2a62" opacity="0.62"/>
<rect x="95.8" y="655.9" width="1.3" height="1.3" fill="#8a2a62" opacity="0.26"/>
<rect x="89.8" y="682.5" width="1.3" height="1.3" fill="#8a2a62" opacity="0.10"/>
<rect x="71.7" y="649.8" width="1.3" height="1.3" fill="#8a2a62" opacity="0.44"/>
<rect x="90.3" y="658.9" width="1.3" height="1.3" fill="#8a2a62" opacity="0.19"/>
<rect x="75.9" y="690.3" width="1.3" height="1.3" fill="#8a2a62" opacity="0.10"/>
<rect x="96.5" y="644.4" width="1.3" height="1.3" fill="#8a2a62" opacity="0.66"/>
<rect x="83.3" y="672.4" width="1.3" height="1.3" fill="#8a2a62" opacity="0.10"/>
<rect x="74.5" y="672.3" width="1.3" height="1.3" fill="#8a2a62" opacity="0.10"/>
<rect x="88.2" y="658.2" width="1.3" height="1.3" fill="#8a2a62" opacity="0.21"/>
<rect x="74.8" y="662.0" width="1.3" height="1.3" fill="#8a2a62" opacity="0.15"/>
<rect x="87.1" y="644.1" width="1.3" height="1.3" fill="#8a2a62" opacity="0.67"/>
<rect x="74.2" y="686.3" width="1.3" height="1.3" fill="#8a2a62" opacity="0.10"/>
<rect x="72.7" y="643.4" width="1.3" height="1.3" fill="#8a2a62" opacity="0.70"/>
<rect x="80.9" y="676.5" width="1.3" height="1.3" fill="#8a2a62" opacity="0.10"/>
<rect x="96.8" y="653.4" width="1.3" height="1.3" fill="#8a2a62" opacity="0.32"/>
<rect x="77.5" y="662.5" width="1.3" height="1.3" fill="#8a2a62" opacity="0.14"/>
<rect x="70.6" y="669.2" width="1.3" height="1.3" fill="#8a2a62" opacity="0.10"/>
<rect x="89.0" y="646.9" width="1.3" height="1.3" fill="#8a2a62" opacity="0.55"/>
<rect x="71.4" y="644.6" width="1.3" height="1.3" fill="#8a2a62" opacity="0.65"/>
<rect x="79.2" y="656.7" width="1.3" height="1.3" fill="#8a2a62" opacity="0.24"/>
<rect x="73.2" y="696.2" width="1.3" height="1.3" fill="#8a2a62" opacity="0.10"/>
<rect x="80.8" y="678.1" width="1.3" height="1.3" fill="#8a2a62" opacity="0.10"/>
<rect x="82.3" y="678.4" width="1.3" height="1.3" fill="#8a2a62" opacity="0.10"/>
<rect x="79.2" y="666.5" width="1.3" height="1.3" fill="#8a2a62" opacity="0.11"/>
<rect x="82.5" y="645.5" width="1.3" height="1.3" fill="#8a2a62" opacity="0.61"/>
<rect x="79.7" y="677.9" width="1.3" height="1.3" fill="#8a2a62" opacity="0.10"/>
<rect x="81.5" y="645.7" width="1.3" height="1.3" fill="#8a2a62" opacity="0.60"/>
<rect x="78.9" y="643.8" width="1.3" height="1.3" fill="#8a2a62" opacity="0.68"/>
<rect x="85.0" y="659.9" width="1.3" height="1.3" fill="#8a2a62" opacity="0.18"/>
<rect x="78.2" y="661.5" width="1.3" height="1.3" fill="#8a2a62" opacity="0.15"/>
<rect x="71.2" y="643.5" width="1.3" height="1.3" fill="#8a2a62" opacity="0.70"/>
<rect x="75.7" y="648.6" width="1.3" height="1.3" fill="#8a2a62" opacity="0.48"/>
<rect x="77.5" y="659.7" width="1.3" height="1.3" fill="#8a2a62" opacity="0.18"/>
<rect x="86.4" y="674.3" width="1.3" height="1.3" fill="#8a2a62" opacity="0.10"/>
<rect x="90.0" y="666.1" width="1.3" height="1.3" fill="#8a2a62" opacity="0.11"/>
<rect x="81.8" y="656.9" width="1.3" height="1.3" fill="#8a2a62" opacity="0.24"/>
<rect x="72.2" y="647.7" width="1.3" height="1.3" fill="#8a2a62" opacity="0.52"/>
<rect x="83.8" y="677.3" width="1.3" height="1.3" fill="#8a2a62" opacity="0.10"/>
<rect x="95.1" y="643.8" width="1.3" height="1.3" fill="#8a2a62" opacity="0.68"/>
<rect x="87.0" y="660.5" width="1.3" height="1.3" fill="#8a2a62" opacity="0.17"/>
<rect x="73.8" y="652.6" width="1.3" height="1.3" fill="#8a2a62" opacity="0.35"/>
<rect x="75.0" y="699.6" width="1.3" height="1.3" fill="#8a2a62" opacity="0.10"/>
</g>
<rect x="70.50" y="643.04" width="26.50" height="3.50" fill="#8a2a62" opacity="0.55"/>
<g stroke="#3a1030" fill="none" stroke-width="1.2">
<line x1="84" y1="644.0" x2="84" y2="646.3"/>
<rect x="79.3" y="646.3" width="9" height="10.6"/>
<line x1="79.3" y1="649.4" x2="88.3" y2="649.4" stroke-dasharray="2 1"/>
<line x1="84" y1="657" x2="84" y2="673.8" stroke-dasharray="3 2"/>
<line x1="81.8" y1="673.8" x2="86.2" y2="673.8"/>
<line x1="81.8" y1="643.3" x2="86.2" y2="643.3"/>
</g>
<line x1="57.90" y1="638.70" x2="57.90" y2="727.60" stroke="#1a1a1a" stroke-width="1.2" />
<line x1="57.40" y1="727.10" x2="109.00" y2="727.10" stroke="#1a1a1a" stroke-width="1.2" />
<line x1="54.90" y1="725.80" x2="57.90" y2="725.80" stroke="#1a1a1a" stroke-width="1" />
<text x="51.60" y="729.10" font-size="9.2" fill="#2a2a2a" text-anchor="end" stroke="#2a2a2a" stroke-width="0.22" textLength="12.09" lengthAdjust="spacingAndGlyphs" >0.0</text>
<line x1="54.90" y1="705.36" x2="57.90" y2="705.36" stroke="#1a1a1a" stroke-width="1" />
<text x="51.60" y="708.66" font-size="9.2" fill="#2a2a2a" text-anchor="end" stroke="#2a2a2a" stroke-width="0.22" textLength="12.09" lengthAdjust="spacingAndGlyphs" >0.2</text>
<line x1="54.90" y1="684.92" x2="57.90" y2="684.92" stroke="#1a1a1a" stroke-width="1" />
<text x="51.60" y="688.22" font-size="9.2" fill="#2a2a2a" text-anchor="end" stroke="#2a2a2a" stroke-width="0.22" textLength="12.09" lengthAdjust="spacingAndGlyphs" >0.4</text>
<line x1="54.90" y1="664.48" x2="57.90" y2="664.48" stroke="#1a1a1a" stroke-width="1" />
<text x="51.60" y="667.78" font-size="9.2" fill="#2a2a2a" text-anchor="end" stroke="#2a2a2a" stroke-width="0.22" textLength="12.09" lengthAdjust="spacingAndGlyphs" >0.6</text>
<line x1="54.90" y1="644.04" x2="57.90" y2="644.04" stroke="#1a1a1a" stroke-width="1" />
<text x="51.60" y="647.34" font-size="9.2" fill="#2a2a2a" text-anchor="end" stroke="#2a2a2a" stroke-width="0.22" textLength="12.09" lengthAdjust="spacingAndGlyphs" >0.8</text>
<text x="70.00" y="722.90" font-size="8.8" fill="#94346a" text-anchor="start" stroke="#94346a" stroke-width="0.22" textLength="26.80" lengthAdjust="spacingAndGlyphs" >STHSC</text>
<text x="33.00" y="707.70" font-size="10" fill="#2a2a2a" text-anchor="start" stroke="#2a2a2a" stroke-width="0.22" textLength="49.50" lengthAdjust="spacingAndGlyphs" transform="rotate(-90 33.00 707.70)" >log(<tspan font-style="italic">v&#773;</tspan><tspan font-size="6.5" dy="2">sKO</tspan><tspan dy="-2">/<tspan font-style="italic">v&#773;</tspan></tspan><tspan font-size="6.5" dy="2">sWT</tspan><tspan dy="-2">)</tspan></text>
<text x="67.50" y="738.60" font-size="9" fill="#2a2a2a" text-anchor="start" stroke="#2a2a2a" stroke-width="0.22" textLength="32.70" lengthAdjust="spacingAndGlyphs" ><tspan font-style="italic">v&#773;</tspan><tspan font-size="5.5" dy="1.5">s</tspan><tspan dy="-1.5"> = </tspan><tspan font-style="italic">v</tspan><tspan font-size="5.5" dy="1.5">s</tspan><tspan dy="-1.5">/</tspan><tspan font-style="italic">r</tspan><tspan font-size="5.5" dy="1.5">s</tspan></text>
<clipPath id="cp0"><rect x="150.4" y="638.9" width="57.6" height="88.39999999999998"/></clipPath>
<g clip-path="url(#cp0)">
<line x1="182.30" y1="638.90" x2="182.30" y2="727.30" stroke="#8f8f8f" stroke-width="0.9" />
<line x1="150.40" y1="678.20" x2="208.00" y2="678.20" stroke="#8f8f8f" stroke-width="0.9" />
<linearGradient id="lg0" gradientUnits="userSpaceOnUse" x1="160.6" y1="701.3" x2="182.4" y2="668.3"><stop offset="0" stop-color="#e8899b" stop-opacity="0.24"/><stop offset="0.45" stop-color="#e8899b" stop-opacity="0.61"/><stop offset="1" stop-color="#e8899b" stop-opacity="0.68"/></linearGradient>
<line x1="160.6" y1="701.3" x2="182.4" y2="668.3" stroke="url(#lg0)" stroke-width="2.8" stroke-linecap="round"/>
<rect x="190.0" y="656.3" width="1.4" height="1.4" fill="#e8899b" opacity="0.26"/>
<rect x="196.4" y="646.6" width="1.4" height="1.4" fill="#e8899b" opacity="0.18"/>
<rect x="197.0" y="645.9" width="1.4" height="1.4" fill="#e8899b" opacity="0.17"/>
<rect x="192.2" y="652.7" width="1.4" height="1.4" fill="#e8899b" opacity="0.23"/>
<rect x="194.2" y="651.0" width="1.4" height="1.4" fill="#e8899b" opacity="0.21"/>
<rect x="184.7" y="663.9" width="1.4" height="1.4" fill="#e8899b" opacity="0.32"/>
<rect x="191.4" y="655.8" width="1.4" height="1.4" fill="#e8899b" opacity="0.25"/>
<rect x="195.3" y="649.2" width="1.4" height="1.4" fill="#e8899b" opacity="0.20"/>
<rect x="183.9" y="666.0" width="1.4" height="1.4" fill="#e8899b" opacity="0.33"/>
<rect x="194.5" y="649.7" width="1.4" height="1.4" fill="#e8899b" opacity="0.20"/>
<rect x="186.5" y="661.4" width="1.4" height="1.4" fill="#e8899b" opacity="0.30"/>
<rect x="195.6" y="648.5" width="1.4" height="1.4" fill="#e8899b" opacity="0.19"/>
<rect x="196.6" y="646.2" width="1.4" height="1.4" fill="#e8899b" opacity="0.17"/>
<rect x="190.1" y="655.9" width="1.4" height="1.4" fill="#e8899b" opacity="0.25"/>
</g>
<rect x="150.4" y="638.9" width="57.6" height="88.39999999999998" fill="none" stroke="#1a1a1a" stroke-width="1.3"/>
<line x1="147.80" y1="653.20" x2="150.40" y2="653.20" stroke="#1a1a1a" stroke-width="1" />
<line x1="147.80" y1="678.20" x2="150.40" y2="678.20" stroke="#1a1a1a" stroke-width="1" />
<line x1="147.80" y1="703.20" x2="150.40" y2="703.20" stroke="#1a1a1a" stroke-width="1" />
<line x1="166.00" y1="727.30" x2="166.00" y2="729.90" stroke="#1a1a1a" stroke-width="1" />
<line x1="182.30" y1="727.30" x2="182.30" y2="729.90" stroke="#1a1a1a" stroke-width="1" />
<line x1="198.60" y1="727.30" x2="198.60" y2="729.90" stroke="#1a1a1a" stroke-width="1" />
<text x="167.60" y="649.70" font-size="8.8" fill="#eea2b2" text-anchor="start" stroke="#eea2b2" stroke-width="0.22" textLength="22.30" lengthAdjust="spacingAndGlyphs" >MPP2</text>
<text x="158.80" y="712.10" font-size="9.2" fill="#2a2a2a" text-anchor="start" stroke="#2a2a2a" stroke-width="0.22" textLength="41.60" lengthAdjust="spacingAndGlyphs" >y = 1.007&#215;</text>
<text x="171.70" y="722.40" font-size="9.2" fill="#2a2a2a" text-anchor="start" stroke="#2a2a2a" stroke-width="0.22" textLength="28.70" lengthAdjust="spacingAndGlyphs" >+ 1.899</text>
<clipPath id="cp1"><rect x="218.2" y="638.9" width="58.6" height="88.39999999999998"/></clipPath>
<g clip-path="url(#cp1)">
<line x1="250.30" y1="638.90" x2="250.30" y2="727.30" stroke="#8f8f8f" stroke-width="0.9" />
<line x1="218.20" y1="678.20" x2="276.80" y2="678.20" stroke="#8f8f8f" stroke-width="0.9" />
<linearGradient id="lg1" gradientUnits="userSpaceOnUse" x1="226.8" y1="707.2" x2="252.8" y2="668.8"><stop offset="0" stop-color="#29297f" stop-opacity="0.35"/><stop offset="0.45" stop-color="#29297f" stop-opacity="0.90"/><stop offset="1" stop-color="#29297f" stop-opacity="1.00"/></linearGradient>
<line x1="226.8" y1="707.2" x2="252.8" y2="668.8" stroke="url(#lg1)" stroke-width="3.0" stroke-linecap="round"/>
<rect x="260.7" y="656.4" width="1.4" height="1.4" fill="#29297f" opacity="0.17"/>
<rect x="254.0" y="667.6" width="1.4" height="1.4" fill="#29297f" opacity="0.33"/>
<rect x="254.1" y="665.5" width="1.4" height="1.4" fill="#29297f" opacity="0.31"/>
<rect x="257.2" y="660.9" width="1.4" height="1.4" fill="#29297f" opacity="0.24"/>
<rect x="257.9" y="661.8" width="1.4" height="1.4" fill="#29297f" opacity="0.25"/>
<rect x="256.6" y="662.8" width="1.4" height="1.4" fill="#29297f" opacity="0.27"/>
<rect x="257.7" y="660.9" width="1.4" height="1.4" fill="#29297f" opacity="0.23"/>
<rect x="261.1" y="655.6" width="1.4" height="1.4" fill="#29297f" opacity="0.16"/>
<rect x="258.0" y="660.2" width="1.4" height="1.4" fill="#29297f" opacity="0.23"/>
<rect x="262.6" y="654.6" width="1.4" height="1.4" fill="#29297f" opacity="0.15"/>
<rect x="259.8" y="658.7" width="1.4" height="1.4" fill="#29297f" opacity="0.21"/>
<rect x="257.9" y="660.2" width="1.4" height="1.4" fill="#29297f" opacity="0.23"/>
<rect x="259.1" y="659.8" width="1.4" height="1.4" fill="#29297f" opacity="0.22"/>
<rect x="253.4" y="668.0" width="1.4" height="1.4" fill="#29297f" opacity="0.33"/>
</g>
<rect x="218.2" y="638.9" width="58.6" height="88.39999999999998" fill="none" stroke="#1a1a1a" stroke-width="1.3"/>
<line x1="215.60" y1="653.20" x2="218.20" y2="653.20" stroke="#1a1a1a" stroke-width="1" />
<line x1="215.60" y1="678.20" x2="218.20" y2="678.20" stroke="#1a1a1a" stroke-width="1" />
<line x1="215.60" y1="703.20" x2="218.20" y2="703.20" stroke="#1a1a1a" stroke-width="1" />
<line x1="234.00" y1="727.30" x2="234.00" y2="729.90" stroke="#1a1a1a" stroke-width="1" />
<line x1="250.30" y1="727.30" x2="250.30" y2="729.90" stroke="#1a1a1a" stroke-width="1" />
<line x1="266.60" y1="727.30" x2="266.60" y2="729.90" stroke="#1a1a1a" stroke-width="1" />
<text x="235.40" y="649.70" font-size="8.8" fill="#4a4aa0" text-anchor="start" stroke="#4a4aa0" stroke-width="0.22" textLength="22.30" lengthAdjust="spacingAndGlyphs" >MPP3</text>
<text x="226.60" y="712.10" font-size="9.2" fill="#2a2a2a" text-anchor="start" stroke="#2a2a2a" stroke-width="0.22" textLength="41.60" lengthAdjust="spacingAndGlyphs" >y = 0.996&#215;</text>
<text x="239.50" y="722.40" font-size="9.2" fill="#2a2a2a" text-anchor="start" stroke="#2a2a2a" stroke-width="0.22" textLength="28.70" lengthAdjust="spacingAndGlyphs" >+ 1.034</text>
<clipPath id="cp2"><rect x="286.6" y="638.9" width="56.2" height="88.39999999999998"/></clipPath>
<g clip-path="url(#cp2)">
<line x1="317.60" y1="638.90" x2="317.60" y2="727.30" stroke="#8f8f8f" stroke-width="0.9" />
<line x1="286.60" y1="678.20" x2="342.80" y2="678.20" stroke="#8f8f8f" stroke-width="0.9" />
<linearGradient id="lg2" gradientUnits="userSpaceOnUse" x1="294.4" y1="713" x2="322.3" y2="672.6"><stop offset="0" stop-color="#1f9797" stop-opacity="0.35"/><stop offset="0.45" stop-color="#1f9797" stop-opacity="0.90"/><stop offset="1" stop-color="#1f9797" stop-opacity="1.00"/></linearGradient>
<line x1="294.4" y1="713.0" x2="322.3" y2="672.6" stroke="url(#lg2)" stroke-width="2.7" stroke-linecap="round"/>
<rect x="326.7" y="664.0" width="1.4" height="1.4" fill="#1f9797" opacity="0.23"/>
<rect x="330.0" y="657.6" width="1.4" height="1.4" fill="#1f9797" opacity="0.15"/>
<rect x="328.2" y="660.8" width="1.4" height="1.4" fill="#1f9797" opacity="0.19"/>
<rect x="323.9" y="669.3" width="1.4" height="1.4" fill="#1f9797" opacity="0.31"/>
<rect x="323.1" y="670.8" width="1.4" height="1.4" fill="#1f9797" opacity="0.33"/>
<rect x="327.8" y="661.5" width="1.4" height="1.4" fill="#1f9797" opacity="0.19"/>
<rect x="328.5" y="661.1" width="1.4" height="1.4" fill="#1f9797" opacity="0.19"/>
<rect x="324.5" y="668.9" width="1.4" height="1.4" fill="#1f9797" opacity="0.30"/>
<rect x="324.6" y="669.1" width="1.4" height="1.4" fill="#1f9797" opacity="0.30"/>
<rect x="325.6" y="667.0" width="1.4" height="1.4" fill="#1f9797" opacity="0.28"/>
<rect x="327.0" y="663.3" width="1.4" height="1.4" fill="#1f9797" opacity="0.22"/>
<rect x="323.8" y="669.4" width="1.4" height="1.4" fill="#1f9797" opacity="0.30"/>
<rect x="324.2" y="670.7" width="1.4" height="1.4" fill="#1f9797" opacity="0.32"/>
<rect x="326.4" y="663.2" width="1.4" height="1.4" fill="#1f9797" opacity="0.23"/>
</g>
<rect x="286.6" y="638.9" width="56.2" height="88.39999999999998" fill="none" stroke="#1a1a1a" stroke-width="1.3"/>
<line x1="284.00" y1="653.20" x2="286.60" y2="653.20" stroke="#1a1a1a" stroke-width="1" />
<line x1="284.00" y1="678.20" x2="286.60" y2="678.20" stroke="#1a1a1a" stroke-width="1" />
<line x1="284.00" y1="703.20" x2="286.60" y2="703.20" stroke="#1a1a1a" stroke-width="1" />
<line x1="301.30" y1="727.30" x2="301.30" y2="729.90" stroke="#1a1a1a" stroke-width="1" />
<line x1="317.60" y1="727.30" x2="317.60" y2="729.90" stroke="#1a1a1a" stroke-width="1" />
<line x1="333.90" y1="727.30" x2="333.90" y2="729.90" stroke="#1a1a1a" stroke-width="1" />
<text x="303.80" y="649.70" font-size="8.8" fill="#38a2aa" text-anchor="start" stroke="#38a2aa" stroke-width="0.22" textLength="22.30" lengthAdjust="spacingAndGlyphs" >MPP4</text>
<text x="295.00" y="712.10" font-size="9.2" fill="#2a2a2a" text-anchor="start" stroke="#2a2a2a" stroke-width="0.22" textLength="41.60" lengthAdjust="spacingAndGlyphs" >y = 0.985&#215;</text>
<text x="307.90" y="722.40" font-size="9.2" fill="#2a2a2a" text-anchor="start" stroke="#2a2a2a" stroke-width="0.22" textLength="28.70" lengthAdjust="spacingAndGlyphs" >&#8211; 0.140</text>
<text x="143.70" y="656.50" font-size="9" fill="#2a2a2a" text-anchor="end" stroke="#2a2a2a" stroke-width="0.22" textLength="4.67" lengthAdjust="spacingAndGlyphs" >5</text>
<text x="143.70" y="681.50" font-size="9" fill="#2a2a2a" text-anchor="end" stroke="#2a2a2a" stroke-width="0.22" textLength="4.67" lengthAdjust="spacingAndGlyphs" >0</text>
<text x="143.70" y="706.50" font-size="9" fill="#2a2a2a" text-anchor="end" stroke="#2a2a2a" stroke-width="0.22" textLength="9.58" lengthAdjust="spacingAndGlyphs" >&#8722;5</text>
<text x="166.00" y="742.00" font-size="9" fill="#2a2a2a" text-anchor="middle" stroke="#2a2a2a" stroke-width="0.22" textLength="9.58" lengthAdjust="spacingAndGlyphs" >&#8722;5</text>
<text x="182.30" y="742.00" font-size="9" fill="#2a2a2a" text-anchor="middle" stroke="#2a2a2a" stroke-width="0.22" textLength="4.67" lengthAdjust="spacingAndGlyphs" >0</text>
<text x="198.60" y="742.00" font-size="9" fill="#2a2a2a" text-anchor="middle" stroke="#2a2a2a" stroke-width="0.22" textLength="4.67" lengthAdjust="spacingAndGlyphs" >5</text>
<text x="128.40" y="717.40" font-size="10" fill="#2a2a2a" text-anchor="start" stroke="#2a2a2a" stroke-width="0.22" textLength="69.80" lengthAdjust="spacingAndGlyphs" transform="rotate(-90 128.40 717.40)" >log(<tspan font-style="italic">br</tspan><tspan font-size="6.5" dy="2">M#KO</tspan><tspan dy="-2">/<tspan font-style="italic">br</tspan></tspan><tspan font-size="6.5" dy="2">M#WT</tspan><tspan dy="-2">)</tspan></text>
<text x="186.70" y="755.00" font-size="10" fill="#2a2a2a" text-anchor="start" stroke="#2a2a2a" stroke-width="0.22" textLength="119.40" lengthAdjust="spacingAndGlyphs" >log((<tspan font-style="italic">&#957;</tspan><tspan font-size="6.5" dy="2">M#KO</tspan><tspan dy="-2">&#183;<tspan font-style="italic">r</tspan></tspan><tspan font-size="6.5" dy="2">M#KO</tspan><tspan dy="-2">)/ (<tspan font-style="italic">&#957;</tspan></tspan><tspan font-size="6.5" dy="2">M#WT</tspan><tspan dy="-2">&#183;<tspan font-style="italic">r</tspan></tspan><tspan font-size="6.5" dy="2">M#WT</tspan><tspan dy="-2">))</tspan></text>
<text x="359.80" y="649.20" font-size="12" fill="#000" text-anchor="start" font-weight="bold" >H</text>
<g stroke="#e89aab" stroke-width="1.1">
<line x1="410.6" y1="664.2" x2="410.6" y2="674.6" stroke-dasharray="2 2"/>
<line x1="410.6" y1="683.8" x2="410.6" y2="696.9" stroke-dasharray="2 2"/>
</g>
<path d="M408.1,664.2 L413.1,664.2 L410.6,666.7 z" fill="#e89aab"/>
<path d="M408.1,697.4 L413.1,697.4 L410.6,694.9 z" fill="#e89aab"/>
<line x1="410.6" y1="640.8" x2="410.6" y2="662.2" stroke="#e89aab" stroke-width="1" stroke-dasharray="1 3" opacity="0.8"/>
<rect x="407.30" y="674.60" width="6.60" height="9.20" fill="#f5b5c2" />
<line x1="407.30" y1="678.00" x2="413.90" y2="678.00" stroke="#e89aab" stroke-width="1.3" />
<g stroke="#3b2f95" stroke-width="1.1">
<line x1="426.0" y1="666.5" x2="426.0" y2="677.4" stroke-dasharray="2 2"/>
<line x1="426.0" y1="686.6" x2="426.0" y2="698.5" stroke-dasharray="2 2"/>
</g>
<path d="M423.5,666.5 L428.5,666.5 L426.0,669.0 z" fill="#3b2f95"/>
<path d="M423.5,699.0 L428.5,699.0 L426.0,696.5 z" fill="#3b2f95"/>
<rect x="422.40" y="677.40" width="7.20" height="9.20" fill="#7a6cc0" />
<line x1="422.40" y1="682.30" x2="429.60" y2="682.30" stroke="#3b2f95" stroke-width="1.3" />
<g stroke="#3a9aa2" stroke-width="1.1">
<line x1="441.6" y1="675.5" x2="441.6" y2="685.7" stroke-dasharray="2 2"/>
<line x1="441.6" y1="697.4" x2="441.6" y2="703.1" stroke-dasharray="2 2"/>
</g>
<path d="M439.1,675.5 L444.1,675.5 L441.6,678.0 z" fill="#3a9aa2"/>
<path d="M439.1,703.6 L444.1,703.6 L441.6,701.1 z" fill="#3a9aa2"/>
<rect x="438.10" y="685.70" width="6.90" height="11.70" fill="#86c4c8" />
<line x1="438.10" y1="691.20" x2="445.00" y2="691.20" stroke="#3a9aa2" stroke-width="1.3" />
<g stroke="#e89aab" stroke-width="1.1">
<line x1="471.1" y1="690.8" x2="471.1" y2="700.8" stroke-dasharray="2 2"/>
<line x1="471.1" y1="710.8" x2="471.1" y2="723.2" stroke-dasharray="2 2"/>
</g>
<path d="M468.6,690.8 L473.6,690.8 L471.1,693.3 z" fill="#e89aab"/>
<path d="M468.6,723.7 L473.6,723.7 L471.1,721.2 z" fill="#e89aab"/>
<line x1="471.1" y1="669.2" x2="471.1" y2="688.8" stroke="#e89aab" stroke-width="1" stroke-dasharray="1 3" opacity="0.8"/>
<rect x="467.70" y="700.80" width="6.90" height="10.00" fill="#f5b5c2" />
<line x1="467.70" y1="706.10" x2="474.60" y2="706.10" stroke="#e89aab" stroke-width="1.3" />
<g stroke="#3b2f95" stroke-width="1.1">
<line x1="486.7" y1="682.8" x2="486.7" y2="691.8" stroke-dasharray="2 2"/>
<line x1="486.7" y1="700.8" x2="486.7" y2="712.8" stroke-dasharray="2 2"/>
</g>
<path d="M484.2,682.8 L489.2,682.8 L486.7,685.3 z" fill="#3b2f95"/>
<path d="M484.2,713.3 L489.2,713.3 L486.7,710.8 z" fill="#3b2f95"/>
<rect x="483.40" y="691.80" width="6.60" height="9.00" fill="#7a6cc0" />
<line x1="483.40" y1="696.50" x2="490.00" y2="696.50" stroke="#3b2f95" stroke-width="1.3" />
<g stroke="#3a9aa2" stroke-width="1.1">
<line x1="502.5" y1="672.3" x2="502.5" y2="683.1" stroke-dasharray="2 2"/>
<line x1="502.5" y1="695.4" x2="502.5" y2="700" stroke-dasharray="2 2"/>
</g>
<path d="M500.0,672.3 L505.0,672.3 L502.5,674.8 z" fill="#3a9aa2"/>
<path d="M500.0,700.5 L505.0,700.5 L502.5,698.0 z" fill="#3a9aa2"/>
<rect x="499.20" y="683.10" width="6.60" height="12.30" fill="#86c4c8" />
<line x1="499.20" y1="689.20" x2="505.80" y2="689.20" stroke="#3a9aa2" stroke-width="1.3" />
<line x1="402.20" y1="639.00" x2="402.20" y2="727.50" stroke="#1a1a1a" stroke-width="1.2" />
<line x1="401.70" y1="726.90" x2="449.40" y2="726.90" stroke="#1a1a1a" stroke-width="1.2" />
<line x1="399.40" y1="653.80" x2="402.20" y2="653.80" stroke="#1a1a1a" stroke-width="1" />
<line x1="399.40" y1="668.45" x2="402.20" y2="668.45" stroke="#1a1a1a" stroke-width="1" />
<line x1="399.40" y1="683.10" x2="402.20" y2="683.10" stroke="#1a1a1a" stroke-width="1" />
<line x1="399.40" y1="697.75" x2="402.20" y2="697.75" stroke="#1a1a1a" stroke-width="1" />
<line x1="399.40" y1="712.40" x2="402.20" y2="712.40" stroke="#1a1a1a" stroke-width="1" />
<line x1="463.30" y1="639.00" x2="463.30" y2="727.50" stroke="#1a1a1a" stroke-width="1.2" />
<line x1="462.80" y1="726.90" x2="510.90" y2="726.90" stroke="#1a1a1a" stroke-width="1.2" />
<line x1="460.50" y1="653.80" x2="463.30" y2="653.80" stroke="#1a1a1a" stroke-width="1" />
<line x1="460.50" y1="668.45" x2="463.30" y2="668.45" stroke="#1a1a1a" stroke-width="1" />
<line x1="460.50" y1="683.10" x2="463.30" y2="683.10" stroke="#1a1a1a" stroke-width="1" />
<line x1="460.50" y1="697.75" x2="463.30" y2="697.75" stroke="#1a1a1a" stroke-width="1" />
<line x1="460.50" y1="712.40" x2="463.30" y2="712.40" stroke="#1a1a1a" stroke-width="1" />
<text x="395.80" y="657.10" font-size="9" fill="#2a2a2a" text-anchor="end" stroke="#2a2a2a" stroke-width="0.22" textLength="4.73" lengthAdjust="spacingAndGlyphs" >2</text>
<text x="395.80" y="686.40" font-size="9" fill="#2a2a2a" text-anchor="end" stroke="#2a2a2a" stroke-width="0.22" textLength="4.73" lengthAdjust="spacingAndGlyphs" >0</text>
<text x="395.80" y="715.70" font-size="9" fill="#2a2a2a" text-anchor="end" stroke="#2a2a2a" stroke-width="0.22" textLength="9.69" lengthAdjust="spacingAndGlyphs" >&#8722;2</text>
<line x1="410.20" y1="726.90" x2="410.20" y2="729.40" stroke="#1a1a1a" stroke-width="1" />
<line x1="425.80" y1="726.90" x2="425.80" y2="729.40" stroke="#1a1a1a" stroke-width="1" />
<line x1="441.30" y1="726.90" x2="441.30" y2="729.40" stroke="#1a1a1a" stroke-width="1" />
<line x1="470.70" y1="726.90" x2="470.70" y2="729.40" stroke="#1a1a1a" stroke-width="1" />
<line x1="486.80" y1="726.90" x2="486.80" y2="729.40" stroke="#1a1a1a" stroke-width="1" />
<line x1="502.30" y1="726.90" x2="502.30" y2="729.40" stroke="#1a1a1a" stroke-width="1" />
<text x="415.70" y="738.50" font-size="9" fill="#f0a8b8" text-anchor="end" stroke="#f0a8b8" stroke-width="0.22" textLength="25.00" lengthAdjust="spacingAndGlyphs" transform="rotate(-45 415.70 738.50)" >MPP2</text>
<text x="431.30" y="738.50" font-size="9" fill="#3b2f95" text-anchor="end" stroke="#3b2f95" stroke-width="0.22" textLength="25.00" lengthAdjust="spacingAndGlyphs" transform="rotate(-45 431.30 738.50)" >MPP3</text>
<text x="446.80" y="738.50" font-size="9" fill="#2aa0a5" text-anchor="end" stroke="#2aa0a5" stroke-width="0.22" textLength="25.00" lengthAdjust="spacingAndGlyphs" transform="rotate(-45 446.80 738.50)" >MPP4</text>
<text x="418.10" y="650.50" font-size="10" fill="#2a2a2a" text-anchor="start" stroke="#2a2a2a" stroke-width="0.22" textLength="16.90" lengthAdjust="spacingAndGlyphs" ><tspan font-style="italic">br</tspan><tspan font-size="6" dy="1.5">M#</tspan></text>
<text x="474.60" y="650.00" font-size="9" fill="#2a2a2a" text-anchor="start" stroke="#2a2a2a" stroke-width="0.22" textLength="26.20" lengthAdjust="spacingAndGlyphs" ><tspan font-style="italic">&#957;</tspan><tspan font-size="5.5" dy="1.5">M#</tspan><tspan dy="-1.5">&#183;<tspan font-style="italic">r</tspan></tspan><tspan font-size="5.5" dy="1.5">M#</tspan></text>
<text x="380.60" y="708.20" font-size="10" fill="#2a2a2a" text-anchor="start" stroke="#2a2a2a" stroke-width="0.22" textLength="50.50" lengthAdjust="spacingAndGlyphs" transform="rotate(-90 380.60 708.20)" >log(<tspan font-style="italic">&#961;</tspan><tspan font-size="6.5" dy="2">&#183;KO</tspan><tspan dy="-2">/<tspan font-style="italic">&#961;</tspan></tspan><tspan font-size="6.5" dy="2">&#183;WT</tspan><tspan dy="-2">)</tspan></text><rect x="0" y="0" width="520" height="1" fill="#333"/><rect x="0" y="0" width="1.2" height="768" fill="#333"/><rect x="519" y="0" width="1" height="768" fill="#555"/><rect x="0" y="766.6" width="520" height="1.4" fill="#333"/></svg></body></html>
